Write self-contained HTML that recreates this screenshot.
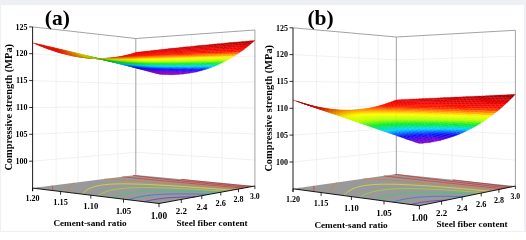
<!DOCTYPE html>
<html><head><meta charset="utf-8"><style>
html,body{margin:0;padding:0;background:#fff;}
svg{display:block;will-change:transform;}
.t{font-family:"Liberation Serif",serif;font-weight:bold;font-size:8px;fill:#000;}
.l{font-family:"Liberation Serif",serif;font-weight:bold;font-size:9.2px;fill:#000;}
.z{font-family:"Liberation Serif",serif;font-weight:bold;font-size:10.35px;fill:#000;}
.h{font-family:"Liberation Serif",serif;font-weight:bold;font-size:21.5px;fill:#000;}
</style></head><body>
<svg width="526" height="232" viewBox="0 0 526 232">
<rect x="0" y="0" width="526" height="232" fill="#eff0f5"/>
<rect x="1" y="5" width="523" height="226" fill="#fff"/>
<path d="M56.1 185.1L56.1 29.5" stroke="#e8e8e8" stroke-width="0.6" fill="none"/>
<path d="M78 182.4L78 32" stroke="#e8e8e8" stroke-width="0.6" fill="none"/>
<path d="M98.5 179.8L98.5 34.3" stroke="#e8e8e8" stroke-width="0.6" fill="none"/>
<path d="M117.8 177.4L117.8 36.5" stroke="#e8e8e8" stroke-width="0.6" fill="none"/>
<path d="M162.7 177.6L162.7 36.6" stroke="#e8e8e8" stroke-width="0.6" fill="none"/>
<path d="M191.4 180.2L191.4 34.5" stroke="#e8e8e8" stroke-width="0.6" fill="none"/>
<path d="M222 183L222 32.3" stroke="#e8e8e8" stroke-width="0.6" fill="none"/>
<path d="M32.6 161.2L135.8 152.3L254.9 160" stroke="#e8e8e8" stroke-width="0.6" fill="none"/>
<path d="M32.6 134.3L135.8 129.6L254.9 134" stroke="#e8e8e8" stroke-width="0.6" fill="none"/>
<path d="M32.6 107.5L135.8 106.8L254.9 108" stroke="#e8e8e8" stroke-width="0.6" fill="none"/>
<path d="M32.6 80.6L135.8 84L254.9 82" stroke="#e8e8e8" stroke-width="0.6" fill="none"/>
<path d="M32.6 53.7L135.8 61.3L254.9 56" stroke="#e8e8e8" stroke-width="0.6" fill="none"/>
<path d="M32.6 26.9L135.8 38.5L254.9 30" stroke="#8c8c8c" stroke-width="0.8" fill="none"/>
<path d="M135.8 175.1L135.8 38.5" stroke="#8c8c8c" stroke-width="0.8" fill="none"/>
<path d="M254.9 186L254.9 30" stroke="#8c8c8c" stroke-width="0.8" fill="none"/>
<path d="M32.6 188.1L159 203.5L254.9 186L135.8 175.1Z" fill="#999999"/>
<path d="M144.6 201.7L146.3 201.2L149.2 200.5L152.3 199.9L155.7 199.3L159.4 198.8L163.5 198.3L166.4 198L169.6 197.7L173.1 197.5L176.5 197.3L180.4 197.1L184.5 197L188 196.9L191.4 196.8L195.5 196.8L195.5 196.8" stroke="#6928cb" stroke-width="0.7" fill="none"/>
<path d="M128.5 199.7L129.9 199.2L132.2 198.5L133.9 198.1L136.6 197.4L138.5 197L141.7 196.4L145.1 195.9L147.8 195.5L151.6 195.1L154.6 194.8L158.1 194.6L161.6 194.4L164.8 194.2L168.8 194.1L172.9 194L175.5 193.9L180.1 193.9L183 193.9L186.7 193.9L190.9 194L194.7 194L197.9 194.1L201.4 194.2L205 194.3L208.6 194.4" stroke="#2a72e3" stroke-width="0.7" fill="none"/>
<path d="M112.7 197.8L113.9 197.3L115.3 196.7L116.9 196.1L118.3 195.6L119.8 195.1L121.5 194.6L123.9 194L126 193.6L128.6 193.1L131.9 192.6L135 192.2L138.3 191.9L141.2 191.6L144.7 191.4L148 191.2L151.4 191.1L155.5 190.9L158.6 190.9L162.3 190.9L165.3 190.9L169.5 190.9L173.1 190.9L176.1 191L179.4 191.1L183 191.2L186.7 191.3L190.3 191.4L194.2 191.5L198.4 191.7L202.7 191.9L206.1 192.1L209.6 192.2L213 192.4L218.1 192.7L218.1 192.7" stroke="#26d181" stroke-width="0.7" fill="none"/>
<path d="M97.3 195.9L98.1 195.4L98.8 195L99.6 194.5L100.4 194.1L101.4 193.6L102.4 193.1L103.6 192.6L105 192.1L106.6 191.5L108.1 191L109.6 190.6L111.9 190.1L113.8 189.7L116.8 189.2L120.1 188.7L123.6 188.4L126.8 188.1L129.9 187.9L133.4 187.8L136.9 187.7L139.4 187.6L143.7 187.6L146.1 187.6L150 187.6L153.8 187.7L157.3 187.7L160.6 187.8L164.1 187.9L167.8 188L171.4 188.2L174.7 188.3L178 188.5L181.3 188.6L185.2 188.8L189.3 189L192.5 189.2L195.9 189.4L200.5 189.7L203.6 189.9L208.2 190.2L211.5 190.4L215.1 190.6L219.4 190.9L222.6 191.1L225.7 191.3" stroke="#9ce32a" stroke-width="0.7" fill="none"/>
<path d="M82.3 194.1L82.6 193.7L83 193.3L83.6 192.7L84.1 192.2L84.5 191.8L85.1 191.3L85.8 190.8L86.5 190.3L87.1 189.9L87.7 189.5L88.5 189.1L89.4 188.6L90.3 188.2L91.3 187.7L92.4 187.3L93.6 186.9L94.9 186.5L97.1 186L98.7 185.6L101.4 185.1L104.6 184.7L108.3 184.3L111.1 184.2L114.3 184L118 183.9L120.6 183.9L124.5 183.8L127 183.9L130.3 183.9L133.8 184L137.1 184.1L140.4 184.2L143.6 184.3L146.7 184.4L150.9 184.6L154.3 184.8L157.3 185L160.8 185.1L164.7 185.4L167.7 185.5L172.1 185.8L175 186L179.1 186.3L182.3 186.5L186.4 186.7L189.5 187L193.9 187.3L196.8 187.5L201.2 187.8L204.1 188L208.5 188.3L212.7 188.6L215.9 188.9L220.3 189.2L223.3 189.4L227.8 189.8L232.3 190.1L232.3 190.1" stroke="#e5e526" stroke-width="0.7" fill="none"/>
<path d="M67.5 192.3L67.7 191.7L67.9 191.4L68.1 190.8L68.2 190.4L68.4 190L68.6 189.5L68.8 189.1L69 188.6L69.2 188.3L69.5 187.8L69.7 187.4L69.9 187L70.2 186.5L70.4 186.2L70.8 185.7L71.1 185.3L71.4 185L71.8 184.5L72.1 184.1L72.5 183.8L73 183.3L73.5 182.9L73.5 182.9" stroke="#e57826" stroke-width="0.7" fill="none"/>
<path d="M104.1 179.1L107.1 179.2L109.9 179.3L113.2 179.5L116.7 179.7L119.3 179.8L123.3 180.1L125.9 180.2L129.7 180.5L132.3 180.7L136.1 180.9L138.7 181.1L142.5 181.4L146.3 181.7L148.9 181.9L152.7 182.1L156.6 182.4L159.2 182.6L163 182.9L166.9 183.2L169.5 183.4L173.4 183.8L177.4 184.1L181.3 184.4L184 184.6L188 184.9L192 185.3L195.7 185.6L198.8 185.8L202.8 186.1L207 186.5L211.1 186.8L213.9 187L218.1 187.4L222.3 187.7L226.5 188.1L229.4 188.3L233.7 188.7L238 189.1L238 189.1" stroke="#e57826" stroke-width="0.7" fill="none"/>
<path d="M53.1 190.6L53 190.1L52.9 189.6L52.9 189.3L52.8 188.8L52.7 188.4L52.6 187.9L52.5 187.5L52.4 187.2L52.3 186.6L52.2 186.3L52 185.9L52 185.6" stroke="#e03026" stroke-width="0.7" fill="none"/>
<path d="M122.5 176.8L124.5 177L127.5 177.3L130.6 177.6L133.7 178L136.8 178.3L140 178.6L143.3 178.9L146.6 179.3L149.9 179.6L153.3 179.9L156.6 180.2L160.1 180.6L163.6 180.9L167.1 181.2L170.6 181.5L174.2 181.9L177.8 182.2L181.4 182.6L185.1 182.9L188.8 183.2L192.6 183.6L196.4 183.9L200.2 184.3L204.1 184.6L208 185L211.9 185.3L215.9 185.7L218.5 185.9L222.5 186.3L226.6 186.6L230.7 187L234.8 187.4L239 187.7L243.2 188.1L243.2 188.1" stroke="#e03026" stroke-width="0.7" fill="none"/>
<path d="M38.9 188.8L38.7 188.4L38.3 187.9L38.1 187.5L38 187.4" stroke="#d22626" stroke-width="0.7" fill="none"/>
<path d="M133.2 175.4L135.9 175.8L138.6 176.1L140.5 176.4L143.4 176.7L146.1 177L148.2 177.3L151.2 177.6L154.3 178L156.3 178.2L159.4 178.5L162.6 178.9L165.8 179.2L168.1 179.5L171.2 179.8L174.5 180.1L177.9 180.5L181.3 180.8L184.7 181.2L188.2 181.5L190.5 181.8L194.1 182.1L197.7 182.5L201.3 182.8L205 183.2L208.7 183.6L212.4 183.9L216.2 184.3L220 184.6L223.9 185L227.8 185.4L231.7 185.8L235.7 186.1L239.7 186.5L243.8 186.9L247.9 187.3L247.9 187.3" stroke="#d22626" stroke-width="0.7" fill="none"/>
<path d="M181.3 179.3L184.1 179.6L187.4 179.9L190.7 180.3L193.3 180.6L196.3 180.9L199.8 181.3L203.3 181.6L206.8 182L209.8 182.3L212.7 182.6L216.4 183L220 183.3L223.7 183.7L227.5 184.1L231.3 184.4L235.1 184.8L237.7 185.1L241.6 185.5L245.5 185.8L249.5 186.2L252.2 186.5" stroke="#b42626" stroke-width="0.7" fill="none"/>
<path d="M32.6 188.1L159 203.5L254.9 186" stroke="#000" stroke-width="0.9" fill="none"/>
<path d="M32.6 188.1V191.3" stroke="#000" stroke-width="0.8"/>
<path d="M60.6 191.5V194.8" stroke="#000" stroke-width="0.8"/>
<path d="M90.8 195.2V198.6" stroke="#000" stroke-width="0.8"/>
<path d="M123.5 199.1V202.7" stroke="#000" stroke-width="0.8"/>
<path d="M159 203.5V207.2" stroke="#000" stroke-width="0.8"/>
<path d="M181.3 199.4V203" stroke="#000" stroke-width="0.8"/>
<path d="M201.8 195.7V199.1" stroke="#000" stroke-width="0.8"/>
<path d="M220.8 192.2V195.5" stroke="#000" stroke-width="0.8"/>
<path d="M238.5 189V192.2" stroke="#000" stroke-width="0.8"/>
<path d="M254.9 186V189.1" stroke="#000" stroke-width="0.8"/>
<path d="M133.1 53.4L136.3 53L139.1 52.1L135.8 52.5Z" fill="#df0000" stroke="#df0000" stroke-width="0.3"/>
<path d="M136.3 53L139.6 52.7L142.4 51.7L139.1 52.1Z" fill="#dd0000" stroke="#dd0000" stroke-width="0.3"/>
<path d="M130.3 54.2L133.6 53.9L136.3 53L133.1 53.4Z" fill="#e70100" stroke="#e70100" stroke-width="0.3"/>
<path d="M139.6 52.7L143 52.3L145.7 51.3L142.4 51.7Z" fill="#db0000" stroke="#db0000" stroke-width="0.3"/>
<path d="M133.6 53.9L136.9 53.5L139.6 52.7L136.3 53Z" fill="#e80100" stroke="#e80100" stroke-width="0.3"/>
<path d="M127.5 54.9L130.8 54.6L133.6 53.9L130.3 54.2Z" fill="#e80500" stroke="#e80500" stroke-width="0.3"/>
<path d="M143 52.3L146.3 52L149 50.9L145.7 51.3Z" fill="#d90000" stroke="#d90000" stroke-width="0.3"/>
<path d="M136.9 53.5L140.2 53.2L143 52.3L139.6 52.7Z" fill="#e70100" stroke="#e70100" stroke-width="0.3"/>
<path d="M130.8 54.6L134.1 54.4L136.9 53.5L133.6 53.9Z" fill="#eb0500" stroke="#eb0500" stroke-width="0.3"/>
<path d="M124.7 55.6L128 55.3L130.8 54.6L127.5 54.9Z" fill="#e70900" stroke="#e70900" stroke-width="0.3"/>
<path d="M146.3 52L149.7 51.6L152.4 50.6L149 50.9Z" fill="#d70000" stroke="#d70000" stroke-width="0.3"/>
<path d="M140.2 53.2L143.6 52.9L146.3 52L143 52.3Z" fill="#e60000" stroke="#e60000" stroke-width="0.3"/>
<path d="M134.1 54.4L137.4 54.1L140.2 53.2L136.9 53.5Z" fill="#ec0500" stroke="#ec0500" stroke-width="0.3"/>
<path d="M128 55.3L131.3 55.1L134.1 54.4L130.8 54.6Z" fill="#ec0800" stroke="#ec0800" stroke-width="0.3"/>
<path d="M121.8 56.2L125.1 56L128 55.3L124.7 55.6Z" fill="#e70c00" stroke="#e70c00" stroke-width="0.3"/>
<path d="M149.7 51.6L153.1 51.3L155.8 50.2L152.4 50.6Z" fill="#d50000" stroke="#d50000" stroke-width="0.3"/>
<path d="M143.6 52.9L147 52.6L149.7 51.6L146.3 52Z" fill="#e50000" stroke="#e50000" stroke-width="0.3"/>
<path d="M137.4 54.1L140.8 53.8L143.6 52.9L140.2 53.2Z" fill="#ec0500" stroke="#ec0500" stroke-width="0.3"/>
<path d="M131.3 55.1L134.6 54.9L137.4 54.1L134.1 54.4Z" fill="#ef0800" stroke="#ef0800" stroke-width="0.3"/>
<path d="M125.1 56L128.4 55.8L131.3 55.1L128 55.3Z" fill="#eb0c00" stroke="#eb0c00" stroke-width="0.3"/>
<path d="M153.1 51.3L156.5 50.9L159.3 49.8L155.8 50.2Z" fill="#d30000" stroke="#d30000" stroke-width="0.3"/>
<path d="M118.9 56.7L122.2 56.6L125.1 56L121.8 56.2Z" fill="#e60f00" stroke="#e60f00" stroke-width="0.3"/>
<path d="M147 52.6L150.4 52.3L153.1 51.3L149.7 51.6Z" fill="#e30000" stroke="#e30000" stroke-width="0.3"/>
<path d="M140.8 53.8L144.2 53.5L147 52.6L143.6 52.9Z" fill="#eb0400" stroke="#eb0400" stroke-width="0.3"/>
<path d="M134.6 54.9L138 54.6L140.8 53.8L137.4 54.1Z" fill="#f10900" stroke="#f10900" stroke-width="0.3"/>
<path d="M128.4 55.8L131.8 55.6L134.6 54.9L131.3 55.1Z" fill="#ef0c00" stroke="#ef0c00" stroke-width="0.3"/>
<path d="M156.5 50.9L160 50.6L162.7 49.4L159.3 49.8Z" fill="#d10000" stroke="#d10000" stroke-width="0.3"/>
<path d="M122.2 56.6L125.5 56.4L128.4 55.8L125.1 56Z" fill="#eb0f00" stroke="#eb0f00" stroke-width="0.3"/>
<path d="M150.4 52.3L153.8 52L156.5 50.9L153.1 51.3Z" fill="#e10000" stroke="#e10000" stroke-width="0.3"/>
<path d="M116 57.2L119.3 57.1L122.2 56.6L118.9 56.7Z" fill="#e41100" stroke="#e41100" stroke-width="0.3"/>
<path d="M144.2 53.5L147.6 53.2L150.4 52.3L147 52.6Z" fill="#eb0400" stroke="#eb0400" stroke-width="0.3"/>
<path d="M138 54.6L141.4 54.4L144.2 53.5L140.8 53.8Z" fill="#f10800" stroke="#f10800" stroke-width="0.3"/>
<path d="M131.8 55.6L135.1 55.4L138 54.6L134.6 54.9Z" fill="#f40c00" stroke="#f40c00" stroke-width="0.3"/>
<path d="M160 50.6L163.5 50.2L166.2 49L162.7 49.4Z" fill="#cf0000" stroke="#cf0000" stroke-width="0.3"/>
<path d="M125.5 56.4L128.9 56.2L131.8 55.6L128.4 55.8Z" fill="#ee0f00" stroke="#ee0f00" stroke-width="0.3"/>
<path d="M153.8 52L157.3 51.7L160 50.6L156.5 50.9Z" fill="#e00000" stroke="#e00000" stroke-width="0.3"/>
<path d="M119.3 57.1L122.6 56.9L125.5 56.4L122.2 56.6Z" fill="#e91100" stroke="#e91100" stroke-width="0.3"/>
<path d="M147.6 53.2L151 53L153.8 52L150.4 52.3Z" fill="#ea0300" stroke="#ea0300" stroke-width="0.3"/>
<path d="M113.1 57.6L116.4 57.5L119.3 57.1L116 57.2Z" fill="#e02400" stroke="#e02400" stroke-width="0.3"/>
<path d="M141.4 54.4L144.8 54.1L147.6 53.2L144.2 53.5Z" fill="#f00800" stroke="#f00800" stroke-width="0.3"/>
<path d="M135.1 55.4L138.5 55.2L141.4 54.4L138 54.6Z" fill="#f60c00" stroke="#f60c00" stroke-width="0.3"/>
<path d="M163.5 50.2L167 49.9L169.7 48.6L166.2 49Z" fill="#cd0000" stroke="#cd0000" stroke-width="0.3"/>
<path d="M128.9 56.2L132.3 56L135.1 55.4L131.8 55.6Z" fill="#f30f00" stroke="#f30f00" stroke-width="0.3"/>
<path d="M157.3 51.7L160.8 51.3L163.5 50.2L160 50.6Z" fill="#de0000" stroke="#de0000" stroke-width="0.3"/>
<path d="M122.6 56.9L126 56.8L128.9 56.2L125.5 56.4Z" fill="#ed1200" stroke="#ed1200" stroke-width="0.3"/>
<path d="M151 53L154.5 52.7L157.3 51.7L153.8 52Z" fill="#ea0300" stroke="#ea0300" stroke-width="0.3"/>
<path d="M116.4 57.5L119.7 57.4L122.6 56.9L119.3 57.1Z" fill="#e52600" stroke="#e52600" stroke-width="0.3"/>
<path d="M144.8 54.1L148.3 53.9L151 53L147.6 53.2Z" fill="#f00800" stroke="#f00800" stroke-width="0.3"/>
<path d="M110.1 57.9L113.4 57.9L116.4 57.5L113.1 57.6Z" fill="#dc3900" stroke="#dc3900" stroke-width="0.3"/>
<path d="M138.5 55.2L142 55L144.8 54.1L141.4 54.4Z" fill="#f50c00" stroke="#f50c00" stroke-width="0.3"/>
<path d="M167 49.9L170.6 49.5L173.3 48.2L169.7 48.6Z" fill="#cb0000" stroke="#cb0000" stroke-width="0.3"/>
<path d="M132.3 56L135.7 55.9L138.5 55.2L135.1 55.4Z" fill="#f70f00" stroke="#f70f00" stroke-width="0.3"/>
<path d="M160.8 51.3L164.3 51L167 49.9L163.5 50.2Z" fill="#dd0000" stroke="#dd0000" stroke-width="0.3"/>
<path d="M126 56.8L129.4 56.7L132.3 56L128.9 56.2Z" fill="#f21300" stroke="#f21300" stroke-width="0.3"/>
<path d="M154.5 52.7L158 52.4L160.8 51.3L157.3 51.7Z" fill="#e90200" stroke="#e90200" stroke-width="0.3"/>
<path d="M119.7 57.4L123.1 57.3L126 56.8L122.6 56.9Z" fill="#e92900" stroke="#e92900" stroke-width="0.3"/>
<path d="M148.3 53.9L151.7 53.7L154.5 52.7L151 53Z" fill="#ef0800" stroke="#ef0800" stroke-width="0.3"/>
<path d="M113.4 57.9L116.8 57.8L119.7 57.4L116.4 57.5Z" fill="#e03c00" stroke="#e03c00" stroke-width="0.3"/>
<path d="M142 55L145.4 54.8L148.3 53.9L144.8 54.1Z" fill="#f50c00" stroke="#f50c00" stroke-width="0.3"/>
<path d="M170.6 49.5L174.1 49.2L176.8 47.9L173.3 48.2Z" fill="#ca0000" stroke="#ca0000" stroke-width="0.3"/>
<path d="M107.1 58.2L110.4 58.1L113.4 57.9L110.1 57.9Z" fill="#d74900" stroke="#d74900" stroke-width="0.3"/>
<path d="M135.7 55.9L139.1 55.7L142 55L138.5 55.2Z" fill="#fa1000" stroke="#fa1000" stroke-width="0.3"/>
<path d="M164.3 51L167.9 50.7L170.6 49.5L167 49.9Z" fill="#db0000" stroke="#db0000" stroke-width="0.3"/>
<path d="M129.4 56.7L132.8 56.5L135.7 55.9L132.3 56Z" fill="#f71300" stroke="#f71300" stroke-width="0.3"/>
<path d="M158 52.4L161.6 52.2L164.3 51L160.8 51.3Z" fill="#e90200" stroke="#e90200" stroke-width="0.3"/>
<path d="M123.1 57.3L126.5 57.2L129.4 56.7L126 56.8Z" fill="#ee2b00" stroke="#ee2b00" stroke-width="0.3"/>
<path d="M151.7 53.7L155.2 53.4L158 52.4L154.5 52.7Z" fill="#ef0700" stroke="#ef0700" stroke-width="0.3"/>
<path d="M116.8 57.8L120.1 57.7L123.1 57.3L119.7 57.4Z" fill="#e54000" stroke="#e54000" stroke-width="0.3"/>
<path d="M145.4 54.8L148.9 54.6L151.7 53.7L148.3 53.9Z" fill="#f50c00" stroke="#f50c00" stroke-width="0.3"/>
<path d="M174.1 49.2L177.8 48.8L180.4 47.5L176.8 47.9Z" fill="#c80000" stroke="#c80000" stroke-width="0.3"/>
<path d="M110.4 58.1L113.8 58.1L116.8 57.8L113.4 57.9Z" fill="#db4f00" stroke="#db4f00" stroke-width="0.3"/>
<path d="M139.1 55.7L142.6 55.5L145.4 54.8L142 55Z" fill="#fa1000" stroke="#fa1000" stroke-width="0.3"/>
<path d="M167.9 50.7L171.4 50.4L174.1 49.2L170.6 49.5Z" fill="#da0000" stroke="#da0000" stroke-width="0.3"/>
<path d="M104.1 58.4L107.4 58.4L110.4 58.1L107.1 58.2Z" fill="#d25700" stroke="#d25700" stroke-width="0.3"/>
<path d="M132.8 56.5L136.2 56.4L139.1 55.7L135.7 55.9Z" fill="#fc1300" stroke="#fc1300" stroke-width="0.3"/>
<path d="M161.6 52.2L165.1 51.9L167.9 50.7L164.3 51Z" fill="#e80200" stroke="#e80200" stroke-width="0.3"/>
<path d="M126.5 57.2L129.9 57.1L132.8 56.5L129.4 56.7Z" fill="#f32f00" stroke="#f32f00" stroke-width="0.3"/>
<path d="M155.2 53.4L158.8 53.2L161.6 52.2L158 52.4Z" fill="#ef0700" stroke="#ef0700" stroke-width="0.3"/>
<path d="M120.1 57.7L123.5 57.7L126.5 57.2L123.1 57.3Z" fill="#e94500" stroke="#e94500" stroke-width="0.3"/>
<path d="M148.9 54.6L152.4 54.4L155.2 53.4L151.7 53.7Z" fill="#f50c00" stroke="#f50c00" stroke-width="0.3"/>
<path d="M177.8 48.8L181.4 48.5L184.1 47.1L180.4 47.5Z" fill="#c60000" stroke="#c60000" stroke-width="0.3"/>
<path d="M113.8 58.1L117.1 58.1L120.1 57.7L116.8 57.8Z" fill="#e05500" stroke="#e05500" stroke-width="0.3"/>
<path d="M142.6 55.5L146.1 55.4L148.9 54.6L145.4 54.8Z" fill="#fa1000" stroke="#fa1000" stroke-width="0.3"/>
<path d="M171.4 50.4L175.1 50.1L177.8 48.8L174.1 49.2Z" fill="#d90000" stroke="#d90000" stroke-width="0.3"/>
<path d="M107.4 58.4L110.7 58.4L113.8 58.1L110.4 58.1Z" fill="#d75e00" stroke="#d75e00" stroke-width="0.3"/>
<path d="M136.2 56.4L139.7 56.3L142.6 55.5L139.1 55.7Z" fill="#ff1400" stroke="#ff1400" stroke-width="0.3"/>
<path d="M165.1 51.9L168.7 51.6L171.4 50.4L167.9 50.7Z" fill="#e80100" stroke="#e80100" stroke-width="0.3"/>
<path d="M101 58.5L104.3 58.5L107.4 58.4L104.1 58.4Z" fill="#ce6100" stroke="#ce6100" stroke-width="0.3"/>
<path d="M129.9 57.1L133.3 57L136.2 56.4L132.8 56.5Z" fill="#f73200" stroke="#f73200" stroke-width="0.3"/>
<path d="M158.8 53.2L162.4 53L165.1 51.9L161.6 52.2Z" fill="#ef0700" stroke="#ef0700" stroke-width="0.3"/>
<path d="M123.5 57.7L126.9 57.6L129.9 57.1L126.5 57.2Z" fill="#ee4a00" stroke="#ee4a00" stroke-width="0.3"/>
<path d="M152.4 54.4L156 54.2L158.8 53.2L155.2 53.4Z" fill="#f50c00" stroke="#f50c00" stroke-width="0.3"/>
<path d="M181.4 48.5L185.1 48.2L187.7 46.7L184.1 47.1Z" fill="#c50000" stroke="#c50000" stroke-width="0.3"/>
<path d="M117.1 58.1L120.5 58.1L123.5 57.7L120.1 57.7Z" fill="#e45b00" stroke="#e45b00" stroke-width="0.3"/>
<path d="M146.1 55.4L149.6 55.2L152.4 54.4L148.9 54.6Z" fill="#fa1000" stroke="#fa1000" stroke-width="0.3"/>
<path d="M175.1 50.1L178.7 49.8L181.4 48.5L177.8 48.8Z" fill="#d80000" stroke="#d80000" stroke-width="0.3"/>
<path d="M110.7 58.4L114.1 58.4L117.1 58.1L113.8 58.1Z" fill="#db6500" stroke="#db6500" stroke-width="0.3"/>
<path d="M139.7 56.3L143.2 56.2L146.1 55.4L142.6 55.5Z" fill="#ff1400" stroke="#ff1400" stroke-width="0.3"/>
<path d="M168.7 51.6L172.3 51.4L175.1 50.1L171.4 50.4Z" fill="#e70100" stroke="#e70100" stroke-width="0.3"/>
<path d="M104.3 58.5L107.7 58.5L110.7 58.4L107.4 58.4Z" fill="#d26900" stroke="#d26900" stroke-width="0.3"/>
<path d="M133.3 57L136.8 56.9L139.7 56.3L136.2 56.4Z" fill="#fc3600" stroke="#fc3600" stroke-width="0.3"/>
<path d="M162.4 53L166 52.7L168.7 51.6L165.1 51.9Z" fill="#ee0700" stroke="#ee0700" stroke-width="0.3"/>
<path d="M97.9 58.5L101.3 58.6L104.3 58.5L101 58.5Z" fill="#c96900" stroke="#c96900" stroke-width="0.3"/>
<path d="M126.9 57.6L130.4 57.6L133.3 57L129.9 57.1Z" fill="#f24f00" stroke="#f24f00" stroke-width="0.3"/>
<path d="M156 54.2L159.6 54L162.4 53L158.8 53.2Z" fill="#f50c00" stroke="#f50c00" stroke-width="0.3"/>
<path d="M185.1 48.2L188.8 47.8L191.4 46.4L187.7 46.7Z" fill="#c30000" stroke="#c30000" stroke-width="0.3"/>
<path d="M120.5 58.1L124 58L126.9 57.6L123.5 57.7Z" fill="#e96100" stroke="#e96100" stroke-width="0.3"/>
<path d="M149.6 55.2L153.2 55.1L156 54.2L152.4 54.4Z" fill="#fa1000" stroke="#fa1000" stroke-width="0.3"/>
<path d="M178.7 49.8L182.4 49.5L185.1 48.2L181.4 48.5Z" fill="#d60000" stroke="#d60000" stroke-width="0.3"/>
<path d="M114.1 58.4L117.5 58.4L120.5 58.1L117.1 58.1Z" fill="#e06c00" stroke="#e06c00" stroke-width="0.3"/>
<path d="M143.2 56.2L146.7 56L149.6 55.2L146.1 55.4Z" fill="#ff1500" stroke="#ff1500" stroke-width="0.3"/>
<path d="M172.3 51.4L176 51.1L178.7 49.8L175.1 50.1Z" fill="#e70100" stroke="#e70100" stroke-width="0.3"/>
<path d="M107.7 58.5L111.1 58.6L114.1 58.4L110.7 58.4Z" fill="#d67200" stroke="#d67200" stroke-width="0.3"/>
<path d="M136.8 56.9L140.3 56.8L143.2 56.2L139.7 56.3Z" fill="#ff3900" stroke="#ff3900" stroke-width="0.3"/>
<path d="M166 52.7L169.6 52.5L172.3 51.4L168.7 51.6Z" fill="#ee0600" stroke="#ee0600" stroke-width="0.3"/>
<path d="M101.3 58.6L104.6 58.6L107.7 58.5L104.3 58.5Z" fill="#cd7200" stroke="#cd7200" stroke-width="0.3"/>
<path d="M130.4 57.6L133.9 57.5L136.8 56.9L133.3 57Z" fill="#f75500" stroke="#f75500" stroke-width="0.3"/>
<path d="M159.6 54L163.2 53.8L166 52.7L162.4 53Z" fill="#f40c00" stroke="#f40c00" stroke-width="0.3"/>
<path d="M94.8 58.4L98.1 58.5L101.3 58.6L97.9 58.5Z" fill="#c46d00" stroke="#c46d00" stroke-width="0.3"/>
<path d="M188.8 47.8L192.5 47.5L195.1 46L191.4 46.4Z" fill="#c20000" stroke="#c20000" stroke-width="0.3"/>
<path d="M124 58L127.4 58L130.4 57.6L126.9 57.6Z" fill="#ed6800" stroke="#ed6800" stroke-width="0.3"/>
<path d="M153.2 55.1L156.7 54.9L159.6 54L156 54.2Z" fill="#fa1000" stroke="#fa1000" stroke-width="0.3"/>
<path d="M182.4 49.5L186.1 49.2L188.8 47.8L185.1 48.2Z" fill="#d50000" stroke="#d50000" stroke-width="0.3"/>
<path d="M117.5 58.4L121 58.4L124 58L120.5 58.1Z" fill="#e47500" stroke="#e47500" stroke-width="0.3"/>
<path d="M146.7 56L150.3 55.9L153.2 55.1L149.6 55.2Z" fill="#ff1700" stroke="#ff1700" stroke-width="0.3"/>
<path d="M176 51.1L179.7 50.8L182.4 49.5L178.7 49.8Z" fill="#e60000" stroke="#e60000" stroke-width="0.3"/>
<path d="M111.1 58.6L114.5 58.6L117.5 58.4L114.1 58.4Z" fill="#db7b00" stroke="#db7b00" stroke-width="0.3"/>
<path d="M140.3 56.8L143.9 56.8L146.7 56L143.2 56.2Z" fill="#ff3c00" stroke="#ff3c00" stroke-width="0.3"/>
<path d="M169.6 52.5L173.2 52.3L176 51.1L172.3 51.4Z" fill="#ee0600" stroke="#ee0600" stroke-width="0.3"/>
<path d="M104.6 58.6L108 58.7L111.1 58.6L107.7 58.5Z" fill="#d27c00" stroke="#d27c00" stroke-width="0.3"/>
<path d="M133.9 57.5L137.4 57.5L140.3 56.8L136.8 56.9Z" fill="#fb5a00" stroke="#fb5a00" stroke-width="0.3"/>
<path d="M163.2 53.8L166.8 53.6L169.6 52.5L166 52.7Z" fill="#f40c00" stroke="#f40c00" stroke-width="0.3"/>
<path d="M98.1 58.5L101.5 58.7L104.6 58.6L101.3 58.6Z" fill="#c97700" stroke="#c97700" stroke-width="0.3"/>
<path d="M192.5 47.5L196.2 47.2L198.9 45.6L195.1 46Z" fill="#c00000" stroke="#c00000" stroke-width="0.3"/>
<path d="M127.4 58L130.9 58L133.9 57.5L130.4 57.6Z" fill="#f26f00" stroke="#f26f00" stroke-width="0.3"/>
<path d="M156.7 54.9L160.4 54.8L163.2 53.8L159.6 54Z" fill="#fa1000" stroke="#fa1000" stroke-width="0.3"/>
<path d="M91.6 58.3L95 58.4L98.1 58.5L94.8 58.4Z" fill="#c06f00" stroke="#c06f00" stroke-width="0.3"/>
<path d="M186.1 49.2L189.8 48.9L192.5 47.5L188.8 47.8Z" fill="#d40000" stroke="#d40000" stroke-width="0.3"/>
<path d="M121 58.4L124.4 58.4L127.4 58L124 58Z" fill="#e87d00" stroke="#e87d00" stroke-width="0.3"/>
<path d="M150.3 55.9L153.9 55.8L156.7 54.9L153.2 55.1Z" fill="#ff1900" stroke="#ff1900" stroke-width="0.3"/>
<path d="M179.7 50.8L183.4 50.6L186.1 49.2L182.4 49.5Z" fill="#e60000" stroke="#e60000" stroke-width="0.3"/>
<path d="M114.5 58.6L117.9 58.7L121 58.4L117.5 58.4Z" fill="#df8400" stroke="#df8400" stroke-width="0.3"/>
<path d="M143.9 56.8L147.4 56.7L150.3 55.9L146.7 56Z" fill="#ff3f00" stroke="#ff3f00" stroke-width="0.3"/>
<path d="M173.2 52.3L176.9 52.1L179.7 50.8L176 51.1Z" fill="#ee0600" stroke="#ee0600" stroke-width="0.3"/>
<path d="M108 58.7L111.4 58.8L114.5 58.6L111.1 58.6Z" fill="#d68500" stroke="#d68500" stroke-width="0.3"/>
<path d="M137.4 57.5L140.9 57.4L143.9 56.8L140.3 56.8Z" fill="#ff6000" stroke="#ff6000" stroke-width="0.3"/>
<path d="M166.8 53.6L170.5 53.4L173.2 52.3L169.6 52.5Z" fill="#f40b00" stroke="#f40b00" stroke-width="0.3"/>
<path d="M101.5 58.7L104.9 58.8L108 58.7L104.6 58.6Z" fill="#cd8200" stroke="#cd8200" stroke-width="0.3"/>
<path d="M196.2 47.2L200 46.8L202.7 45.2L198.9 45.6Z" fill="#bf0000" stroke="#bf0000" stroke-width="0.3"/>
<path d="M130.9 58L134.4 58L137.4 57.5L133.9 57.5Z" fill="#f67700" stroke="#f67700" stroke-width="0.3"/>
<path d="M160.4 54.8L164 54.6L166.8 53.6L163.2 53.8Z" fill="#fa1000" stroke="#fa1000" stroke-width="0.3"/>
<path d="M95 58.4L98.3 58.6L101.5 58.7L98.1 58.5Z" fill="#c47a00" stroke="#c47a00" stroke-width="0.3"/>
<path d="M189.8 48.9L193.6 48.6L196.2 47.2L192.5 47.5Z" fill="#d30000" stroke="#d30000" stroke-width="0.3"/>
<path d="M124.4 58.4L127.9 58.5L130.9 58L127.4 58Z" fill="#ed8600" stroke="#ed8600" stroke-width="0.3"/>
<path d="M153.9 55.8L157.5 55.7L160.4 54.8L156.7 54.9Z" fill="#ff1b00" stroke="#ff1b00" stroke-width="0.3"/>
<path d="M88.5 58.1L91.8 58.3L95 58.4L91.6 58.3Z" fill="#b96d00" stroke="#b96d00" stroke-width="0.3"/>
<path d="M183.4 50.6L187.1 50.3L189.8 48.9L186.1 49.2Z" fill="#e60000" stroke="#e60000" stroke-width="0.3"/>
<path d="M117.9 58.7L121.4 58.8L124.4 58.4L121 58.4Z" fill="#e48e00" stroke="#e48e00" stroke-width="0.3"/>
<path d="M147.4 56.7L151 56.6L153.9 55.8L150.3 55.9Z" fill="#ff4300" stroke="#ff4300" stroke-width="0.3"/>
<path d="M176.9 52.1L180.6 51.9L183.4 50.6L179.7 50.8Z" fill="#ed0600" stroke="#ed0600" stroke-width="0.3"/>
<path d="M111.4 58.8L114.9 58.9L117.9 58.7L114.5 58.6Z" fill="#da9000" stroke="#da9000" stroke-width="0.3"/>
<path d="M140.9 57.4L144.5 57.4L147.4 56.7L143.9 56.8Z" fill="#ff6500" stroke="#ff6500" stroke-width="0.3"/>
<path d="M170.5 53.4L174.2 53.3L176.9 52.1L173.2 52.3Z" fill="#f40b00" stroke="#f40b00" stroke-width="0.3"/>
<path d="M104.9 58.8L108.3 58.9L111.4 58.8L108 58.7Z" fill="#d18d00" stroke="#d18d00" stroke-width="0.3"/>
<path d="M200 46.8L203.9 46.5L206.5 44.9L202.7 45.2Z" fill="#bd0000" stroke="#bd0000" stroke-width="0.3"/>
<path d="M134.4 58L138 58L140.9 57.4L137.4 57.5Z" fill="#fb7f00" stroke="#fb7f00" stroke-width="0.3"/>
<path d="M164 54.6L167.7 54.5L170.5 53.4L166.8 53.6Z" fill="#fb1000" stroke="#fb1000" stroke-width="0.3"/>
<path d="M98.3 58.6L101.7 58.8L104.9 58.8L101.5 58.7Z" fill="#c88600" stroke="#c88600" stroke-width="0.3"/>
<path d="M193.6 48.6L197.4 48.4L200 46.8L196.2 47.2Z" fill="#d20000" stroke="#d20000" stroke-width="0.3"/>
<path d="M127.9 58.5L131.4 58.5L134.4 58L130.9 58Z" fill="#f28f00" stroke="#f28f00" stroke-width="0.3"/>
<path d="M157.5 55.7L161.2 55.6L164 54.6L160.4 54.8Z" fill="#ff1d00" stroke="#ff1d00" stroke-width="0.3"/>
<path d="M91.8 58.3L95.2 58.5L98.3 58.6L95 58.4Z" fill="#bf7b00" stroke="#bf7b00" stroke-width="0.3"/>
<path d="M187.1 50.3L190.9 50.1L193.6 48.6L189.8 48.9Z" fill="#e50000" stroke="#e50000" stroke-width="0.3"/>
<path d="M121.4 58.8L124.9 58.8L127.9 58.5L124.4 58.4Z" fill="#e89800" stroke="#e89800" stroke-width="0.3"/>
<path d="M151 56.6L154.6 56.6L157.5 55.7L153.9 55.8Z" fill="#ff4600" stroke="#ff4600" stroke-width="0.3"/>
<path d="M85.2 57.8L88.6 58L91.8 58.3L88.5 58.1Z" fill="#bd7000" stroke="#bd7000" stroke-width="0.3"/>
<path d="M180.6 51.9L184.4 51.6L187.1 50.3L183.4 50.6Z" fill="#ed0600" stroke="#ed0600" stroke-width="0.3"/>
<path d="M114.9 58.9L118.3 59L121.4 58.8L117.9 58.7Z" fill="#df9b00" stroke="#df9b00" stroke-width="0.3"/>
<path d="M144.5 57.4L148.1 57.4L151 56.6L147.4 56.7Z" fill="#ff6900" stroke="#ff6900" stroke-width="0.3"/>
<path d="M174.2 53.3L177.9 53.1L180.6 51.9L176.9 52.1Z" fill="#f40b00" stroke="#f40b00" stroke-width="0.3"/>
<path d="M108.3 58.9L111.8 59L114.9 58.9L111.4 58.8Z" fill="#d69900" stroke="#d69900" stroke-width="0.3"/>
<path d="M203.9 46.5L207.7 46.2L210.3 44.5L206.5 44.9Z" fill="#bc0000" stroke="#bc0000" stroke-width="0.3"/>
<path d="M138 58L141.6 58L144.5 57.4L140.9 57.4Z" fill="#ff8700" stroke="#ff8700" stroke-width="0.3"/>
<path d="M167.7 54.5L171.4 54.4L174.2 53.3L170.5 53.4Z" fill="#fb1100" stroke="#fb1100" stroke-width="0.3"/>
<path d="M101.7 58.8L105.2 58.9L108.3 58.9L104.9 58.8Z" fill="#cd9200" stroke="#cd9200" stroke-width="0.3"/>
<path d="M197.4 48.4L201.2 48.1L203.9 46.5L200 46.8Z" fill="#d10000" stroke="#d10000" stroke-width="0.3"/>
<path d="M131.4 58.5L135 58.5L138 58L134.4 58Z" fill="#f69800" stroke="#f69800" stroke-width="0.3"/>
<path d="M161.2 55.6L164.8 55.5L167.7 54.5L164 54.6Z" fill="#ff2000" stroke="#ff2000" stroke-width="0.3"/>
<path d="M95.2 58.5L98.6 58.7L101.7 58.8L98.3 58.6Z" fill="#c48700" stroke="#c48700" stroke-width="0.3"/>
<path d="M190.9 50.1L194.7 49.8L197.4 48.4L193.6 48.6Z" fill="#e40000" stroke="#e40000" stroke-width="0.3"/>
<path d="M124.9 58.8L128.4 58.9L131.4 58.5L127.9 58.5Z" fill="#eda200" stroke="#eda200" stroke-width="0.3"/>
<path d="M154.6 56.6L158.3 56.5L161.2 55.6L157.5 55.7Z" fill="#ff4a00" stroke="#ff4a00" stroke-width="0.3"/>
<path d="M88.6 58L92 58.2L95.2 58.5L91.8 58.3Z" fill="#b97700" stroke="#b97700" stroke-width="0.3"/>
<path d="M184.4 51.6L188.2 51.4L190.9 50.1L187.1 50.3Z" fill="#ed0600" stroke="#ed0600" stroke-width="0.3"/>
<path d="M118.3 59L121.8 59.1L124.9 58.8L121.4 58.8Z" fill="#e3a700" stroke="#e3a700" stroke-width="0.3"/>
<path d="M148.1 57.4L151.7 57.3L154.6 56.6L151 56.6Z" fill="#ff6e00" stroke="#ff6e00" stroke-width="0.3"/>
<path d="M82 57.4L85.3 57.7L88.6 58L85.2 57.8Z" fill="#c17000" stroke="#c17000" stroke-width="0.3"/>
<path d="M177.9 53.1L181.7 52.9L184.4 51.6L180.6 51.9Z" fill="#f40b00" stroke="#f40b00" stroke-width="0.3"/>
<path d="M111.8 59L115.2 59.2L118.3 59L114.9 58.9Z" fill="#daa500" stroke="#daa500" stroke-width="0.3"/>
<path d="M207.7 46.2L211.6 45.8L214.2 44.1L210.3 44.5Z" fill="#bb0000" stroke="#bb0000" stroke-width="0.3"/>
<path d="M141.6 58L145.2 58L148.1 57.4L144.5 57.4Z" fill="#ff8d00" stroke="#ff8d00" stroke-width="0.3"/>
<path d="M171.4 54.4L175.1 54.2L177.9 53.1L174.2 53.3Z" fill="#fb1100" stroke="#fb1100" stroke-width="0.3"/>
<path d="M105.2 58.9L108.6 59.1L111.8 59L108.3 58.9Z" fill="#d19f00" stroke="#d19f00" stroke-width="0.3"/>
<path d="M201.2 48.1L205.1 47.8L207.7 46.2L203.9 46.5Z" fill="#d00000" stroke="#d00000" stroke-width="0.3"/>
<path d="M135 58.5L138.6 58.6L141.6 58L138 58Z" fill="#fba200" stroke="#fba200" stroke-width="0.3"/>
<path d="M164.8 55.5L168.5 55.4L171.4 54.4L167.7 54.5Z" fill="#ff2200" stroke="#ff2200" stroke-width="0.3"/>
<path d="M98.6 58.7L102 58.9L105.2 58.9L101.7 58.8Z" fill="#c89400" stroke="#c89400" stroke-width="0.3"/>
<path d="M194.7 49.8L198.5 49.6L201.2 48.1L197.4 48.4Z" fill="#e40000" stroke="#e40000" stroke-width="0.3"/>
<path d="M128.4 58.9L132 59L135 58.5L131.4 58.5Z" fill="#f1ad00" stroke="#f1ad00" stroke-width="0.3"/>
<path d="M158.3 56.5L162 56.4L164.8 55.5L161.2 55.6Z" fill="#ff4d00" stroke="#ff4d00" stroke-width="0.3"/>
<path d="M92 58.2L95.4 58.5L98.6 58.7L95.2 58.5Z" fill="#bf8600" stroke="#bf8600" stroke-width="0.3"/>
<path d="M188.2 51.4L192 51.2L194.7 49.8L190.9 50.1Z" fill="#ed0600" stroke="#ed0600" stroke-width="0.3"/>
<path d="M121.8 59.1L125.4 59.2L128.4 58.9L124.9 58.8Z" fill="#e8b200" stroke="#e8b200" stroke-width="0.3"/>
<path d="M151.7 57.3L155.4 57.3L158.3 56.5L154.6 56.6Z" fill="#ff7300" stroke="#ff7300" stroke-width="0.3"/>
<path d="M85.3 57.7L88.7 57.9L92 58.2L88.6 58Z" fill="#bd7900" stroke="#bd7900" stroke-width="0.3"/>
<path d="M181.7 52.9L185.4 52.7L188.2 51.4L184.4 51.6Z" fill="#f40b00" stroke="#f40b00" stroke-width="0.3"/>
<path d="M115.2 59.2L118.7 59.3L121.8 59.1L118.3 59Z" fill="#deb200" stroke="#deb200" stroke-width="0.3"/>
<path d="M211.6 45.8L215.5 45.5L218.1 43.7L214.2 44.1Z" fill="#ba0000" stroke="#ba0000" stroke-width="0.3"/>
<path d="M145.2 58L148.8 58L151.7 57.3L148.1 57.4Z" fill="#ff9300" stroke="#ff9300" stroke-width="0.3"/>
<path d="M78.7 57L82 57.3L85.3 57.7L82 57.4Z" fill="#c56e00" stroke="#c56e00" stroke-width="0.3"/>
<path d="M175.1 54.2L178.9 54.1L181.7 52.9L177.9 53.1Z" fill="#fb1100" stroke="#fb1100" stroke-width="0.3"/>
<path d="M108.6 59.1L112.1 59.3L115.2 59.2L111.8 59Z" fill="#d5ac00" stroke="#d5ac00" stroke-width="0.3"/>
<path d="M205.1 47.8L209 47.5L211.6 45.8L207.7 46.2Z" fill="#cf0000" stroke="#cf0000" stroke-width="0.3"/>
<path d="M138.6 58.6L142.2 58.6L145.2 58L141.6 58Z" fill="#ffac00" stroke="#ffac00" stroke-width="0.3"/>
<path d="M168.5 55.4L172.3 55.3L175.1 54.2L171.4 54.4Z" fill="#ff2500" stroke="#ff2500" stroke-width="0.3"/>
<path d="M102 58.9L105.5 59.1L108.6 59.1L105.2 58.9Z" fill="#cca200" stroke="#cca200" stroke-width="0.3"/>
<path d="M198.5 49.6L202.4 49.3L205.1 47.8L201.2 48.1Z" fill="#e30000" stroke="#e30000" stroke-width="0.3"/>
<path d="M132 59L135.6 59.1L138.6 58.6L135 58.5Z" fill="#f6b900" stroke="#f6b900" stroke-width="0.3"/>
<path d="M162 56.4L165.7 56.4L168.5 55.4L164.8 55.5Z" fill="#ff5100" stroke="#ff5100" stroke-width="0.3"/>
<path d="M95.4 58.5L98.8 58.7L102 58.9L98.6 58.7Z" fill="#c39400" stroke="#c39400" stroke-width="0.3"/>
<path d="M192 51.2L195.8 51L198.5 49.6L194.7 49.8Z" fill="#ed0500" stroke="#ed0500" stroke-width="0.3"/>
<path d="M125.4 59.2L128.9 59.3L132 59L128.4 58.9Z" fill="#ecbf00" stroke="#ecbf00" stroke-width="0.3"/>
<path d="M155.4 57.3L159.1 57.3L162 56.4L158.3 56.5Z" fill="#ff7800" stroke="#ff7800" stroke-width="0.3"/>
<path d="M88.7 57.9L92.1 58.2L95.4 58.5L92 58.2Z" fill="#b98200" stroke="#b98200" stroke-width="0.3"/>
<path d="M185.4 52.7L189.3 52.6L192 51.2L188.2 51.4Z" fill="#f40b00" stroke="#f40b00" stroke-width="0.3"/>
<path d="M118.7 59.3L122.3 59.5L125.4 59.2L121.8 59.1Z" fill="#e3bf00" stroke="#e3bf00" stroke-width="0.3"/>
<path d="M215.5 45.5L219.5 45.2L222 43.4L218.1 43.7Z" fill="#b80000" stroke="#b80000" stroke-width="0.3"/>
<path d="M148.8 58L152.5 58.1L155.4 57.3L151.7 57.3Z" fill="#ff9900" stroke="#ff9900" stroke-width="0.3"/>
<path d="M82 57.3L85.4 57.6L88.7 57.9L85.3 57.7Z" fill="#c17800" stroke="#c17800" stroke-width="0.3"/>
<path d="M178.9 54.1L182.7 54L185.4 52.7L181.7 52.9Z" fill="#fb1100" stroke="#fb1100" stroke-width="0.3"/>
<path d="M112.1 59.3L115.6 59.4L118.7 59.3L115.2 59.2Z" fill="#daba00" stroke="#daba00" stroke-width="0.3"/>
<path d="M209 47.5L212.9 47.2L215.5 45.5L211.6 45.8Z" fill="#ce0000" stroke="#ce0000" stroke-width="0.3"/>
<path d="M142.2 58.6L145.8 58.7L148.8 58L145.2 58Z" fill="#ffb300" stroke="#ffb300" stroke-width="0.3"/>
<path d="M75.4 56.4L78.7 56.7L82 57.3L78.7 57Z" fill="#ca6900" stroke="#ca6900" stroke-width="0.3"/>
<path d="M172.3 55.3L176.1 55.2L178.9 54.1L175.1 54.2Z" fill="#ff2800" stroke="#ff2800" stroke-width="0.3"/>
<path d="M105.5 59.1L108.9 59.3L112.1 59.3L108.6 59.1Z" fill="#d1b000" stroke="#d1b000" stroke-width="0.3"/>
<path d="M202.4 49.3L206.3 49.1L209 47.5L205.1 47.8Z" fill="#e20000" stroke="#e20000" stroke-width="0.3"/>
<path d="M135.6 59.1L139.2 59.1L142.2 58.6L138.6 58.6Z" fill="#fac400" stroke="#fac400" stroke-width="0.3"/>
<path d="M165.7 56.4L169.4 56.3L172.3 55.3L168.5 55.4Z" fill="#ff5600" stroke="#ff5600" stroke-width="0.3"/>
<path d="M98.8 58.7L102.3 59L105.5 59.1L102 58.9Z" fill="#c8a300" stroke="#c8a300" stroke-width="0.3"/>
<path d="M195.8 51L199.7 50.8L202.4 49.3L198.5 49.6Z" fill="#ed0500" stroke="#ed0500" stroke-width="0.3"/>
<path d="M128.9 59.3L132.5 59.5L135.6 59.1L132 59Z" fill="#f1cc00" stroke="#f1cc00" stroke-width="0.3"/>
<path d="M159.1 57.3L162.8 57.3L165.7 56.4L162 56.4Z" fill="#ff7e00" stroke="#ff7e00" stroke-width="0.3"/>
<path d="M92.1 58.2L95.6 58.5L98.8 58.7L95.4 58.5Z" fill="#b58a00" stroke="#b58a00" stroke-width="0.3"/>
<path d="M189.3 52.6L193.1 52.4L195.8 51L192 51.2Z" fill="#f40c00" stroke="#f40c00" stroke-width="0.3"/>
<path d="M122.3 59.5L125.8 59.6L128.9 59.3L125.4 59.2Z" fill="#e7cd00" stroke="#e7cd00" stroke-width="0.3"/>
<path d="M219.5 45.2L223.5 44.9L226 43L222 43.4Z" fill="#b70000" stroke="#b70000" stroke-width="0.3"/>
<path d="M152.5 58.1L156.2 58.1L159.1 57.3L155.4 57.3Z" fill="#ff9f00" stroke="#ff9f00" stroke-width="0.3"/>
<path d="M85.4 57.6L88.8 57.9L92.1 58.2L88.7 57.9Z" fill="#be8300" stroke="#be8300" stroke-width="0.3"/>
<path d="M182.7 54L186.5 53.8L189.3 52.6L185.4 52.7Z" fill="#fb1100" stroke="#fb1100" stroke-width="0.3"/>
<path d="M115.6 59.4L119.2 59.6L122.3 59.5L118.7 59.3Z" fill="#dec800" stroke="#dec800" stroke-width="0.3"/>
<path d="M212.9 47.2L216.9 46.9L219.5 45.2L215.5 45.5Z" fill="#cd0000" stroke="#cd0000" stroke-width="0.3"/>
<path d="M145.8 58.7L149.5 58.7L152.5 58.1L148.8 58Z" fill="#ffbb00" stroke="#ffbb00" stroke-width="0.3"/>
<path d="M78.7 56.7L82.1 57.1L85.4 57.6L82 57.3Z" fill="#c67500" stroke="#c67500" stroke-width="0.3"/>
<path d="M176.1 55.2L179.9 55.1L182.7 54L178.9 54.1Z" fill="#ff2b00" stroke="#ff2b00" stroke-width="0.3"/>
<path d="M108.9 59.3L112.5 59.5L115.6 59.4L112.1 59.3Z" fill="#d5bf00" stroke="#d5bf00" stroke-width="0.3"/>
<path d="M206.3 49.1L210.3 48.8L212.9 47.2L209 47.5Z" fill="#e20000" stroke="#e20000" stroke-width="0.3"/>
<path d="M139.2 59.1L142.8 59.2L145.8 58.7L142.2 58.6Z" fill="#ffd100" stroke="#ffd100" stroke-width="0.3"/>
<path d="M72 55.8L75.4 56.2L78.7 56.7L75.4 56.4Z" fill="#ce6100" stroke="#ce6100" stroke-width="0.3"/>
<path d="M169.4 56.3L173.2 56.3L176.1 55.2L172.3 55.3Z" fill="#ff5a00" stroke="#ff5a00" stroke-width="0.3"/>
<path d="M102.3 59L105.7 59.2L108.9 59.3L105.5 59.1Z" fill="#ccb100" stroke="#ccb100" stroke-width="0.3"/>
<path d="M199.7 50.8L203.6 50.6L206.3 49.1L202.4 49.3Z" fill="#ed0500" stroke="#ed0500" stroke-width="0.3"/>
<path d="M132.5 59.5L136.1 59.6L139.2 59.1L135.6 59.1Z" fill="#f5d900" stroke="#f5d900" stroke-width="0.3"/>
<path d="M162.8 57.3L166.6 57.3L169.4 56.3L165.7 56.4Z" fill="#ff8300" stroke="#ff8300" stroke-width="0.3"/>
<path d="M95.6 58.5L99 58.8L102.3 59L98.8 58.7Z" fill="#c3a000" stroke="#c3a000" stroke-width="0.3"/>
<path d="M193.1 52.4L197 52.2L199.7 50.8L195.8 51Z" fill="#f40c00" stroke="#f40c00" stroke-width="0.3"/>
<path d="M125.8 59.6L129.4 59.8L132.5 59.5L128.9 59.3Z" fill="#ecdb00" stroke="#ecdb00" stroke-width="0.3"/>
<path d="M223.5 44.9L227.5 44.5L230 42.6L226 43Z" fill="#b60000" stroke="#b60000" stroke-width="0.3"/>
<path d="M156.2 58.1L159.9 58.1L162.8 57.3L159.1 57.3Z" fill="#ffa600" stroke="#ffa600" stroke-width="0.3"/>
<path d="M88.8 57.9L92.3 58.2L95.6 58.5L92.1 58.2Z" fill="#ba8c00" stroke="#ba8c00" stroke-width="0.3"/>
<path d="M186.5 53.8L190.4 53.7L193.1 52.4L189.3 52.6Z" fill="#fc1100" stroke="#fc1100" stroke-width="0.3"/>
<path d="M119.2 59.6L122.7 59.8L125.8 59.6L122.3 59.5Z" fill="#e3d700" stroke="#e3d700" stroke-width="0.3"/>
<path d="M216.9 46.9L220.9 46.6L223.5 44.9L219.5 45.2Z" fill="#cd0000" stroke="#cd0000" stroke-width="0.3"/>
<path d="M149.5 58.7L153.2 58.8L156.2 58.1L152.5 58.1Z" fill="#ffc300" stroke="#ffc300" stroke-width="0.3"/>
<path d="M82.1 57.1L85.5 57.4L88.8 57.9L85.4 57.6Z" fill="#c28000" stroke="#c28000" stroke-width="0.3"/>
<path d="M179.9 55.1L183.7 55L186.5 53.8L182.7 54Z" fill="#ff2e00" stroke="#ff2e00" stroke-width="0.3"/>
<path d="M112.5 59.5L116 59.7L119.2 59.6L115.6 59.4Z" fill="#d9ce00" stroke="#d9ce00" stroke-width="0.3"/>
<path d="M210.3 48.8L214.2 48.6L216.9 46.9L212.9 47.2Z" fill="#e10000" stroke="#e10000" stroke-width="0.3"/>
<path d="M142.8 59.2L146.5 59.3L149.5 58.7L145.8 58.7Z" fill="#ffda00" stroke="#ffda00" stroke-width="0.3"/>
<path d="M75.4 56.2L78.8 56.5L82.1 57.1L78.7 56.7Z" fill="#ca6f00" stroke="#ca6f00" stroke-width="0.3"/>
<path d="M173.2 56.3L177 56.2L179.9 55.1L176.1 55.2Z" fill="#ff5e00" stroke="#ff5e00" stroke-width="0.3"/>
<path d="M105.7 59.2L109.3 59.5L112.5 59.5L108.9 59.3Z" fill="#d0c100" stroke="#d0c100" stroke-width="0.3"/>
<path d="M203.6 50.6L207.6 50.4L210.3 48.8L206.3 49.1Z" fill="#ed0500" stroke="#ed0500" stroke-width="0.3"/>
<path d="M136.1 59.6L139.8 59.7L142.8 59.2L139.2 59.1Z" fill="#fae700" stroke="#fae700" stroke-width="0.3"/>
<path d="M68.6 55.1L72 55.5L75.4 56.2L72 55.8Z" fill="#d25600" stroke="#d25600" stroke-width="0.3"/>
<path d="M166.6 57.3L170.4 57.3L173.2 56.3L169.4 56.3Z" fill="#ff8900" stroke="#ff8900" stroke-width="0.3"/>
<path d="M99 58.8L102.5 59.1L105.7 59.2L102.3 59Z" fill="#c7b000" stroke="#c7b000" stroke-width="0.3"/>
<path d="M197 52.2L200.9 52.1L203.6 50.6L199.7 50.8Z" fill="#f50c00" stroke="#f50c00" stroke-width="0.3"/>
<path d="M129.4 59.8L133.1 59.9L136.1 59.6L132.5 59.5Z" fill="#f1ea00" stroke="#f1ea00" stroke-width="0.3"/>
<path d="M227.5 44.5L231.5 44.2L234.1 42.3L230 42.6Z" fill="#b50000" stroke="#b50000" stroke-width="0.3"/>
<path d="M159.9 58.1L163.7 58.1L166.6 57.3L162.8 57.3Z" fill="#ffad00" stroke="#ffad00" stroke-width="0.3"/>
<path d="M92.3 58.2L95.8 58.5L99 58.8L95.6 58.5Z" fill="#b69500" stroke="#b69500" stroke-width="0.3"/>
<path d="M190.4 53.7L194.3 53.6L197 52.2L193.1 52.4Z" fill="#fc1100" stroke="#fc1100" stroke-width="0.3"/>
<path d="M122.7 59.8L126.3 60L129.4 59.8L125.8 59.6Z" fill="#e7e700" stroke="#e7e700" stroke-width="0.3"/>
<path d="M220.9 46.6L224.9 46.4L227.5 44.5L223.5 44.9Z" fill="#cc0000" stroke="#cc0000" stroke-width="0.3"/>
<path d="M153.2 58.8L157 58.9L159.9 58.1L156.2 58.1Z" fill="#ffcb00" stroke="#ffcb00" stroke-width="0.3"/>
<path d="M85.5 57.4L89 57.8L92.3 58.2L88.8 57.9Z" fill="#be8c00" stroke="#be8c00" stroke-width="0.3"/>
<path d="M183.7 55L187.6 55L190.4 53.7L186.5 53.8Z" fill="#ff3100" stroke="#ff3100" stroke-width="0.3"/>
<path d="M116 59.7L119.6 60L122.7 59.8L119.2 59.6Z" fill="#ddde00" stroke="#ddde00" stroke-width="0.3"/>
<path d="M214.2 48.6L218.2 48.4L220.9 46.6L216.9 46.9Z" fill="#e10000" stroke="#e10000" stroke-width="0.3"/>
<path d="M146.5 59.3L150.2 59.4L153.2 58.8L149.5 58.7Z" fill="#ffe300" stroke="#ffe300" stroke-width="0.3"/>
<path d="M78.8 56.5L82.2 56.9L85.5 57.4L82.1 57.1Z" fill="#c67c00" stroke="#c67c00" stroke-width="0.3"/>
<path d="M177 56.2L180.9 56.2L183.7 55L179.9 55.1Z" fill="#ff6300" stroke="#ff6300" stroke-width="0.3"/>
<path d="M109.3 59.5L112.8 59.7L116 59.7L112.5 59.5Z" fill="#d5d200" stroke="#d5d200" stroke-width="0.3"/>
<path d="M207.6 50.4L211.6 50.2L214.2 48.6L210.3 48.8Z" fill="#ed0500" stroke="#ed0500" stroke-width="0.3"/>
<path d="M139.8 59.7L143.5 59.9L146.5 59.3L142.8 59.2Z" fill="#fff600" stroke="#fff600" stroke-width="0.3"/>
<path d="M72 55.5L75.4 55.9L78.8 56.5L75.4 56.2Z" fill="#ce6600" stroke="#ce6600" stroke-width="0.3"/>
<path d="M170.4 57.3L174.2 57.2L177 56.2L173.2 56.3Z" fill="#ff8f00" stroke="#ff8f00" stroke-width="0.3"/>
<path d="M102.5 59.1L106 59.4L109.3 59.5L105.7 59.2Z" fill="#cbc100" stroke="#cbc100" stroke-width="0.3"/>
<path d="M200.9 52.1L204.9 51.9L207.6 50.4L203.6 50.6Z" fill="#f50c00" stroke="#f50c00" stroke-width="0.3"/>
<path d="M133.1 59.9L136.7 60.1L139.8 59.7L136.1 59.6Z" fill="#f2f500" stroke="#f2f500" stroke-width="0.3"/>
<path d="M231.5 44.2L235.6 43.9L238.2 41.9L234.1 42.3Z" fill="#b40000" stroke="#b40000" stroke-width="0.3"/>
<path d="M65.2 54.3L68.6 54.7L72 55.5L68.6 55.1Z" fill="#d64900" stroke="#d64900" stroke-width="0.3"/>
<path d="M163.7 58.1L167.5 58.2L170.4 57.3L166.6 57.3Z" fill="#ffb300" stroke="#ffb300" stroke-width="0.3"/>
<path d="M95.8 58.5L99.3 58.8L102.5 59.1L99 58.8Z" fill="#c3ad00" stroke="#c3ad00" stroke-width="0.3"/>
<path d="M194.3 53.6L198.2 53.5L200.9 52.1L197 52.2Z" fill="#fc1200" stroke="#fc1200" stroke-width="0.3"/>
<path d="M126.3 60L130 60.2L133.1 59.9L129.4 59.8Z" fill="#e5ec00" stroke="#e5ec00" stroke-width="0.3"/>
<path d="M224.9 46.4L229 46.1L231.5 44.2L227.5 44.5Z" fill="#cb0000" stroke="#cb0000" stroke-width="0.3"/>
<path d="M157 58.9L160.7 58.9L163.7 58.1L159.9 58.1Z" fill="#ffd300" stroke="#ffd300" stroke-width="0.3"/>
<path d="M89 57.8L92.4 58.1L95.8 58.5L92.3 58.2Z" fill="#ba9600" stroke="#ba9600" stroke-width="0.3"/>
<path d="M187.6 55L191.5 54.9L194.3 53.6L190.4 53.7Z" fill="#ff3500" stroke="#ff3500" stroke-width="0.3"/>
<path d="M119.6 60L123.2 60.2L126.3 60L122.7 59.8Z" fill="#dae200" stroke="#dae200" stroke-width="0.3"/>
<path d="M218.2 48.4L222.3 48.1L224.9 46.4L220.9 46.6Z" fill="#e10000" stroke="#e10000" stroke-width="0.3"/>
<path d="M150.2 59.4L154 59.5L157 58.9L153.2 58.8Z" fill="#ffec00" stroke="#ffec00" stroke-width="0.3"/>
<path d="M82.2 56.9L85.6 57.3L89 57.8L85.5 57.4Z" fill="#c28900" stroke="#c28900" stroke-width="0.3"/>
<path d="M180.9 56.2L184.8 56.1L187.6 55L183.7 55Z" fill="#ff6800" stroke="#ff6800" stroke-width="0.3"/>
<path d="M112.8 59.7L116.4 60L119.6 60L116 59.7Z" fill="#d3d900" stroke="#d3d900" stroke-width="0.3"/>
<path d="M211.6 50.2L215.6 50L218.2 48.4L214.2 48.6Z" fill="#ed0500" stroke="#ed0500" stroke-width="0.3"/>
<path d="M143.5 59.9L147.2 60L150.2 59.4L146.5 59.3Z" fill="#feff00" stroke="#feff00" stroke-width="0.3"/>
<path d="M75.4 55.9L78.8 56.3L82.2 56.9L78.8 56.5Z" fill="#ca7600" stroke="#ca7600" stroke-width="0.3"/>
<path d="M174.2 57.2L178 57.3L180.9 56.2L177 56.2Z" fill="#ff9400" stroke="#ff9400" stroke-width="0.3"/>
<path d="M106 59.4L109.6 59.7L112.8 59.7L109.3 59.5Z" fill="#ced000" stroke="#ced000" stroke-width="0.3"/>
<path d="M204.9 51.9L208.9 51.8L211.6 50.2L207.6 50.4Z" fill="#f50c00" stroke="#f50c00" stroke-width="0.3"/>
<path d="M136.7 60.1L140.4 60.3L143.5 59.9L139.8 59.7Z" fill="#f1fa00" stroke="#f1fa00" stroke-width="0.3"/>
<path d="M235.6 43.9L239.8 43.6L242.3 41.6L238.2 41.9Z" fill="#b30000" stroke="#b30000" stroke-width="0.3"/>
<path d="M68.6 54.7L72 55.2L75.4 55.9L72 55.5Z" fill="#d25a00" stroke="#d25a00" stroke-width="0.3"/>
<path d="M167.5 58.2L171.3 58.2L174.2 57.2L170.4 57.3Z" fill="#ffba00" stroke="#ffba00" stroke-width="0.3"/>
<path d="M99.3 58.8L102.8 59.2L106 59.4L102.5 59.1Z" fill="#c7be00" stroke="#c7be00" stroke-width="0.3"/>
<path d="M198.2 53.5L202.2 53.4L204.9 51.9L200.9 52.1Z" fill="#fc1200" stroke="#fc1200" stroke-width="0.3"/>
<path d="M130 60.2L133.6 60.4L136.7 60.1L133.1 59.9Z" fill="#e2f000" stroke="#e2f000" stroke-width="0.3"/>
<path d="M229 46.1L233.1 45.8L235.6 43.9L231.5 44.2Z" fill="#cb0000" stroke="#cb0000" stroke-width="0.3"/>
<path d="M61.7 53.4L65.1 53.8L68.6 54.7L65.2 54.3Z" fill="#da3800" stroke="#da3800" stroke-width="0.3"/>
<path d="M160.7 58.9L164.5 59L167.5 58.2L163.7 58.1Z" fill="#ffdb00" stroke="#ffdb00" stroke-width="0.3"/>
<path d="M92.4 58.1L96 58.5L99.3 58.8L95.8 58.5Z" fill="#b6a100" stroke="#b6a100" stroke-width="0.3"/>
<path d="M191.5 54.9L195.4 54.8L198.2 53.5L194.3 53.6Z" fill="#ff3800" stroke="#ff3800" stroke-width="0.3"/>
<path d="M123.2 60.2L126.8 60.4L130 60.2L126.3 60Z" fill="#d7e700" stroke="#d7e700" stroke-width="0.3"/>
<path d="M222.3 48.1L226.4 47.9L229 46.1L224.9 46.4Z" fill="#e00000" stroke="#e00000" stroke-width="0.3"/>
<path d="M154 59.5L157.8 59.6L160.7 58.9L157 58.9Z" fill="#fff600" stroke="#fff600" stroke-width="0.3"/>
<path d="M85.6 57.3L89.1 57.7L92.4 58.1L89 57.8Z" fill="#be9500" stroke="#be9500" stroke-width="0.3"/>
<path d="M184.8 56.1L188.7 56.1L191.5 54.9L187.6 55Z" fill="#ff6d00" stroke="#ff6d00" stroke-width="0.3"/>
<path d="M116.4 60L120 60.3L123.2 60.2L119.6 60Z" fill="#cfdd00" stroke="#cfdd00" stroke-width="0.3"/>
<path d="M215.6 50L219.7 49.8L222.3 48.1L218.2 48.4Z" fill="#ed0500" stroke="#ed0500" stroke-width="0.3"/>
<path d="M147.2 60L151 60.1L154 59.5L150.2 59.4Z" fill="#f8ff00" stroke="#f8ff00" stroke-width="0.3"/>
<path d="M78.8 56.3L82.3 56.7L85.6 57.3L82.2 56.9Z" fill="#c78400" stroke="#c78400" stroke-width="0.3"/>
<path d="M178 57.3L181.9 57.3L184.8 56.1L180.9 56.2Z" fill="#ff9a00" stroke="#ff9a00" stroke-width="0.3"/>
<path d="M109.6 59.7L113.2 60L116.4 60L112.8 59.7Z" fill="#cad400" stroke="#cad400" stroke-width="0.3"/>
<path d="M208.9 51.8L212.9 51.6L215.6 50L211.6 50.2Z" fill="#f50c00" stroke="#f50c00" stroke-width="0.3"/>
<path d="M140.4 60.3L144.2 60.5L147.2 60L143.5 59.9Z" fill="#eefe00" stroke="#eefe00" stroke-width="0.3"/>
<path d="M239.8 43.6L243.9 43.3L246.5 41.2L242.3 41.6Z" fill="#b20000" stroke="#b20000" stroke-width="0.3"/>
<path d="M72 55.2L75.4 55.6L78.8 56.3L75.4 55.9Z" fill="#cf6c00" stroke="#cf6c00" stroke-width="0.3"/>
<path d="M171.3 58.2L175.2 58.2L178 57.3L174.2 57.2Z" fill="#ffc100" stroke="#ffc100" stroke-width="0.3"/>
<path d="M102.8 59.2L106.3 59.5L109.6 59.7L106 59.4Z" fill="#c8cb00" stroke="#c8cb00" stroke-width="0.3"/>
<path d="M202.2 53.4L206.2 53.3L208.9 51.8L204.9 51.9Z" fill="#fd1200" stroke="#fd1200" stroke-width="0.3"/>
<path d="M133.6 60.4L137.3 60.7L140.4 60.3L136.7 60.1Z" fill="#e0f500" stroke="#e0f500" stroke-width="0.3"/>
<path d="M233.1 45.8L237.2 45.5L239.8 43.6L235.6 43.9Z" fill="#ca0000" stroke="#ca0000" stroke-width="0.3"/>
<path d="M65.1 53.8L68.5 54.3L72 55.2L68.6 54.7Z" fill="#d74b00" stroke="#d74b00" stroke-width="0.3"/>
<path d="M164.5 59L168.4 59.1L171.3 58.2L167.5 58.2Z" fill="#ffe300" stroke="#ffe300" stroke-width="0.3"/>
<path d="M96 58.5L99.5 58.9L102.8 59.2L99.3 58.8Z" fill="#c2ba00" stroke="#c2ba00" stroke-width="0.3"/>
<path d="M195.4 54.8L199.4 54.8L202.2 53.4L198.2 53.5Z" fill="#ff3c00" stroke="#ff3c00" stroke-width="0.3"/>
<path d="M126.8 60.4L130.5 60.7L133.6 60.4L130 60.2Z" fill="#d4eb00" stroke="#d4eb00" stroke-width="0.3"/>
<path d="M226.4 47.9L230.5 47.7L233.1 45.8L229 46.1Z" fill="#e00000" stroke="#e00000" stroke-width="0.3"/>
<path d="M58.2 52.4L61.6 52.9L65.1 53.8L61.7 53.4Z" fill="#de2300" stroke="#de2300" stroke-width="0.3"/>
<path d="M157.8 59.6L161.6 59.8L164.5 59L160.7 58.9Z" fill="#ffff00" stroke="#ffff00" stroke-width="0.3"/>
<path d="M89.1 57.7L92.6 58.1L96 58.5L92.4 58.1Z" fill="#baa100" stroke="#baa100" stroke-width="0.3"/>
<path d="M188.7 56.1L192.6 56.1L195.4 54.8L191.5 54.9Z" fill="#ff7200" stroke="#ff7200" stroke-width="0.3"/>
<path d="M120 60.3L123.7 60.6L126.8 60.4L123.2 60.2Z" fill="#cce200" stroke="#cce200" stroke-width="0.3"/>
<path d="M219.7 49.8L223.7 49.7L226.4 47.9L222.3 48.1Z" fill="#ed0500" stroke="#ed0500" stroke-width="0.3"/>
<path d="M151 60.1L154.8 60.3L157.8 59.6L154 59.5Z" fill="#f2ff00" stroke="#f2ff00" stroke-width="0.3"/>
<path d="M82.3 56.7L85.7 57.2L89.1 57.7L85.6 57.3Z" fill="#c39200" stroke="#c39200" stroke-width="0.3"/>
<path d="M181.9 57.3L185.9 57.3L188.7 56.1L184.8 56.1Z" fill="#ffa100" stroke="#ffa100" stroke-width="0.3"/>
<path d="M113.2 60L116.8 60.3L120 60.3L116.4 60Z" fill="#c7d900" stroke="#c7d900" stroke-width="0.3"/>
<path d="M212.9 51.6L217 51.5L219.7 49.8L215.6 50Z" fill="#f50c00" stroke="#f50c00" stroke-width="0.3"/>
<path d="M144.2 60.5L147.9 60.7L151 60.1L147.2 60Z" fill="#e8ff00" stroke="#e8ff00" stroke-width="0.3"/>
<path d="M243.9 43.3L248.1 42.9L250.6 40.8L246.5 41.2Z" fill="#b10000" stroke="#b10000" stroke-width="0.3"/>
<path d="M75.4 55.6L78.8 56.1L82.3 56.7L78.8 56.3Z" fill="#cb7c00" stroke="#cb7c00" stroke-width="0.3"/>
<path d="M175.2 58.2L179.1 58.3L181.9 57.3L178 57.3Z" fill="#ffc900" stroke="#ffc900" stroke-width="0.3"/>
<path d="M106.3 59.5L109.9 59.9L113.2 60L109.6 59.7Z" fill="#c4cf00" stroke="#c4cf00" stroke-width="0.3"/>
<path d="M206.2 53.3L210.2 53.2L212.9 51.6L208.9 51.8Z" fill="#fd1200" stroke="#fd1200" stroke-width="0.3"/>
<path d="M137.3 60.7L141.1 60.9L144.2 60.5L140.4 60.3Z" fill="#dcf900" stroke="#dcf900" stroke-width="0.3"/>
<path d="M237.2 45.5L241.4 45.3L243.9 43.3L239.8 43.6Z" fill="#c90000" stroke="#c90000" stroke-width="0.3"/>
<path d="M68.5 54.3L71.9 54.8L75.4 55.6L72 55.2Z" fill="#d35f00" stroke="#d35f00" stroke-width="0.3"/>
<path d="M168.4 59.1L172.2 59.2L175.2 58.2L171.3 58.2Z" fill="#ffec00" stroke="#ffec00" stroke-width="0.3"/>
<path d="M99.5 58.9L103.1 59.3L106.3 59.5L102.8 59.2Z" fill="#c3c600" stroke="#c3c600" stroke-width="0.3"/>
<path d="M199.4 54.8L203.4 54.7L206.2 53.3L202.2 53.4Z" fill="#ff4000" stroke="#ff4000" stroke-width="0.3"/>
<path d="M130.5 60.7L134.2 61L137.3 60.7L133.6 60.4Z" fill="#d1f000" stroke="#d1f000" stroke-width="0.3"/>
<path d="M230.5 47.7L234.6 47.5L237.2 45.5L233.1 45.8Z" fill="#e00000" stroke="#e00000" stroke-width="0.3"/>
<path d="M61.6 52.9L65 53.4L68.5 54.3L65.1 53.8Z" fill="#db3900" stroke="#db3900" stroke-width="0.3"/>
<path d="M161.6 59.8L165.4 59.9L168.4 59.1L164.5 59Z" fill="#f9ff00" stroke="#f9ff00" stroke-width="0.3"/>
<path d="M92.6 58.1L96.2 58.5L99.5 58.9L96 58.5Z" fill="#b6ac00" stroke="#b6ac00" stroke-width="0.3"/>
<path d="M192.6 56.1L196.6 56.1L199.4 54.8L195.4 54.8Z" fill="#ff7700" stroke="#ff7700" stroke-width="0.3"/>
<path d="M123.7 60.6L127.4 60.9L130.5 60.7L126.8 60.4Z" fill="#c8e600" stroke="#c8e600" stroke-width="0.3"/>
<path d="M223.7 49.7L227.9 49.5L230.5 47.7L226.4 47.9Z" fill="#ed0500" stroke="#ed0500" stroke-width="0.3"/>
<path d="M54.7 51.3L58.1 51.9L61.6 52.9L58.2 52.4Z" fill="#e21000" stroke="#e21000" stroke-width="0.3"/>
<path d="M154.8 60.3L158.6 60.5L161.6 59.8L157.8 59.6Z" fill="#ecff00" stroke="#ecff00" stroke-width="0.3"/>
<path d="M85.7 57.2L89.2 57.6L92.6 58.1L89.1 57.7Z" fill="#bf9e00" stroke="#bf9e00" stroke-width="0.3"/>
<path d="M185.9 57.3L189.8 57.3L192.6 56.1L188.7 56.1Z" fill="#ffa700" stroke="#ffa700" stroke-width="0.3"/>
<path d="M116.8 60.3L120.5 60.6L123.7 60.6L120 60.3Z" fill="#c2dd00" stroke="#c2dd00" stroke-width="0.3"/>
<path d="M217 51.5L221.1 51.3L223.7 49.7L219.7 49.8Z" fill="#f50c00" stroke="#f50c00" stroke-width="0.3"/>
<path d="M147.9 60.7L151.7 60.9L154.8 60.3L151 60.1Z" fill="#e1ff00" stroke="#e1ff00" stroke-width="0.3"/>
<path d="M248.1 42.9L252.4 42.6L254.9 40.5L250.6 40.8Z" fill="#b00000" stroke="#b00000" stroke-width="0.3"/>
<path d="M78.8 56.1L82.3 56.6L85.7 57.2L82.3 56.7Z" fill="#c78b00" stroke="#c78b00" stroke-width="0.3"/>
<path d="M179.1 58.3L183 58.4L185.9 57.3L181.9 57.3Z" fill="#ffd000" stroke="#ffd000" stroke-width="0.3"/>
<path d="M109.9 59.9L113.6 60.2L116.8 60.3L113.2 60Z" fill="#bfd400" stroke="#bfd400" stroke-width="0.3"/>
<path d="M210.2 53.2L214.3 53.1L217 51.5L212.9 51.6Z" fill="#fd1300" stroke="#fd1300" stroke-width="0.3"/>
<path d="M141.1 60.9L144.8 61.1L147.9 60.7L144.2 60.5Z" fill="#d9fe00" stroke="#d9fe00" stroke-width="0.3"/>
<path d="M241.4 45.3L245.6 45L248.1 42.9L243.9 43.3Z" fill="#c90000" stroke="#c90000" stroke-width="0.3"/>
<path d="M71.9 54.8L75.4 55.3L78.8 56.1L75.4 55.6Z" fill="#cf7100" stroke="#cf7100" stroke-width="0.3"/>
<path d="M172.2 59.2L176.2 59.3L179.1 58.3L175.2 58.2Z" fill="#fff400" stroke="#fff400" stroke-width="0.3"/>
<path d="M103.1 59.3L106.7 59.7L109.9 59.9L106.3 59.5Z" fill="#becb00" stroke="#becb00" stroke-width="0.3"/>
<path d="M203.4 54.7L207.5 54.6L210.2 53.2L206.2 53.3Z" fill="#ff4400" stroke="#ff4400" stroke-width="0.3"/>
<path d="M134.2 61L138 61.2L141.1 60.9L137.3 60.7Z" fill="#ccf400" stroke="#ccf400" stroke-width="0.3"/>
<path d="M234.6 47.5L238.8 47.2L241.4 45.3L237.2 45.5Z" fill="#e00000" stroke="#e00000" stroke-width="0.3"/>
<path d="M65 53.4L68.4 54L71.9 54.8L68.5 54.3Z" fill="#d74e00" stroke="#d74e00" stroke-width="0.3"/>
<path d="M165.4 59.9L169.3 60L172.2 59.2L168.4 59.1Z" fill="#f4ff00" stroke="#f4ff00" stroke-width="0.3"/>
<path d="M96.2 58.5L99.7 58.9L103.1 59.3L99.5 58.9Z" fill="#bfc200" stroke="#bfc200" stroke-width="0.3"/>
<path d="M196.6 56.1L200.7 56L203.4 54.7L199.4 54.8Z" fill="#ff7c00" stroke="#ff7c00" stroke-width="0.3"/>
<path d="M127.4 60.9L131.1 61.2L134.2 61L130.5 60.7Z" fill="#c3eb00" stroke="#c3eb00" stroke-width="0.3"/>
<path d="M227.9 49.5L232 49.3L234.6 47.5L230.5 47.7Z" fill="#ed0500" stroke="#ed0500" stroke-width="0.3"/>
<path d="M58.1 51.9L61.5 52.4L65 53.4L61.6 52.9Z" fill="#df2300" stroke="#df2300" stroke-width="0.3"/>
<path d="M158.6 60.5L162.4 60.6L165.4 59.9L161.6 59.8Z" fill="#e5ff00" stroke="#e5ff00" stroke-width="0.3"/>
<path d="M89.2 57.6L92.8 58.1L96.2 58.5L92.6 58.1Z" fill="#bbab00" stroke="#bbab00" stroke-width="0.3"/>
<path d="M189.8 57.3L193.8 57.3L196.6 56.1L192.6 56.1Z" fill="#ffad00" stroke="#ffad00" stroke-width="0.3"/>
<path d="M120.5 60.6L124.2 61L127.4 60.9L123.7 60.6Z" fill="#bde100" stroke="#bde100" stroke-width="0.3"/>
<path d="M221.1 51.3L225.2 51.2L227.9 49.5L223.7 49.7Z" fill="#f60c00" stroke="#f60c00" stroke-width="0.3"/>
<path d="M51.1 50.1L54.5 50.7L58.1 51.9L54.7 51.3Z" fill="#e30e00" stroke="#e30e00" stroke-width="0.3"/>
<path d="M151.7 60.9L155.5 61.1L158.6 60.5L154.8 60.3Z" fill="#daff00" stroke="#daff00" stroke-width="0.3"/>
<path d="M82.3 56.6L85.8 57L89.2 57.6L85.7 57.2Z" fill="#c39a00" stroke="#c39a00" stroke-width="0.3"/>
<path d="M183 58.4L187 58.4L189.8 57.3L185.9 57.3Z" fill="#ffd800" stroke="#ffd800" stroke-width="0.3"/>
<path d="M113.6 60.2L117.2 60.6L120.5 60.6L116.8 60.3Z" fill="#bad800" stroke="#bad800" stroke-width="0.3"/>
<path d="M214.3 53.1L218.4 53L221.1 51.3L217 51.5Z" fill="#fe1300" stroke="#fe1300" stroke-width="0.3"/>
<path d="M144.8 61.1L148.7 61.4L151.7 60.9L147.9 60.7Z" fill="#d2ff00" stroke="#d2ff00" stroke-width="0.3"/>
<path d="M245.6 45L249.9 44.7L252.4 42.6L248.1 42.9Z" fill="#c80000" stroke="#c80000" stroke-width="0.3"/>
<path d="M75.4 55.3L78.9 55.8L82.3 56.6L78.8 56.1Z" fill="#cb8200" stroke="#cb8200" stroke-width="0.3"/>
<path d="M176.2 59.3L180.1 59.4L183 58.4L179.1 58.3Z" fill="#fffd00" stroke="#fffd00" stroke-width="0.3"/>
<path d="M106.7 59.7L110.3 60.1L113.6 60.2L109.9 59.9Z" fill="#b9cf00" stroke="#b9cf00" stroke-width="0.3"/>
<path d="M207.5 54.6L211.6 54.6L214.3 53.1L210.2 53.2Z" fill="#ff4900" stroke="#ff4900" stroke-width="0.3"/>
<path d="M138 61.2L141.7 61.5L144.8 61.1L141.1 60.9Z" fill="#c8f900" stroke="#c8f900" stroke-width="0.3"/>
<path d="M238.8 47.2L243.1 47L245.6 45L241.4 45.3Z" fill="#e00000" stroke="#e00000" stroke-width="0.3"/>
<path d="M68.4 54L71.9 54.5L75.4 55.3L71.9 54.8Z" fill="#d36200" stroke="#d36200" stroke-width="0.3"/>
<path d="M169.3 60L173.2 60.2L176.2 59.3L172.2 59.2Z" fill="#eeff00" stroke="#eeff00" stroke-width="0.3"/>
<path d="M99.7 58.9L103.3 59.4L106.7 59.7L103.1 59.3Z" fill="#bac600" stroke="#bac600" stroke-width="0.3"/>
<path d="M200.7 56L204.7 56L207.5 54.6L203.4 54.7Z" fill="#ff8200" stroke="#ff8200" stroke-width="0.3"/>
<path d="M131.1 61.2L134.8 61.5L138 61.2L134.2 61Z" fill="#bfef00" stroke="#bfef00" stroke-width="0.3"/>
<path d="M232 49.3L236.2 49.1L238.8 47.2L234.6 47.5Z" fill="#ed0500" stroke="#ed0500" stroke-width="0.3"/>
<path d="M61.5 52.4L64.9 53L68.4 54L65 53.4Z" fill="#db3a00" stroke="#db3a00" stroke-width="0.3"/>
<path d="M162.4 60.6L166.3 60.8L169.3 60L165.4 59.9Z" fill="#dfff00" stroke="#dfff00" stroke-width="0.3"/>
<path d="M92.8 58.1L96.4 58.5L99.7 58.9L96.2 58.5Z" fill="#b7b700" stroke="#b7b700" stroke-width="0.3"/>
<path d="M193.8 57.3L197.8 57.3L200.7 56L196.6 56.1Z" fill="#ffb400" stroke="#ffb400" stroke-width="0.3"/>
<path d="M124.2 61L127.9 61.3L131.1 61.2L127.4 60.9Z" fill="#b8e600" stroke="#b8e600" stroke-width="0.3"/>
<path d="M225.2 51.2L229.4 51.1L232 49.3L227.9 49.5Z" fill="#f60d00" stroke="#f60d00" stroke-width="0.3"/>
<path d="M54.5 50.7L57.9 51.3L61.5 52.4L58.1 51.9Z" fill="#e21000" stroke="#e21000" stroke-width="0.3"/>
<path d="M155.5 61.1L159.4 61.3L162.4 60.6L158.6 60.5Z" fill="#d3ff00" stroke="#d3ff00" stroke-width="0.3"/>
<path d="M85.8 57L89.4 57.5L92.8 58.1L89.2 57.6Z" fill="#bfa800" stroke="#bfa800" stroke-width="0.3"/>
<path d="M187 58.4L191 58.5L193.8 57.3L189.8 57.3Z" fill="#ffe000" stroke="#ffe000" stroke-width="0.3"/>
<path d="M117.2 60.6L120.9 61L124.2 61L120.5 60.6Z" fill="#b5dd00" stroke="#b5dd00" stroke-width="0.3"/>
<path d="M218.4 53L222.6 52.9L225.2 51.2L221.1 51.3Z" fill="#fe1300" stroke="#fe1300" stroke-width="0.3"/>
<path d="M47.5 48.9L50.9 49.5L54.5 50.7L51.1 50.1Z" fill="#e30b00" stroke="#e30b00" stroke-width="0.3"/>
<path d="M148.7 61.4L152.5 61.6L155.5 61.1L151.7 60.9Z" fill="#caff00" stroke="#caff00" stroke-width="0.3"/>
<path d="M78.9 55.8L82.4 56.4L85.8 57L82.3 56.6Z" fill="#c79300" stroke="#c79300" stroke-width="0.3"/>
<path d="M180.1 59.4L184.1 59.5L187 58.4L183 58.4Z" fill="#fbff00" stroke="#fbff00" stroke-width="0.3"/>
<path d="M110.3 60.1L114 60.5L117.2 60.6L113.6 60.2Z" fill="#b4d300" stroke="#b4d300" stroke-width="0.3"/>
<path d="M211.6 54.6L215.7 54.5L218.4 53L214.3 53.1Z" fill="#ff4d00" stroke="#ff4d00" stroke-width="0.3"/>
<path d="M141.7 61.5L145.5 61.8L148.7 61.4L144.8 61.1Z" fill="#c3fe00" stroke="#c3fe00" stroke-width="0.3"/>
<path d="M243.1 47L247.3 46.8L249.9 44.7L245.6 45Z" fill="#e00000" stroke="#e00000" stroke-width="0.3"/>
<path d="M71.9 54.5L75.4 55L78.9 55.8L75.4 55.3Z" fill="#cf7700" stroke="#cf7700" stroke-width="0.3"/>
<path d="M173.2 60.2L177.2 60.3L180.1 59.4L176.2 59.3Z" fill="#e8ff00" stroke="#e8ff00" stroke-width="0.3"/>
<path d="M103.3 59.4L107 59.8L110.3 60.1L106.7 59.7Z" fill="#b5ca00" stroke="#b5ca00" stroke-width="0.3"/>
<path d="M204.7 56L208.8 56L211.6 54.6L207.5 54.6Z" fill="#ff8800" stroke="#ff8800" stroke-width="0.3"/>
<path d="M134.8 61.5L138.6 61.8L141.7 61.5L138 61.2Z" fill="#baf400" stroke="#baf400" stroke-width="0.3"/>
<path d="M236.2 49.1L240.5 48.9L243.1 47L238.8 47.2Z" fill="#ed0600" stroke="#ed0600" stroke-width="0.3"/>
<path d="M64.9 53L68.4 53.6L71.9 54.5L68.4 54Z" fill="#d75100" stroke="#d75100" stroke-width="0.3"/>
<path d="M166.3 60.8L170.2 61L173.2 60.2L169.3 60Z" fill="#d8ff00" stroke="#d8ff00" stroke-width="0.3"/>
<path d="M96.4 58.5L100 59L103.3 59.4L99.7 58.9Z" fill="#b7c100" stroke="#b7c100" stroke-width="0.3"/>
<path d="M197.8 57.3L201.9 57.4L204.7 56L200.7 56Z" fill="#ffbb00" stroke="#ffbb00" stroke-width="0.3"/>
<path d="M127.9 61.3L131.6 61.7L134.8 61.5L131.1 61.2Z" fill="#b2eb00" stroke="#b2eb00" stroke-width="0.3"/>
<path d="M229.4 51.1L233.6 50.9L236.2 49.1L232 49.3Z" fill="#f60d00" stroke="#f60d00" stroke-width="0.3"/>
<path d="M57.9 51.3L61.3 51.9L64.9 53L61.5 52.4Z" fill="#df2300" stroke="#df2300" stroke-width="0.3"/>
<path d="M159.4 61.3L163.3 61.5L166.3 60.8L162.4 60.6Z" fill="#cbff00" stroke="#cbff00" stroke-width="0.3"/>
<path d="M89.4 57.5L93 58L96.4 58.5L92.8 58.1Z" fill="#bbb500" stroke="#bbb500" stroke-width="0.3"/>
<path d="M191 58.5L195 58.5L197.8 57.3L193.8 57.3Z" fill="#ffe800" stroke="#ffe800" stroke-width="0.3"/>
<path d="M120.9 61L124.7 61.3L127.9 61.3L124.2 61Z" fill="#afe100" stroke="#afe100" stroke-width="0.3"/>
<path d="M222.6 52.9L226.7 52.8L229.4 51.1L225.2 51.2Z" fill="#ff1400" stroke="#ff1400" stroke-width="0.3"/>
<path d="M50.9 49.5L54.3 50.1L57.9 51.3L54.5 50.7Z" fill="#e20e00" stroke="#e20e00" stroke-width="0.3"/>
<path d="M152.5 61.6L156.4 61.9L159.4 61.3L155.5 61.1Z" fill="#c2ff00" stroke="#c2ff00" stroke-width="0.3"/>
<path d="M82.4 56.4L85.9 56.9L89.4 57.5L85.8 57Z" fill="#c3a200" stroke="#c3a200" stroke-width="0.3"/>
<path d="M184.1 59.5L188.1 59.6L191 58.5L187 58.4Z" fill="#f6ff00" stroke="#f6ff00" stroke-width="0.3"/>
<path d="M114 60.5L117.7 60.9L120.9 61L117.2 60.6Z" fill="#aed800" stroke="#aed800" stroke-width="0.3"/>
<path d="M215.7 54.5L219.8 54.5L222.6 52.9L218.4 53Z" fill="#ff5200" stroke="#ff5200" stroke-width="0.3"/>
<path d="M43.8 47.5L47.2 48.1L50.9 49.5L47.5 48.9Z" fill="#e20900" stroke="#e20900" stroke-width="0.3"/>
<path d="M145.5 61.8L149.4 62.1L152.5 61.6L148.7 61.4Z" fill="#bcff00" stroke="#bcff00" stroke-width="0.3"/>
<path d="M75.4 55L78.9 55.6L82.4 56.4L78.9 55.8Z" fill="#cc8800" stroke="#cc8800" stroke-width="0.3"/>
<path d="M177.2 60.3L181.2 60.4L184.1 59.5L180.1 59.4Z" fill="#e2ff00" stroke="#e2ff00" stroke-width="0.3"/>
<path d="M107 59.8L110.6 60.3L114 60.5L110.3 60.1Z" fill="#afcf00" stroke="#afcf00" stroke-width="0.3"/>
<path d="M208.8 56L212.9 56L215.7 54.5L211.6 54.6Z" fill="#ff8e00" stroke="#ff8e00" stroke-width="0.3"/>
<path d="M138.6 61.8L142.4 62.1L145.5 61.8L141.7 61.5Z" fill="#b3f900" stroke="#b3f900" stroke-width="0.3"/>
<path d="M240.5 48.9L244.8 48.8L247.3 46.8L243.1 47Z" fill="#ed0600" stroke="#ed0600" stroke-width="0.3"/>
<path d="M68.4 53.6L71.9 54.1L75.4 55L71.9 54.5Z" fill="#d46700" stroke="#d46700" stroke-width="0.3"/>
<path d="M170.2 61L174.2 61.2L177.2 60.3L173.2 60.2Z" fill="#d1ff00" stroke="#d1ff00" stroke-width="0.3"/>
<path d="M100 59L103.6 59.5L107 59.8L103.3 59.4Z" fill="#b1c600" stroke="#b1c600" stroke-width="0.3"/>
<path d="M201.9 57.4L206 57.4L208.8 56L204.7 56Z" fill="#ffc100" stroke="#ffc100" stroke-width="0.3"/>
<path d="M131.6 61.7L135.4 62L138.6 61.8L134.8 61.5Z" fill="#acef00" stroke="#acef00" stroke-width="0.3"/>
<path d="M233.6 50.9L237.9 50.8L240.5 48.9L236.2 49.1Z" fill="#f60d00" stroke="#f60d00" stroke-width="0.3"/>
<path d="M61.3 51.9L64.8 52.5L68.4 53.6L64.9 53Z" fill="#db3c00" stroke="#db3c00" stroke-width="0.3"/>
<path d="M163.3 61.5L167.2 61.7L170.2 61L166.3 60.8Z" fill="#c4ff00" stroke="#c4ff00" stroke-width="0.3"/>
<path d="M93 58L96.6 58.5L100 59L96.4 58.5Z" fill="#b1b700" stroke="#b1b700" stroke-width="0.3"/>
<path d="M195 58.5L199.1 58.6L201.9 57.4L197.8 57.3Z" fill="#fff000" stroke="#fff000" stroke-width="0.3"/>
<path d="M124.7 61.3L128.4 61.7L131.6 61.7L127.9 61.3Z" fill="#a9e600" stroke="#a9e600" stroke-width="0.3"/>
<path d="M226.7 52.8L231 52.7L233.6 50.9L229.4 51.1Z" fill="#ff1400" stroke="#ff1400" stroke-width="0.3"/>
<path d="M54.3 50.1L57.7 50.8L61.3 51.9L57.9 51.3Z" fill="#e21000" stroke="#e21000" stroke-width="0.3"/>
<path d="M156.4 61.9L160.3 62.1L163.3 61.5L159.4 61.3Z" fill="#baff00" stroke="#baff00" stroke-width="0.3"/>
<path d="M85.9 56.9L89.5 57.4L93 58L89.4 57.5Z" fill="#bfb100" stroke="#bfb100" stroke-width="0.3"/>
<path d="M188.1 59.6L192.1 59.7L195 58.5L191 58.5Z" fill="#f0ff00" stroke="#f0ff00" stroke-width="0.3"/>
<path d="M117.7 60.9L121.4 61.3L124.7 61.3L120.9 61Z" fill="#a7dc00" stroke="#a7dc00" stroke-width="0.3"/>
<path d="M219.8 54.5L224 54.4L226.7 52.8L222.6 52.9Z" fill="#ff5700" stroke="#ff5700" stroke-width="0.3"/>
<path d="M47.2 48.1L50.6 48.8L54.3 50.1L50.9 49.5Z" fill="#e30b00" stroke="#e30b00" stroke-width="0.3"/>
<path d="M149.4 62.1L153.3 62.4L156.4 61.9L152.5 61.6Z" fill="#b1ff01" stroke="#b1ff01" stroke-width="0.3"/>
<path d="M78.9 55.6L82.5 56.2L85.9 56.9L82.4 56.4Z" fill="#c89a00" stroke="#c89a00" stroke-width="0.3"/>
<path d="M181.2 60.4L185.2 60.6L188.1 59.6L184.1 59.5Z" fill="#dcff00" stroke="#dcff00" stroke-width="0.3"/>
<path d="M110.6 60.3L114.4 60.7L117.7 60.9L114 60.5Z" fill="#a9d300" stroke="#a9d300" stroke-width="0.3"/>
<path d="M212.9 56L217.1 56L219.8 54.5L215.7 54.5Z" fill="#ff9400" stroke="#ff9400" stroke-width="0.3"/>
<path d="M40.1 46L43.5 46.7L47.2 48.1L43.8 47.5Z" fill="#e10500" stroke="#e10500" stroke-width="0.3"/>
<path d="M142.4 62.1L146.3 62.4L149.4 62.1L145.5 61.8Z" fill="#a5fb02" stroke="#a5fb02" stroke-width="0.3"/>
<path d="M71.9 54.1L75.4 54.7L78.9 55.6L75.4 55Z" fill="#d07b00" stroke="#d07b00" stroke-width="0.3"/>
<path d="M174.2 61.2L178.2 61.4L181.2 60.4L177.2 60.3Z" fill="#cbff00" stroke="#cbff00" stroke-width="0.3"/>
<path d="M103.6 59.5L107.3 60L110.6 60.3L107 59.8Z" fill="#abca00" stroke="#abca00" stroke-width="0.3"/>
<path d="M206 57.4L210.2 57.4L212.9 56L208.8 56Z" fill="#ffc800" stroke="#ffc800" stroke-width="0.3"/>
<path d="M135.4 62L139.2 62.4L142.4 62.1L138.6 61.8Z" fill="#9df202" stroke="#9df202" stroke-width="0.3"/>
<path d="M237.9 50.8L242.2 50.7L244.8 48.8L240.5 48.9Z" fill="#f70d00" stroke="#f70d00" stroke-width="0.3"/>
<path d="M64.8 52.5L68.3 53.2L71.9 54.1L68.4 53.6Z" fill="#d85300" stroke="#d85300" stroke-width="0.3"/>
<path d="M167.2 61.7L171.2 62L174.2 61.2L170.2 61Z" fill="#bcff00" stroke="#bcff00" stroke-width="0.3"/>
<path d="M96.6 58.5L100.2 59.1L103.6 59.5L100 59Z" fill="#afc100" stroke="#afc100" stroke-width="0.3"/>
<path d="M199.1 58.6L203.2 58.7L206 57.4L201.9 57.4Z" fill="#fff800" stroke="#fff800" stroke-width="0.3"/>
<path d="M128.4 61.7L132.2 62.1L135.4 62L131.6 61.7Z" fill="#9de901" stroke="#9de901" stroke-width="0.3"/>
<path d="M231 52.7L235.2 52.6L237.9 50.8L233.6 50.9Z" fill="#ff1800" stroke="#ff1800" stroke-width="0.3"/>
<path d="M57.7 50.8L61.2 51.4L64.8 52.5L61.3 51.9Z" fill="#e02300" stroke="#e02300" stroke-width="0.3"/>
<path d="M160.3 62.1L164.2 62.4L167.2 61.7L163.3 61.5Z" fill="#adfe01" stroke="#adfe01" stroke-width="0.3"/>
<path d="M89.5 57.4L93.2 58L96.6 58.5L93 58Z" fill="#b9bc00" stroke="#b9bc00" stroke-width="0.3"/>
<path d="M192.1 59.7L196.2 59.8L199.1 58.6L195 58.5Z" fill="#ebff00" stroke="#ebff00" stroke-width="0.3"/>
<path d="M121.4 61.3L125.2 61.7L128.4 61.7L124.7 61.3Z" fill="#a1e100" stroke="#a1e100" stroke-width="0.3"/>
<path d="M224 54.4L228.3 54.4L231 52.7L226.7 52.8Z" fill="#ff5c00" stroke="#ff5c00" stroke-width="0.3"/>
<path d="M50.6 48.8L54.1 49.5L57.7 50.8L54.3 50.1Z" fill="#e30e00" stroke="#e30e00" stroke-width="0.3"/>
<path d="M153.3 62.4L157.2 62.7L160.3 62.1L156.4 61.9Z" fill="#99fc06" stroke="#99fc06" stroke-width="0.3"/>
<path d="M82.5 56.2L86.1 56.8L89.5 57.4L85.9 56.9Z" fill="#c4aa00" stroke="#c4aa00" stroke-width="0.3"/>
<path d="M185.2 60.6L189.2 60.8L192.1 59.7L188.1 59.6Z" fill="#d6ff00" stroke="#d6ff00" stroke-width="0.3"/>
<path d="M114.4 60.7L118.1 61.2L121.4 61.3L117.7 60.9Z" fill="#a1d700" stroke="#a1d700" stroke-width="0.3"/>
<path d="M217.1 56L221.3 56L224 54.4L219.8 54.5Z" fill="#ff9a00" stroke="#ff9a00" stroke-width="0.3"/>
<path d="M43.5 46.7L46.9 47.4L50.6 48.8L47.2 48.1Z" fill="#e20800" stroke="#e20800" stroke-width="0.3"/>
<path d="M146.3 62.4L150.1 62.8L153.3 62.4L149.4 62.1Z" fill="#8cfb09" stroke="#8cfb09" stroke-width="0.3"/>
<path d="M75.4 54.7L78.9 55.4L82.5 56.2L78.9 55.6Z" fill="#cc8e00" stroke="#cc8e00" stroke-width="0.3"/>
<path d="M178.2 61.4L182.2 61.6L185.2 60.6L181.2 60.4Z" fill="#c4ff00" stroke="#c4ff00" stroke-width="0.3"/>
<path d="M107.3 60L111 60.5L114.4 60.7L110.6 60.3Z" fill="#a4ce00" stroke="#a4ce00" stroke-width="0.3"/>
<path d="M210.2 57.4L214.3 57.5L217.1 56L212.9 56Z" fill="#ffd000" stroke="#ffd000" stroke-width="0.3"/>
<path d="M36.4 44.4L39.8 45.2L43.5 46.7L40.1 46Z" fill="#dc0100" stroke="#dc0100" stroke-width="0.3"/>
<path d="M139.2 62.4L143.1 62.7L146.3 62.4L142.4 62.1Z" fill="#85f309" stroke="#85f309" stroke-width="0.3"/>
<path d="M68.3 53.2L71.8 53.8L75.4 54.7L71.9 54.1Z" fill="#d46a00" stroke="#d46a00" stroke-width="0.3"/>
<path d="M171.2 62L175.2 62.2L178.2 61.4L174.2 61.2Z" fill="#b5ff00" stroke="#b5ff00" stroke-width="0.3"/>
<path d="M100.2 59.1L103.9 59.6L107.3 60L103.6 59.5Z" fill="#a9c500" stroke="#a9c500" stroke-width="0.3"/>
<path d="M203.2 58.7L207.4 58.8L210.2 57.4L206 57.4Z" fill="#feff00" stroke="#feff00" stroke-width="0.3"/>
<path d="M132.2 62.1L136 62.5L139.2 62.4L135.4 62Z" fill="#85eb08" stroke="#85eb08" stroke-width="0.3"/>
<path d="M235.2 52.6L239.5 52.5L242.2 50.7L237.9 50.8Z" fill="#ff1c00" stroke="#ff1c00" stroke-width="0.3"/>
<path d="M61.2 51.4L64.7 52.1L68.3 53.2L64.8 52.5Z" fill="#dc3d00" stroke="#dc3d00" stroke-width="0.3"/>
<path d="M164.2 62.4L168.2 62.7L171.2 62L167.2 61.7Z" fill="#97fc06" stroke="#97fc06" stroke-width="0.3"/>
<path d="M93.2 58L96.8 58.5L100.2 59.1L96.6 58.5Z" fill="#abb800" stroke="#abb800" stroke-width="0.3"/>
<path d="M196.2 59.8L200.4 59.9L203.2 58.7L199.1 58.6Z" fill="#e5ff00" stroke="#e5ff00" stroke-width="0.3"/>
<path d="M125.2 61.7L129 62.2L132.2 62.1L128.4 61.7Z" fill="#8be304" stroke="#8be304" stroke-width="0.3"/>
<path d="M228.3 54.4L232.6 54.4L235.2 52.6L231 52.7Z" fill="#ff6100" stroke="#ff6100" stroke-width="0.3"/>
<path d="M54.1 49.5L57.5 50.2L61.2 51.4L57.7 50.8Z" fill="#e31000" stroke="#e31000" stroke-width="0.3"/>
<path d="M157.2 62.7L161.1 63L164.2 62.4L160.3 62.1Z" fill="#80f90b" stroke="#80f90b" stroke-width="0.3"/>
<path d="M86.1 56.8L89.7 57.3L93.2 58L89.5 57.4Z" fill="#c0bb00" stroke="#c0bb00" stroke-width="0.3"/>
<path d="M189.2 60.8L193.3 60.9L196.2 59.8L192.1 59.7Z" fill="#cfff00" stroke="#cfff00" stroke-width="0.3"/>
<path d="M118.1 61.2L121.9 61.7L125.2 61.7L121.4 61.3Z" fill="#98dc00" stroke="#98dc00" stroke-width="0.3"/>
<path d="M221.3 56L225.6 56L228.3 54.4L224 54.4Z" fill="#ffa000" stroke="#ffa000" stroke-width="0.3"/>
<path d="M46.9 47.4L50.4 48.1L54.1 49.5L50.6 48.8Z" fill="#e20b00" stroke="#e20b00" stroke-width="0.3"/>
<path d="M150.1 62.8L154.1 63.1L157.2 62.7L153.3 62.4Z" fill="#72f80f" stroke="#72f80f" stroke-width="0.3"/>
<path d="M78.9 55.4L82.5 56L86.1 56.8L82.5 56.2Z" fill="#c8a200" stroke="#c8a200" stroke-width="0.3"/>
<path d="M182.2 61.6L186.3 61.8L189.2 60.8L185.2 60.6Z" fill="#bdff00" stroke="#bdff00" stroke-width="0.3"/>
<path d="M111 60.5L114.8 61L118.1 61.2L114.4 60.7Z" fill="#9dd300" stroke="#9dd300" stroke-width="0.3"/>
<path d="M214.3 57.5L218.6 57.5L221.3 56L217.1 56Z" fill="#ffd700" stroke="#ffd700" stroke-width="0.3"/>
<path d="M39.8 45.2L43.2 45.9L46.9 47.4L43.5 46.7Z" fill="#e00400" stroke="#e00400" stroke-width="0.3"/>
<path d="M143.1 62.7L147 63.1L150.1 62.8L146.3 62.4Z" fill="#6cf50f" stroke="#6cf50f" stroke-width="0.3"/>
<path d="M71.8 53.8L75.4 54.4L78.9 55.4L75.4 54.7Z" fill="#d08000" stroke="#d08000" stroke-width="0.3"/>
<path d="M175.2 62.2L179.3 62.4L182.2 61.6L178.2 61.4Z" fill="#a2fd04" stroke="#a2fd04" stroke-width="0.3"/>
<path d="M103.9 59.6L107.6 60.1L111 60.5L107.3 60Z" fill="#a2c900" stroke="#a2c900" stroke-width="0.3"/>
<path d="M207.4 58.8L211.5 58.9L214.3 57.5L210.2 57.4Z" fill="#f9ff00" stroke="#f9ff00" stroke-width="0.3"/>
<path d="M32.6 42.8L36 43.5L39.8 45.2L36.4 44.4Z" fill="#d30000" stroke="#d30000" stroke-width="0.3"/>
<path d="M136 62.5L139.9 63L143.1 62.7L139.2 62.4Z" fill="#6bec0e" stroke="#6bec0e" stroke-width="0.3"/>
<path d="M64.7 52.1L68.2 52.7L71.8 53.8L68.3 53.2Z" fill="#d85600" stroke="#d85600" stroke-width="0.3"/>
<path d="M168.2 62.7L172.2 62.9L175.2 62.2L171.2 62Z" fill="#81f90b" stroke="#81f90b" stroke-width="0.3"/>
<path d="M96.8 58.5L100.5 59.1L103.9 59.6L100.2 59.1Z" fill="#a8c100" stroke="#a8c100" stroke-width="0.3"/>
<path d="M200.4 59.9L204.5 60.1L207.4 58.8L203.2 58.7Z" fill="#e0ff00" stroke="#e0ff00" stroke-width="0.3"/>
<path d="M129 62.2L132.8 62.6L136 62.5L132.2 62.1Z" fill="#71e40b" stroke="#71e40b" stroke-width="0.3"/>
<path d="M232.6 54.4L236.9 54.3L239.5 52.5L235.2 52.6Z" fill="#ff6600" stroke="#ff6600" stroke-width="0.3"/>
<path d="M57.5 50.2L61 50.9L64.7 52.1L61.2 51.4Z" fill="#e02300" stroke="#e02300" stroke-width="0.3"/>
<path d="M161.1 63L165.1 63.3L168.2 62.7L164.2 62.4Z" fill="#68f711" stroke="#68f711" stroke-width="0.3"/>
<path d="M89.7 57.3L93.3 57.9L96.8 58.5L93.2 58Z" fill="#b4bc00" stroke="#b4bc00" stroke-width="0.3"/>
<path d="M193.3 60.9L197.5 61.1L200.4 59.9L196.2 59.8Z" fill="#c9ff00" stroke="#c9ff00" stroke-width="0.3"/>
<path d="M121.9 61.7L125.7 62.1L129 62.2L125.2 61.7Z" fill="#7edd07" stroke="#7edd07" stroke-width="0.3"/>
<path d="M225.6 56L229.9 56L232.6 54.4L228.3 54.4Z" fill="#ffa600" stroke="#ffa600" stroke-width="0.3"/>
<path d="M50.4 48.1L53.8 48.9L57.5 50.2L54.1 49.5Z" fill="#e20d00" stroke="#e20d00" stroke-width="0.3"/>
<path d="M154.1 63.1L158 63.5L161.1 63L157.2 62.7Z" fill="#58f514" stroke="#58f514" stroke-width="0.3"/>
<path d="M82.5 56L86.2 56.6L89.7 57.3L86.1 56.8Z" fill="#c4b300" stroke="#c4b300" stroke-width="0.3"/>
<path d="M186.3 61.8L190.4 62L193.3 60.9L189.2 60.8Z" fill="#b6ff00" stroke="#b6ff00" stroke-width="0.3"/>
<path d="M114.8 61L118.5 61.5L121.9 61.7L118.1 61.2Z" fill="#92d601" stroke="#92d601" stroke-width="0.3"/>
<path d="M218.6 57.5L222.8 57.6L225.6 56L221.3 56Z" fill="#ffdf00" stroke="#ffdf00" stroke-width="0.3"/>
<path d="M43.2 45.9L46.6 46.7L50.4 48.1L46.9 47.4Z" fill="#e20700" stroke="#e20700" stroke-width="0.3"/>
<path d="M147 63.1L150.9 63.5L154.1 63.1L150.1 62.8Z" fill="#51f416" stroke="#51f416" stroke-width="0.3"/>
<path d="M75.4 54.4L79 55.1L82.5 56L78.9 55.4Z" fill="#cc9500" stroke="#cc9500" stroke-width="0.3"/>
<path d="M179.3 62.4L183.3 62.7L186.3 61.8L182.2 61.6Z" fill="#8dfb09" stroke="#8dfb09" stroke-width="0.3"/>
<path d="M107.6 60.1L111.4 60.7L114.8 61L111 60.5Z" fill="#9ace00" stroke="#9ace00" stroke-width="0.3"/>
<path d="M211.5 58.9L215.8 59L218.6 57.5L214.3 57.5Z" fill="#f4ff00" stroke="#f4ff00" stroke-width="0.3"/>
<path d="M36 43.5L39.4 44.3L43.2 45.9L39.8 45.2Z" fill="#db0000" stroke="#db0000" stroke-width="0.3"/>
<path d="M139.9 63L143.8 63.4L147 63.1L143.1 62.7Z" fill="#4fed15" stroke="#4fed15" stroke-width="0.3"/>
<path d="M68.2 52.7L71.8 53.4L75.4 54.4L71.8 53.8Z" fill="#d46f00" stroke="#d46f00" stroke-width="0.3"/>
<path d="M172.2 62.9L176.2 63.2L179.3 62.4L175.2 62.2Z" fill="#6af711" stroke="#6af711" stroke-width="0.3"/>
<path d="M100.5 59.1L104.2 59.7L107.6 60.1L103.9 59.6Z" fill="#a0c500" stroke="#a0c500" stroke-width="0.3"/>
<path d="M204.5 60.1L208.7 60.2L211.5 58.9L207.4 58.8Z" fill="#daff00" stroke="#daff00" stroke-width="0.3"/>
<path d="M132.8 62.6L136.7 63.1L139.9 63L136 62.5Z" fill="#56e512" stroke="#56e512" stroke-width="0.3"/>
<path d="M61 50.9L64.6 51.6L68.2 52.7L64.7 52.1Z" fill="#dc3e00" stroke="#dc3e00" stroke-width="0.3"/>
<path d="M165.1 63.3L169.1 63.6L172.2 62.9L168.2 62.7Z" fill="#4ff416" stroke="#4ff416" stroke-width="0.3"/>
<path d="M93.3 57.9L97 58.6L100.5 59.1L96.8 58.5Z" fill="#a4b800" stroke="#a4b800" stroke-width="0.3"/>
<path d="M197.5 61.1L201.6 61.3L204.5 60.1L200.4 59.9Z" fill="#c3ff00" stroke="#c3ff00" stroke-width="0.3"/>
<path d="M125.7 62.1L129.5 62.6L132.8 62.6L129 62.2Z" fill="#62de0e" stroke="#62de0e" stroke-width="0.3"/>
<path d="M229.9 56L234.2 56.1L236.9 54.3L232.6 54.4Z" fill="#ffad00" stroke="#ffad00" stroke-width="0.3"/>
<path d="M53.8 48.9L57.3 49.6L61 50.9L57.5 50.2Z" fill="#e21100" stroke="#e21100" stroke-width="0.3"/>
<path d="M158 63.5L162 63.8L165.1 63.3L161.1 63Z" fill="#3df21a" stroke="#3df21a" stroke-width="0.3"/>
<path d="M86.2 56.6L89.8 57.2L93.3 57.9L89.7 57.3Z" fill="#bec000" stroke="#bec000" stroke-width="0.3"/>
<path d="M190.4 62L194.6 62.2L197.5 61.1L193.3 60.9Z" fill="#a5fd03" stroke="#a5fd03" stroke-width="0.3"/>
<path d="M118.5 61.5L122.3 62L125.7 62.1L121.9 61.7Z" fill="#76d708" stroke="#76d708" stroke-width="0.3"/>
<path d="M222.8 57.6L227.1 57.6L229.9 56L225.6 56Z" fill="#ffe600" stroke="#ffe600" stroke-width="0.3"/>
<path d="M46.6 46.7L50.1 47.4L53.8 48.9L50.4 48.1Z" fill="#e20b00" stroke="#e20b00" stroke-width="0.3"/>
<path d="M150.9 63.5L154.9 63.9L158 63.5L154.1 63.1Z" fill="#34f11c" stroke="#34f11c" stroke-width="0.3"/>
<path d="M79 55.1L82.6 55.8L86.2 56.6L82.5 56Z" fill="#c8a800" stroke="#c8a800" stroke-width="0.3"/>
<path d="M183.3 62.7L187.5 62.9L190.4 62L186.3 61.8Z" fill="#78f80d" stroke="#78f80d" stroke-width="0.3"/>
<path d="M111.4 60.7L115.2 61.2L118.5 61.5L114.8 61Z" fill="#8ed101" stroke="#8ed101" stroke-width="0.3"/>
<path d="M215.8 59L220 59.1L222.8 57.6L218.6 57.5Z" fill="#efff00" stroke="#efff00" stroke-width="0.3"/>
<path d="M39.4 44.3L42.8 45.1L46.6 46.7L43.2 45.9Z" fill="#df0300" stroke="#df0300" stroke-width="0.3"/>
<path d="M143.8 63.4L147.7 63.8L150.9 63.5L147 63.1Z" fill="#32ef1c" stroke="#32ef1c" stroke-width="0.3"/>
<path d="M71.8 53.4L75.4 54.1L79 55.1L75.4 54.4Z" fill="#d18500" stroke="#d18500" stroke-width="0.3"/>
<path d="M176.2 63.2L180.3 63.5L183.3 62.7L179.3 62.4Z" fill="#53f416" stroke="#53f416" stroke-width="0.3"/>
<path d="M104.2 59.7L108 60.3L111.4 60.7L107.6 60.1Z" fill="#99c900" stroke="#99c900" stroke-width="0.3"/>
<path d="M208.7 60.2L213 60.3L215.8 59L211.5 58.9Z" fill="#d4ff00" stroke="#d4ff00" stroke-width="0.3"/>
<path d="M136.7 63.1L140.6 63.6L143.8 63.4L139.9 63Z" fill="#38e719" stroke="#38e719" stroke-width="0.3"/>
<path d="M64.6 51.6L68.1 52.3L71.8 53.4L68.2 52.7Z" fill="#d95900" stroke="#d95900" stroke-width="0.3"/>
<path d="M169.1 63.6L173.2 64L176.2 63.2L172.2 62.9Z" fill="#36f11c" stroke="#36f11c" stroke-width="0.3"/>
<path d="M97 58.6L100.8 59.2L104.2 59.7L100.5 59.1Z" fill="#a0c000" stroke="#a0c000" stroke-width="0.3"/>
<path d="M201.6 61.3L205.9 61.5L208.7 60.2L204.5 60.1Z" fill="#bcff00" stroke="#bcff00" stroke-width="0.3"/>
<path d="M129.5 62.6L133.4 63.1L136.7 63.1L132.8 62.6Z" fill="#45de15" stroke="#45de15" stroke-width="0.3"/>
<path d="M57.3 49.6L60.9 50.4L64.6 51.6L61 50.9Z" fill="#e02300" stroke="#e02300" stroke-width="0.3"/>
<path d="M162 63.8L166.1 64.2L169.1 63.6L165.1 63.3Z" fill="#23ef20" stroke="#23ef20" stroke-width="0.3"/>
<path d="M89.8 57.2L93.5 57.9L97 58.6L93.3 57.9Z" fill="#aebc00" stroke="#aebc00" stroke-width="0.3"/>
<path d="M194.6 62.2L198.7 62.4L201.6 61.3L197.5 61.1Z" fill="#92fb08" stroke="#92fb08" stroke-width="0.3"/>
<path d="M122.3 62L126.2 62.6L129.5 62.6L125.7 62.1Z" fill="#58d80f" stroke="#58d80f" stroke-width="0.3"/>
<path d="M227.1 57.6L231.5 57.7L234.2 56.1L229.9 56Z" fill="#ffee00" stroke="#ffee00" stroke-width="0.3"/>
<path d="M50.1 47.4L53.6 48.2L57.3 49.6L53.8 48.9Z" fill="#e30d00" stroke="#e30d00" stroke-width="0.3"/>
<path d="M154.9 63.9L158.9 64.3L162 63.8L158 63.5Z" fill="#17ee23" stroke="#17ee23" stroke-width="0.3"/>
<path d="M82.6 55.8L86.3 56.5L89.8 57.2L86.2 56.6Z" fill="#c5bb00" stroke="#c5bb00" stroke-width="0.3"/>
<path d="M187.5 62.9L191.6 63.2L194.6 62.2L190.4 62Z" fill="#62f612" stroke="#62f612" stroke-width="0.3"/>
<path d="M115.2 61.2L119 61.8L122.3 62L118.5 61.5Z" fill="#71d208" stroke="#71d208" stroke-width="0.3"/>
<path d="M220 59.1L224.4 59.2L227.1 57.6L222.8 57.6Z" fill="#eaff00" stroke="#eaff00" stroke-width="0.3"/>
<path d="M42.8 45.1L46.3 45.9L50.1 47.4L46.6 46.7Z" fill="#e10700" stroke="#e10700" stroke-width="0.3"/>
<path d="M147.7 63.8L151.7 64.3L154.9 63.9L150.9 63.5Z" fill="#15ed23" stroke="#15ed23" stroke-width="0.3"/>
<path d="M75.4 54.1L79 54.8L82.6 55.8L79 55.1Z" fill="#cd9b00" stroke="#cd9b00" stroke-width="0.3"/>
<path d="M180.3 63.5L184.5 63.8L187.5 62.9L183.3 62.7Z" fill="#3bf21b" stroke="#3bf21b" stroke-width="0.3"/>
<path d="M108 60.3L111.8 60.9L115.2 61.2L111.4 60.7Z" fill="#8ecd00" stroke="#8ecd00" stroke-width="0.3"/>
<path d="M213 60.3L217.2 60.5L220 59.1L215.8 59Z" fill="#ceff00" stroke="#ceff00" stroke-width="0.3"/>
<path d="M140.6 63.6L144.5 64L147.7 63.8L143.8 63.4Z" fill="#1ae721" stroke="#1ae721" stroke-width="0.3"/>
<path d="M68.1 52.3L71.8 53.1L75.4 54.1L71.8 53.4Z" fill="#d57200" stroke="#d57200" stroke-width="0.3"/>
<path d="M173.2 64L177.3 64.3L180.3 63.5L176.2 63.2Z" fill="#1dee22" stroke="#1dee22" stroke-width="0.3"/>
<path d="M100.8 59.2L104.5 59.8L108 60.3L104.2 59.7Z" fill="#98c400" stroke="#98c400" stroke-width="0.3"/>
<path d="M205.9 61.5L210.1 61.7L213 60.3L208.7 60.2Z" fill="#b5ff00" stroke="#b5ff00" stroke-width="0.3"/>
<path d="M133.4 63.1L137.3 63.7L140.6 63.6L136.7 63.1Z" fill="#27e01c" stroke="#27e01c" stroke-width="0.3"/>
<path d="M60.9 50.4L64.5 51.1L68.1 52.3L64.6 51.6Z" fill="#dd3f00" stroke="#dd3f00" stroke-width="0.3"/>
<path d="M166.1 64.2L170.1 64.6L173.2 64L169.1 63.6Z" fill="#08ec26" stroke="#08ec26" stroke-width="0.3"/>
<path d="M93.5 57.9L97.3 58.6L100.8 59.2L97 58.6Z" fill="#9fb800" stroke="#9fb800" stroke-width="0.3"/>
<path d="M198.7 62.4L203 62.6L205.9 61.5L201.6 61.3Z" fill="#7ef90c" stroke="#7ef90c" stroke-width="0.3"/>
<path d="M126.2 62.6L130.1 63.1L133.4 63.1L129.5 62.6Z" fill="#3ad917" stroke="#3ad917" stroke-width="0.3"/>
<path d="M53.6 48.2L57.2 49L60.9 50.4L57.3 49.6Z" fill="#e31000" stroke="#e31000" stroke-width="0.3"/>
<path d="M158.9 64.3L162.9 64.7L166.1 64.2L162 63.8Z" fill="#00ea2f" stroke="#00ea2f" stroke-width="0.3"/>
<path d="M86.3 56.5L90 57.1L93.5 57.9L89.8 57.2Z" fill="#b9c100" stroke="#b9c100" stroke-width="0.3"/>
<path d="M191.6 63.2L195.8 63.5L198.7 62.4L194.6 62.2Z" fill="#4cf317" stroke="#4cf317" stroke-width="0.3"/>
<path d="M119 61.8L122.8 62.4L126.2 62.6L122.3 62Z" fill="#53d310" stroke="#53d310" stroke-width="0.3"/>
<path d="M224.4 59.2L228.7 59.3L231.5 57.7L227.1 57.6Z" fill="#e4ff00" stroke="#e4ff00" stroke-width="0.3"/>
<path d="M46.3 45.9L49.8 46.7L53.6 48.2L50.1 47.4Z" fill="#e20a00" stroke="#e20a00" stroke-width="0.3"/>
<path d="M151.7 64.3L155.7 64.7L158.9 64.3L154.9 63.9Z" fill="#00ea34" stroke="#00ea34" stroke-width="0.3"/>
<path d="M79 54.8L82.7 55.6L86.3 56.5L82.6 55.8Z" fill="#c9b000" stroke="#c9b000" stroke-width="0.3"/>
<path d="M184.5 63.8L188.6 64.1L191.6 63.2L187.5 62.9Z" fill="#24ef20" stroke="#24ef20" stroke-width="0.3"/>
<path d="M111.8 60.9L115.6 61.5L119 61.8L115.2 61.2Z" fill="#70ce08" stroke="#70ce08" stroke-width="0.3"/>
<path d="M217.2 60.5L221.6 60.7L224.4 59.2L220 59.1Z" fill="#c8ff00" stroke="#c8ff00" stroke-width="0.3"/>
<path d="M144.5 64L148.5 64.5L151.7 64.3L147.7 63.8Z" fill="#00e82e" stroke="#00e82e" stroke-width="0.3"/>
<path d="M71.8 53.1L75.4 53.8L79 54.8L75.4 54.1Z" fill="#d18a00" stroke="#d18a00" stroke-width="0.3"/>
<path d="M177.3 64.3L181.4 64.6L184.5 63.8L180.3 63.5Z" fill="#04eb27" stroke="#04eb27" stroke-width="0.3"/>
<path d="M104.5 59.8L108.3 60.4L111.8 60.9L108 60.3Z" fill="#8fc900" stroke="#8fc900" stroke-width="0.3"/>
<path d="M210.1 61.7L214.4 61.9L217.2 60.5L213 60.3Z" fill="#a5fd03" stroke="#a5fd03" stroke-width="0.3"/>
<path d="M137.3 63.7L141.3 64.2L144.5 64L140.6 63.6Z" fill="#06e024" stroke="#06e024" stroke-width="0.3"/>
<path d="M64.5 51.1L68.1 51.9L71.8 53.1L68.1 52.3Z" fill="#d95b00" stroke="#d95b00" stroke-width="0.3"/>
<path d="M170.1 64.6L174.2 65L177.3 64.3L173.2 64Z" fill="#00e940" stroke="#00e940" stroke-width="0.3"/>
<path d="M97.3 58.6L101 59.2L104.5 59.8L100.8 59.2Z" fill="#99c000" stroke="#99c000" stroke-width="0.3"/>
<path d="M203 62.6L207.2 62.9L210.1 61.7L205.9 61.5Z" fill="#6af711" stroke="#6af711" stroke-width="0.3"/>
<path d="M130.1 63.1L134 63.7L137.3 63.7L133.4 63.1Z" fill="#19d91f" stroke="#19d91f" stroke-width="0.3"/>
<path d="M57.2 49L60.7 49.8L64.5 51.1L60.9 50.4Z" fill="#e12200" stroke="#e12200" stroke-width="0.3"/>
<path d="M162.9 64.7L167 65.2L170.1 64.6L166.1 64.2Z" fill="#00e751" stroke="#00e751" stroke-width="0.3"/>
<path d="M90 57.1L93.7 57.8L97.3 58.6L93.5 57.9Z" fill="#a9bd00" stroke="#a9bd00" stroke-width="0.3"/>
<path d="M195.8 63.5L200 63.8L203 62.6L198.7 62.4Z" fill="#37f11c" stroke="#37f11c" stroke-width="0.3"/>
<path d="M122.8 62.4L126.7 63L130.1 63.1L126.2 62.6Z" fill="#32d317" stroke="#32d317" stroke-width="0.3"/>
<path d="M49.8 46.7L53.4 47.6L57.2 49L53.6 48.2Z" fill="#e20d00" stroke="#e20d00" stroke-width="0.3"/>
<path d="M155.7 64.7L159.8 65.2L162.9 64.7L158.9 64.3Z" fill="#00e659" stroke="#00e659" stroke-width="0.3"/>
<path d="M82.7 55.6L86.4 56.3L90 57.1L86.3 56.5Z" fill="#c5c400" stroke="#c5c400" stroke-width="0.3"/>
<path d="M188.6 64.1L192.8 64.5L195.8 63.5L191.6 63.2Z" fill="#0cec25" stroke="#0cec25" stroke-width="0.3"/>
<path d="M115.6 61.5L119.4 62.1L122.8 62.4L119 61.8Z" fill="#51cf0f" stroke="#51cf0f" stroke-width="0.3"/>
<path d="M221.6 60.7L225.9 60.8L228.7 59.3L224.4 59.2Z" fill="#c2ff00" stroke="#c2ff00" stroke-width="0.3"/>
<path d="M148.5 64.5L152.5 65L155.7 64.7L151.7 64.3Z" fill="#00e756" stroke="#00e756" stroke-width="0.3"/>
<path d="M75.4 53.8L79.1 54.6L82.7 55.6L79 54.8Z" fill="#cda100" stroke="#cda100" stroke-width="0.3"/>
<path d="M181.4 64.6L185.6 65L188.6 64.1L184.5 63.8Z" fill="#00e942" stroke="#00e942" stroke-width="0.3"/>
<path d="M108.3 60.4L112.1 61.1L115.6 61.5L111.8 60.9Z" fill="#74ca06" stroke="#74ca06" stroke-width="0.3"/>
<path d="M214.4 61.9L218.7 62.1L221.6 60.7L217.2 60.5Z" fill="#93fb07" stroke="#93fb07" stroke-width="0.3"/>
<path d="M141.3 64.2L145.2 64.7L148.5 64.5L144.5 64Z" fill="#00e146" stroke="#00e146" stroke-width="0.3"/>
<path d="M68.1 51.9L71.7 52.7L75.4 53.8L71.8 53.1Z" fill="#d57600" stroke="#d57600" stroke-width="0.3"/>
<path d="M174.2 65L178.4 65.4L181.4 64.6L177.3 64.3Z" fill="#00e661" stroke="#00e661" stroke-width="0.3"/>
<path d="M101 59.2L104.8 59.9L108.3 60.4L104.5 59.8Z" fill="#90c400" stroke="#90c400" stroke-width="0.3"/>
<path d="M207.2 62.9L211.5 63.1L214.4 61.9L210.1 61.7Z" fill="#55f415" stroke="#55f415" stroke-width="0.3"/>
<path d="M134 63.7L138 64.2L141.3 64.2L137.3 63.7Z" fill="#00da2e" stroke="#00da2e" stroke-width="0.3"/>
<path d="M60.7 49.8L64.4 50.6L68.1 51.9L64.5 51.1Z" fill="#dd4100" stroke="#dd4100" stroke-width="0.3"/>
<path d="M167 65.2L171.1 65.6L174.2 65L170.1 64.6Z" fill="#00e475" stroke="#00e475" stroke-width="0.3"/>
<path d="M93.7 57.8L97.5 58.6L101 59.2L97.3 58.6Z" fill="#99b900" stroke="#99b900" stroke-width="0.3"/>
<path d="M200 63.8L204.3 64L207.2 62.9L203 62.6Z" fill="#20ef21" stroke="#20ef21" stroke-width="0.3"/>
<path d="M126.7 63L130.7 63.6L134 63.7L130.1 63.1Z" fill="#11d420" stroke="#11d420" stroke-width="0.3"/>
<path d="M53.4 47.6L57 48.4L60.7 49.8L57.2 49Z" fill="#e31000" stroke="#e31000" stroke-width="0.3"/>
<path d="M159.8 65.2L163.9 65.6L167 65.2L162.9 64.7Z" fill="#00e37e" stroke="#00e37e" stroke-width="0.3"/>
<path d="M86.4 56.3L90.1 57L93.7 57.8L90 57.1Z" fill="#b4c100" stroke="#b4c100" stroke-width="0.3"/>
<path d="M192.8 64.5L197.1 64.8L200 63.8L195.8 63.5Z" fill="#00ea36" stroke="#00ea36" stroke-width="0.3"/>
<path d="M119.4 62.1L123.3 62.7L126.7 63L122.8 62.4Z" fill="#30cf17" stroke="#30cf17" stroke-width="0.3"/>
<path d="M152.5 65L156.6 65.5L159.8 65.2L155.7 64.7Z" fill="#00e37e" stroke="#00e37e" stroke-width="0.3"/>
<path d="M79.1 54.6L82.8 55.3L86.4 56.3L82.7 55.6Z" fill="#c9b700" stroke="#c9b700" stroke-width="0.3"/>
<path d="M185.6 65L189.8 65.4L192.8 64.5L188.6 64.1Z" fill="#00e661" stroke="#00e661" stroke-width="0.3"/>
<path d="M112.1 61.1L116 61.8L119.4 62.1L115.6 61.5Z" fill="#53ca0d" stroke="#53ca0d" stroke-width="0.3"/>
<path d="M218.7 62.1L223.1 62.3L225.9 60.8L221.6 60.7Z" fill="#80f90b" stroke="#80f90b" stroke-width="0.3"/>
<path d="M145.2 64.7L149.3 65.2L152.5 65L148.5 64.5Z" fill="#00e171" stroke="#00e171" stroke-width="0.3"/>
<path d="M71.7 52.7L75.4 53.5L79.1 54.6L75.4 53.8Z" fill="#d18f00" stroke="#d18f00" stroke-width="0.3"/>
<path d="M178.4 65.4L182.6 65.8L185.6 65L181.4 64.6Z" fill="#00e382" stroke="#00e382" stroke-width="0.3"/>
<path d="M104.8 59.9L108.7 60.6L112.1 61.1L108.3 60.4Z" fill="#7ac603" stroke="#7ac603" stroke-width="0.3"/>
<path d="M211.5 63.1L215.9 63.4L218.7 62.1L214.4 61.9Z" fill="#41f21a" stroke="#41f21a" stroke-width="0.3"/>
<path d="M138 64.2L142 64.8L145.2 64.7L141.3 64.2Z" fill="#00da59" stroke="#00da59" stroke-width="0.3"/>
<path d="M64.4 50.6L68 51.5L71.7 52.7L68.1 51.9Z" fill="#d95d00" stroke="#d95d00" stroke-width="0.3"/>
<path d="M171.1 65.6L175.3 66L178.4 65.4L174.2 65Z" fill="#00e198" stroke="#00e198" stroke-width="0.3"/>
<path d="M97.5 58.6L101.3 59.3L104.8 59.9L101 59.2Z" fill="#91bf00" stroke="#91bf00" stroke-width="0.3"/>
<path d="M204.3 64L208.6 64.3L211.5 63.1L207.2 62.9Z" fill="#0aec26" stroke="#0aec26" stroke-width="0.3"/>
<path d="M130.7 63.6L134.6 64.2L138 64.2L134 63.7Z" fill="#00d439" stroke="#00d439" stroke-width="0.3"/>
<path d="M57 48.4L60.6 49.3L64.4 50.6L60.7 49.8Z" fill="#e12200" stroke="#e12200" stroke-width="0.3"/>
<path d="M163.9 65.6L168 66.1L171.1 65.6L167 65.2Z" fill="#00dfa4" stroke="#00dfa4" stroke-width="0.3"/>
<path d="M90.1 57L93.9 57.8L97.5 58.6L93.7 57.8Z" fill="#a3bd00" stroke="#a3bd00" stroke-width="0.3"/>
<path d="M197.1 64.8L201.4 65.1L204.3 64L200 63.8Z" fill="#00e754" stroke="#00e754" stroke-width="0.3"/>
<path d="M123.3 62.7L127.3 63.4L130.7 63.6L126.7 63Z" fill="#0ecf20" stroke="#0ecf20" stroke-width="0.3"/>
<path d="M156.6 65.5L160.7 66L163.9 65.6L159.8 65.2Z" fill="#00dfa6" stroke="#00dfa6" stroke-width="0.3"/>
<path d="M82.8 55.3L86.5 56.1L90.1 57L86.4 56.3Z" fill="#c2c500" stroke="#c2c500" stroke-width="0.3"/>
<path d="M189.8 65.4L194.1 65.7L197.1 64.8L192.8 64.5Z" fill="#00e381" stroke="#00e381" stroke-width="0.3"/>
<path d="M116 61.8L119.9 62.4L123.3 62.7L119.4 62.1Z" fill="#31cb16" stroke="#31cb16" stroke-width="0.3"/>
<path d="M149.3 65.2L153.3 65.8L156.6 65.5L152.5 65Z" fill="#00e09d" stroke="#00e09d" stroke-width="0.3"/>
<path d="M75.4 53.5L79.1 54.3L82.8 55.3L79.1 54.6Z" fill="#cea800" stroke="#cea800" stroke-width="0.3"/>
<path d="M182.6 65.8L186.8 66.2L189.8 65.4L185.6 65Z" fill="#00e0a3" stroke="#00e0a3" stroke-width="0.3"/>
<path d="M108.7 60.6L112.5 61.3L116 61.8L112.1 61.1Z" fill="#59c60c" stroke="#59c60c" stroke-width="0.3"/>
<path d="M215.9 63.4L220.3 63.6L223.1 62.3L218.7 62.1Z" fill="#2cf01e" stroke="#2cf01e" stroke-width="0.3"/>
<path d="M142 64.8L146 65.4L149.3 65.2L145.2 64.7Z" fill="#00db86" stroke="#00db86" stroke-width="0.3"/>
<path d="M68 51.5L71.7 52.3L75.4 53.5L71.7 52.7Z" fill="#d67a00" stroke="#d67a00" stroke-width="0.3"/>
<path d="M175.3 66L179.5 66.5L182.6 65.8L178.4 65.4Z" fill="#00ddbc" stroke="#00ddbc" stroke-width="0.3"/>
<path d="M101.3 59.3L105.1 60L108.7 60.6L104.8 59.9Z" fill="#84c301" stroke="#84c301" stroke-width="0.3"/>
<path d="M208.6 64.3L213 64.6L215.9 63.4L211.5 63.1Z" fill="#00ea37" stroke="#00ea37" stroke-width="0.3"/>
<path d="M134.6 64.2L138.6 64.8L142 64.8L138 64.2Z" fill="#00d566" stroke="#00d566" stroke-width="0.3"/>
<path d="M60.6 49.3L64.2 50.1L68 51.5L64.4 50.6Z" fill="#dd4200" stroke="#dd4200" stroke-width="0.3"/>
<path d="M168 66.1L172.1 66.6L175.3 66L171.1 65.6Z" fill="#00dcca" stroke="#00dcca" stroke-width="0.3"/>
<path d="M93.9 57.8L97.7 58.6L101.3 59.3L97.5 58.6Z" fill="#93b900" stroke="#93b900" stroke-width="0.3"/>
<path d="M201.4 65.1L205.7 65.5L208.6 64.3L204.3 64Z" fill="#00e471" stroke="#00e471" stroke-width="0.3"/>
<path d="M127.3 63.4L131.2 64L134.6 64.2L130.7 63.6Z" fill="#00cf3e" stroke="#00cf3e" stroke-width="0.3"/>
<path d="M160.7 66L164.8 66.6L168 66.1L163.9 65.6Z" fill="#00dcce" stroke="#00dcce" stroke-width="0.3"/>
<path d="M86.5 56.1L90.3 56.9L93.9 57.8L90.1 57Z" fill="#afc200" stroke="#afc200" stroke-width="0.3"/>
<path d="M194.1 65.7L198.4 66.1L201.4 65.1L197.1 64.8Z" fill="#00e0a0" stroke="#00e0a0" stroke-width="0.3"/>
<path d="M119.9 62.4L123.9 63.1L127.3 63.4L123.3 62.7Z" fill="#0dcb1e" stroke="#0dcb1e" stroke-width="0.3"/>
<path d="M153.3 65.8L157.4 66.4L160.7 66L156.6 65.5Z" fill="#00dcc8" stroke="#00dcc8" stroke-width="0.3"/>
<path d="M79.1 54.3L82.9 55.1L86.5 56.1L82.8 55.3Z" fill="#cabf00" stroke="#cabf00" stroke-width="0.3"/>
<path d="M186.8 66.2L191 66.6L194.1 65.7L189.8 65.4Z" fill="#00dcc5" stroke="#00dcc5" stroke-width="0.3"/>
<path d="M112.5 61.3L116.4 62L119.9 62.4L116 61.8Z" fill="#36c614" stroke="#36c614" stroke-width="0.3"/>
<path d="M146 65.4L150.1 66L153.3 65.8L149.3 65.2Z" fill="#00dbb4" stroke="#00dbb4" stroke-width="0.3"/>
<path d="M71.7 52.3L75.4 53.1L79.1 54.3L75.4 53.5Z" fill="#d29400" stroke="#d29400" stroke-width="0.3"/>
<path d="M179.5 66.5L183.7 66.9L186.8 66.2L182.6 65.8Z" fill="#00dae0" stroke="#00dae0" stroke-width="0.3"/>
<path d="M105.1 60L109 60.8L112.5 61.3L108.7 60.6Z" fill="#62c309" stroke="#62c309" stroke-width="0.3"/>
<path d="M213 64.6L217.4 64.9L220.3 63.6L215.9 63.4Z" fill="#00e753" stroke="#00e753" stroke-width="0.3"/>
<path d="M138.6 64.8L142.7 65.4L146 65.4L142 64.8Z" fill="#00d495" stroke="#00d495" stroke-width="0.3"/>
<path d="M64.2 50.1L67.9 51L71.7 52.3L68 51.5Z" fill="#da6000" stroke="#da6000" stroke-width="0.3"/>
<path d="M172.1 66.6L176.3 67.1L179.5 66.5L175.3 66Z" fill="#00d8f1" stroke="#00d8f1" stroke-width="0.3"/>
<path d="M97.7 58.6L101.6 59.3L105.1 60L101.3 59.3Z" fill="#8abf00" stroke="#8abf00" stroke-width="0.3"/>
<path d="M205.7 65.5L210.1 65.8L213 64.6L208.6 64.3Z" fill="#00e18f" stroke="#00e18f" stroke-width="0.3"/>
<path d="M131.2 64L135.3 64.7L138.6 64.8L134.6 64.2Z" fill="#00d06d" stroke="#00d06d" stroke-width="0.3"/>
<path d="M164.8 66.6L169 67.1L172.1 66.6L168 66.1Z" fill="#00d8f7" stroke="#00d8f7" stroke-width="0.3"/>
<path d="M90.3 56.9L94.1 57.7L97.7 58.6L93.9 57.8Z" fill="#9ebe00" stroke="#9ebe00" stroke-width="0.3"/>
<path d="M198.4 66.1L202.7 66.5L205.7 65.5L201.4 65.1Z" fill="#00ddc0" stroke="#00ddc0" stroke-width="0.3"/>
<path d="M123.9 63.1L127.8 63.8L131.2 64L127.3 63.4Z" fill="#00cb3f" stroke="#00cb3f" stroke-width="0.3"/>
<path d="M157.4 66.4L161.6 66.9L164.8 66.6L160.7 66Z" fill="#00d8f3" stroke="#00d8f3" stroke-width="0.3"/>
<path d="M82.9 55.1L86.6 56L90.3 56.9L86.5 56.1Z" fill="#bdc600" stroke="#bdc600" stroke-width="0.3"/>
<path d="M191 66.6L195.4 67L198.4 66.1L194.1 65.7Z" fill="#00d9e7" stroke="#00d9e7" stroke-width="0.3"/>
<path d="M116.4 62L120.4 62.8L123.9 63.1L119.9 62.4Z" fill="#11c61d" stroke="#11c61d" stroke-width="0.3"/>
<path d="M150.1 66L154.2 66.6L157.4 66.4L153.3 65.8Z" fill="#00d9e4" stroke="#00d9e4" stroke-width="0.3"/>
<path d="M75.4 53.1L79.2 54L82.9 55.1L79.1 54.3Z" fill="#ceae00" stroke="#ceae00" stroke-width="0.3"/>
<path d="M183.7 66.9L188 67.4L191 66.6L186.8 66.2Z" fill="#00d2ff" stroke="#00d2ff" stroke-width="0.3"/>
<path d="M109 60.8L112.9 61.5L116.4 62L112.5 61.3Z" fill="#3ec312" stroke="#3ec312" stroke-width="0.3"/>
<path d="M142.7 65.4L146.7 66.1L150.1 66L146 65.4Z" fill="#00d5c5" stroke="#00d5c5" stroke-width="0.3"/>
<path d="M67.9 51L71.6 51.9L75.4 53.1L71.7 52.3Z" fill="#d67e00" stroke="#d67e00" stroke-width="0.3"/>
<path d="M176.3 67.1L180.6 67.6L183.7 66.9L179.5 66.5Z" fill="#01c3ff" stroke="#01c3ff" stroke-width="0.3"/>
<path d="M101.6 59.3L105.5 60.1L109 60.8L105.1 60Z" fill="#6dc006" stroke="#6dc006" stroke-width="0.3"/>
<path d="M210.1 65.8L214.5 66.2L217.4 64.9L213 64.6Z" fill="#00dfac" stroke="#00dfac" stroke-width="0.3"/>
<path d="M135.3 64.7L139.3 65.4L142.7 65.4L138.6 64.8Z" fill="#00cf9d" stroke="#00cf9d" stroke-width="0.3"/>
<path d="M169 67.1L173.2 67.6L176.3 67.1L172.1 66.6Z" fill="#01bbfe" stroke="#01bbfe" stroke-width="0.3"/>
<path d="M94.1 57.7L98 58.6L101.6 59.3L97.7 58.6Z" fill="#8dba00" stroke="#8dba00" stroke-width="0.3"/>
<path d="M202.7 66.5L207.1 66.9L210.1 65.8L205.7 65.5Z" fill="#00dae0" stroke="#00dae0" stroke-width="0.3"/>
<path d="M127.8 63.8L131.9 64.5L135.3 64.7L131.2 64Z" fill="#00ca6e" stroke="#00ca6e" stroke-width="0.3"/>
<path d="M161.6 66.9L165.8 67.5L169 67.1L164.8 66.6Z" fill="#01bdfe" stroke="#01bdfe" stroke-width="0.3"/>
<path d="M86.6 56L90.5 56.8L94.1 57.7L90.3 56.9Z" fill="#aac200" stroke="#aac200" stroke-width="0.3"/>
<path d="M195.4 67L199.7 67.5L202.7 66.5L198.4 66.1Z" fill="#00ceff" stroke="#00ceff" stroke-width="0.3"/>
<path d="M120.4 62.8L124.4 63.5L127.8 63.8L123.9 63.1Z" fill="#00c63b" stroke="#00c63b" stroke-width="0.3"/>
<path d="M154.2 66.6L158.3 67.2L161.6 66.9L157.4 66.4Z" fill="#01c7ff" stroke="#01c7ff" stroke-width="0.3"/>
<path d="M79.2 54L82.9 54.9L86.6 56L82.9 55.1Z" fill="#cac500" stroke="#cac500" stroke-width="0.3"/>
<path d="M188 67.4L192.3 67.9L195.4 67L191 66.6Z" fill="#02b3fe" stroke="#02b3fe" stroke-width="0.3"/>
<path d="M112.9 61.5L116.9 62.3L120.4 62.8L116.4 62Z" fill="#19c31b" stroke="#19c31b" stroke-width="0.3"/>
<path d="M146.7 66.1L150.9 66.7L154.2 66.6L150.1 66Z" fill="#00d4f8" stroke="#00d4f8" stroke-width="0.3"/>
<path d="M71.6 51.9L75.4 52.8L79.2 54L75.4 53.1Z" fill="#d29900" stroke="#d29900" stroke-width="0.3"/>
<path d="M180.6 67.6L184.9 68.1L188 67.4L183.7 66.9Z" fill="#03a2fe" stroke="#03a2fe" stroke-width="0.3"/>
<path d="M105.5 60.1L109.4 60.9L112.9 61.5L109 60.8Z" fill="#49bf0e" stroke="#49bf0e" stroke-width="0.3"/>
<path d="M139.3 65.4L143.4 66.1L146.7 66.1L142.7 65.4Z" fill="#00cecf" stroke="#00cecf" stroke-width="0.3"/>
<path d="M173.2 67.6L177.4 68.2L180.6 67.6L176.3 67.1Z" fill="#0398fd" stroke="#0398fd" stroke-width="0.3"/>
<path d="M98 58.6L101.9 59.4L105.5 60.1L101.6 59.3Z" fill="#77b502" stroke="#77b502" stroke-width="0.3"/>
<path d="M207.1 66.9L211.5 67.3L214.5 66.2L210.1 65.8Z" fill="#00d6ff" stroke="#00d6ff" stroke-width="0.3"/>
<path d="M131.9 64.5L135.9 65.3L139.3 65.4L135.3 64.7Z" fill="#00caa0" stroke="#00caa0" stroke-width="0.3"/>
<path d="M165.8 67.5L170 68.1L173.2 67.6L169 67.1Z" fill="#0398fd" stroke="#0398fd" stroke-width="0.3"/>
<path d="M90.5 56.8L94.3 57.7L98 58.6L94.1 57.7Z" fill="#99be00" stroke="#99be00" stroke-width="0.3"/>
<path d="M199.7 67.5L204.1 67.9L207.1 66.9L202.7 66.5Z" fill="#02b0fe" stroke="#02b0fe" stroke-width="0.3"/>
<path d="M124.4 63.5L128.4 64.3L131.9 64.5L127.8 63.8Z" fill="#00c66b" stroke="#00c66b" stroke-width="0.3"/>
<path d="M158.3 67.2L162.5 67.8L165.8 67.5L161.6 66.9Z" fill="#03a0fe" stroke="#03a0fe" stroke-width="0.3"/>
<path d="M82.9 54.9L86.8 55.8L90.5 56.8L86.6 56Z" fill="#b9c600" stroke="#b9c600" stroke-width="0.3"/>
<path d="M192.3 67.9L196.7 68.4L199.7 67.5L195.4 67Z" fill="#0394fd" stroke="#0394fd" stroke-width="0.3"/>
<path d="M116.9 62.3L120.9 63.1L124.4 63.5L120.4 62.8Z" fill="#00c232" stroke="#00c232" stroke-width="0.3"/>
<path d="M150.9 66.7L155 67.4L158.3 67.2L154.2 66.6Z" fill="#02b1fe" stroke="#02b1fe" stroke-width="0.3"/>
<path d="M75.4 52.8L79.2 53.7L82.9 54.9L79.2 54Z" fill="#ceb400" stroke="#ceb400" stroke-width="0.3"/>
<path d="M184.9 68.1L189.2 68.7L192.3 67.9L188 67.4Z" fill="#0480fd" stroke="#0480fd" stroke-width="0.3"/>
<path d="M109.4 60.9L113.3 61.8L116.9 62.3L112.9 61.5Z" fill="#24c018" stroke="#24c018" stroke-width="0.3"/>
<path d="M143.4 66.1L147.5 66.8L150.9 66.7L146.7 66.1Z" fill="#00c4f6" stroke="#00c4f6" stroke-width="0.3"/>
<path d="M177.4 68.2L181.7 68.8L184.9 68.1L180.6 67.6Z" fill="#0575fd" stroke="#0575fd" stroke-width="0.3"/>
<path d="M101.9 59.4L105.8 60.2L109.4 60.9L105.5 60.1Z" fill="#57bd0a" stroke="#57bd0a" stroke-width="0.3"/>
<path d="M135.9 65.3L140 66L143.4 66.1L139.3 65.4Z" fill="#00c9d4" stroke="#00c9d4" stroke-width="0.3"/>
<path d="M170 68.1L174.3 68.7L177.4 68.2L173.2 67.6Z" fill="#0573fd" stroke="#0573fd" stroke-width="0.3"/>
<path d="M94.3 57.7L98.2 58.6L101.9 59.4L98 58.6Z" fill="#87ba00" stroke="#87ba00" stroke-width="0.3"/>
<path d="M204.1 67.9L208.5 68.4L211.5 67.3L207.1 66.9Z" fill="#0393fd" stroke="#0393fd" stroke-width="0.3"/>
<path d="M128.4 64.3L132.5 65L135.9 65.3L131.9 64.5Z" fill="#00c59e" stroke="#00c59e" stroke-width="0.3"/>
<path d="M162.5 67.8L166.7 68.5L170 68.1L165.8 67.5Z" fill="#0579fd" stroke="#0579fd" stroke-width="0.3"/>
<path d="M86.8 55.8L90.6 56.7L94.3 57.7L90.5 56.8Z" fill="#a6c200" stroke="#a6c200" stroke-width="0.3"/>
<path d="M196.7 68.4L201.1 68.9L204.1 67.9L199.7 67.5Z" fill="#0574fd" stroke="#0574fd" stroke-width="0.3"/>
<path d="M120.9 63.1L124.9 63.9L128.4 64.3L124.4 63.5Z" fill="#00c263" stroke="#00c263" stroke-width="0.3"/>
<path d="M155 67.4L159.2 68.1L162.5 67.8L158.3 67.2Z" fill="#0488fd" stroke="#0488fd" stroke-width="0.3"/>
<path d="M79.2 53.7L83 54.7L86.8 55.8L82.9 54.9Z" fill="#c9cb00" stroke="#c9cb00" stroke-width="0.3"/>
<path d="M189.2 68.7L193.6 69.2L196.7 68.4L192.3 67.9Z" fill="#065ffc" stroke="#065ffc" stroke-width="0.3"/>
<path d="M113.3 61.8L117.3 62.6L120.9 63.1L116.9 62.3Z" fill="#00c024" stroke="#00c024" stroke-width="0.3"/>
<path d="M147.5 66.8L151.7 67.5L155 67.4L150.9 66.7Z" fill="#029dfa" stroke="#029dfa" stroke-width="0.3"/>
<path d="M181.7 68.8L186.1 69.3L189.2 68.7L184.9 68.1Z" fill="#0652fc" stroke="#0652fc" stroke-width="0.3"/>
<path d="M105.8 60.2L109.8 61.1L113.3 61.8L109.4 60.9Z" fill="#32bd14" stroke="#32bd14" stroke-width="0.3"/>
<path d="M140 66L144.1 66.7L147.5 66.8L143.4 66.1Z" fill="#00b6f0" stroke="#00b6f0" stroke-width="0.3"/>
<path d="M174.3 68.7L178.6 69.3L181.7 68.8L177.4 68.2Z" fill="#074efc" stroke="#074efc" stroke-width="0.3"/>
<path d="M98.2 58.6L102.2 59.5L105.8 60.2L101.9 59.4Z" fill="#64b306" stroke="#64b306" stroke-width="0.3"/>
<path d="M132.5 65L136.6 65.8L140 66L135.9 65.3Z" fill="#00c5d3" stroke="#00c5d3" stroke-width="0.3"/>
<path d="M166.7 68.5L171 69.1L174.3 68.7L170 68.1Z" fill="#0652fc" stroke="#0652fc" stroke-width="0.3"/>
<path d="M90.6 56.7L94.5 57.6L98.2 58.6L94.3 57.7Z" fill="#93be00" stroke="#93be00" stroke-width="0.3"/>
<path d="M201.1 68.9L205.5 69.4L208.5 68.4L204.1 67.9Z" fill="#0655fc" stroke="#0655fc" stroke-width="0.3"/>
<path d="M124.9 63.9L129 64.7L132.5 65L128.4 64.3Z" fill="#00c297" stroke="#00c297" stroke-width="0.3"/>
<path d="M159.2 68.1L163.5 68.7L166.7 68.5L162.5 67.8Z" fill="#065ffc" stroke="#065ffc" stroke-width="0.3"/>
<path d="M83 54.7L86.9 55.6L90.6 56.7L86.8 55.8Z" fill="#b5c700" stroke="#b5c700" stroke-width="0.3"/>
<path d="M193.6 69.2L198 69.7L201.1 68.9L196.7 68.4Z" fill="#083dfb" stroke="#083dfb" stroke-width="0.3"/>
<path d="M117.3 62.6L121.4 63.4L124.9 63.9L120.9 63.1Z" fill="#00bf57" stroke="#00bf57" stroke-width="0.3"/>
<path d="M151.7 67.5L155.9 68.2L159.2 68.1L155 67.4Z" fill="#0575fd" stroke="#0575fd" stroke-width="0.3"/>
<path d="M186.1 69.3L190.5 69.9L193.6 69.2L189.2 68.7Z" fill="#082efb" stroke="#082efb" stroke-width="0.3"/>
<path d="M109.8 61.1L113.8 62L117.3 62.6L113.3 61.8Z" fill="#09bc1d" stroke="#09bc1d" stroke-width="0.3"/>
<path d="M144.1 66.7L148.3 67.5L151.7 67.5L147.5 66.8Z" fill="#028ef4" stroke="#028ef4" stroke-width="0.3"/>
<path d="M178.6 69.3L182.9 69.9L186.1 69.3L181.7 68.8Z" fill="#0928fb" stroke="#0928fb" stroke-width="0.3"/>
<path d="M102.2 59.5L106.1 60.4L109.8 61.1L105.8 60.2Z" fill="#43ba10" stroke="#43ba10" stroke-width="0.3"/>
<path d="M136.6 65.8L140.7 66.6L144.1 66.7L140 66Z" fill="#00adeb" stroke="#00adeb" stroke-width="0.3"/>
<path d="M171 69.1L175.3 69.8L178.6 69.3L174.3 68.7Z" fill="#082bfb" stroke="#082bfb" stroke-width="0.3"/>
<path d="M94.5 57.6L98.5 58.6L102.2 59.5L98.2 58.6Z" fill="#7dba01" stroke="#7dba01" stroke-width="0.3"/>
<path d="M129 64.7L133.1 65.5L136.6 65.8L132.5 65Z" fill="#00c1cd" stroke="#00c1cd" stroke-width="0.3"/>
<path d="M163.5 68.7L167.8 69.4L171 69.1L166.7 68.5Z" fill="#0836fb" stroke="#0836fb" stroke-width="0.3"/>
<path d="M86.9 55.6L90.8 56.6L94.5 57.6L90.6 56.7Z" fill="#a1c300" stroke="#a1c300" stroke-width="0.3"/>
<path d="M198 69.7L202.4 70.3L205.5 69.4L201.1 68.9Z" fill="#091bfa" stroke="#091bfa" stroke-width="0.3"/>
<path d="M121.4 63.4L125.5 64.3L129 64.7L124.9 63.9Z" fill="#00be8b" stroke="#00be8b" stroke-width="0.3"/>
<path d="M155.9 68.2L160.2 68.9L163.5 68.7L159.2 68.1Z" fill="#074afc" stroke="#074afc" stroke-width="0.3"/>
<path d="M190.5 69.9L194.9 70.5L198 69.7L193.6 69.2Z" fill="#0a0afa" stroke="#0a0afa" stroke-width="0.3"/>
<path d="M113.8 62L117.8 62.9L121.4 63.4L117.3 62.6Z" fill="#00bc46" stroke="#00bc46" stroke-width="0.3"/>
<path d="M148.3 67.5L152.5 68.3L155.9 68.2L151.7 67.5Z" fill="#0465f7" stroke="#0465f7" stroke-width="0.3"/>
<path d="M182.9 69.9L187.3 70.6L190.5 69.9L186.1 69.3Z" fill="#0e0af8" stroke="#0e0af8" stroke-width="0.3"/>
<path d="M106.1 60.4L110.1 61.3L113.8 62L109.8 61.1Z" fill="#1aba18" stroke="#1aba18" stroke-width="0.3"/>
<path d="M140.7 66.6L144.9 67.4L148.3 67.5L144.1 66.7Z" fill="#0384ef" stroke="#0384ef" stroke-width="0.3"/>
<path d="M175.3 69.8L179.7 70.5L182.9 69.9L178.6 69.3Z" fill="#0e0af8" stroke="#0e0af8" stroke-width="0.3"/>
<path d="M98.5 58.6L102.5 59.5L106.1 60.4L102.2 59.5Z" fill="#53b10a" stroke="#53b10a" stroke-width="0.3"/>
<path d="M133.1 65.5L137.3 66.4L140.7 66.6L136.6 65.8Z" fill="#00a8e6" stroke="#00a8e6" stroke-width="0.3"/>
<path d="M167.8 69.4L172.1 70.2L175.3 69.8L171 69.1Z" fill="#0a0cfa" stroke="#0a0cfa" stroke-width="0.3"/>
<path d="M90.8 56.6L94.7 57.6L98.5 58.6L94.5 57.6Z" fill="#8ebf00" stroke="#8ebf00" stroke-width="0.3"/>
<path d="M125.5 64.3L129.6 65.2L133.1 65.5L129 64.7Z" fill="#00bdc2" stroke="#00bdc2" stroke-width="0.3"/>
<path d="M160.2 68.9L164.5 69.7L167.8 69.4L163.5 68.7Z" fill="#091efa" stroke="#091efa" stroke-width="0.3"/>
<path d="M194.9 70.5L199.3 71.1L202.4 70.3L198 69.7Z" fill="#1f08f2" stroke="#1f08f2" stroke-width="0.3"/>
<path d="M117.8 62.9L121.9 63.8L125.5 64.3L121.4 63.4Z" fill="#00bb7c" stroke="#00bb7c" stroke-width="0.3"/>
<path d="M152.5 68.3L156.8 69L160.2 68.9L155.9 68.2Z" fill="#0839fb" stroke="#0839fb" stroke-width="0.3"/>
<path d="M187.3 70.6L191.7 71.2L194.9 70.5L190.5 69.9Z" fill="#2407f0" stroke="#2407f0" stroke-width="0.3"/>
<path d="M110.1 61.3L114.2 62.2L117.8 62.9L113.8 62Z" fill="#00b933" stroke="#00b933" stroke-width="0.3"/>
<path d="M144.9 67.4L149.1 68.2L152.5 68.3L148.3 67.5Z" fill="#0559f2" stroke="#0559f2" stroke-width="0.3"/>
<path d="M179.7 70.5L184.1 71.1L187.3 70.6L182.9 69.9Z" fill="#2507f0" stroke="#2507f0" stroke-width="0.3"/>
<path d="M102.5 59.5L106.5 60.5L110.1 61.3L106.1 60.4Z" fill="#2db814" stroke="#2db814" stroke-width="0.3"/>
<path d="M137.3 66.4L141.4 67.2L144.9 67.4L140.7 66.6Z" fill="#037eea" stroke="#037eea" stroke-width="0.3"/>
<path d="M172.1 70.2L176.5 70.9L179.7 70.5L175.3 69.8Z" fill="#2108f1" stroke="#2108f1" stroke-width="0.3"/>
<path d="M94.7 57.6L98.7 58.5L102.5 59.5L98.5 58.6Z" fill="#6cb805" stroke="#6cb805" stroke-width="0.3"/>
<path d="M129.6 65.2L133.7 66L137.3 66.4L133.1 65.5Z" fill="#00a8e1" stroke="#00a8e1" stroke-width="0.3"/>
<path d="M164.5 69.7L168.8 70.4L172.1 70.2L167.8 69.4Z" fill="#1709f5" stroke="#1709f5" stroke-width="0.3"/>
<path d="M121.9 63.8L126 64.7L129.6 65.2L125.5 64.3Z" fill="#00bab4" stroke="#00bab4" stroke-width="0.3"/>
<path d="M156.8 69L161.1 69.8L164.5 69.7L160.2 68.9Z" fill="#0a0cfa" stroke="#0a0cfa" stroke-width="0.3"/>
<path d="M191.7 71.2L196.2 71.9L199.3 71.1L194.9 70.5Z" fill="#3a05e8" stroke="#3a05e8" stroke-width="0.3"/>
<path d="M114.2 62.2L118.3 63.2L121.9 63.8L117.8 62.9Z" fill="#00b869" stroke="#00b869" stroke-width="0.3"/>
<path d="M149.1 68.2L153.4 69.1L156.8 69L152.5 68.3Z" fill="#072cf6" stroke="#072cf6" stroke-width="0.3"/>
<path d="M184.1 71.1L188.5 71.8L191.7 71.2L187.3 70.6Z" fill="#3c05e7" stroke="#3c05e7" stroke-width="0.3"/>
<path d="M106.5 60.5L110.5 61.4L114.2 62.2L110.1 61.3Z" fill="#03b61e" stroke="#03b61e" stroke-width="0.3"/>
<path d="M141.4 67.2L145.7 68.1L149.1 68.2L144.9 67.4Z" fill="#0552ed" stroke="#0552ed" stroke-width="0.3"/>
<path d="M176.5 70.9L180.9 71.6L184.1 71.1L179.7 70.5Z" fill="#3906e8" stroke="#3906e8" stroke-width="0.3"/>
<path d="M98.7 58.5L102.8 59.6L106.5 60.5L102.5 59.5Z" fill="#40b00e" stroke="#40b00e" stroke-width="0.3"/>
<path d="M133.7 66L137.9 66.9L141.4 67.2L137.3 66.4Z" fill="#037ce5" stroke="#037ce5" stroke-width="0.3"/>
<path d="M168.8 70.4L173.2 71.2L176.5 70.9L172.1 70.2Z" fill="#3106eb" stroke="#3106eb" stroke-width="0.3"/>
<path d="M126 64.7L130.2 65.6L133.7 66L129.6 65.2Z" fill="#00abdd" stroke="#00abdd" stroke-width="0.3"/>
<path d="M161.1 69.8L165.5 70.6L168.8 70.4L164.5 69.7Z" fill="#2408f0" stroke="#2408f0" stroke-width="0.3"/>
<path d="M118.3 63.2L122.4 64.1L126 64.7L121.9 63.8Z" fill="#00b7a1" stroke="#00b7a1" stroke-width="0.3"/>
<path d="M153.4 69.1L157.7 69.9L161.1 69.8L156.8 69Z" fill="#1109f7" stroke="#1109f7" stroke-width="0.3"/>
<path d="M188.5 71.8L193 72.6L196.2 71.9L191.7 71.2Z" fill="#5403de" stroke="#5403de" stroke-width="0.3"/>
<path d="M110.5 61.4L114.6 62.4L118.3 63.2L114.2 62.2Z" fill="#00b651" stroke="#00b651" stroke-width="0.3"/>
<path d="M145.7 68.1L150 69L153.4 69.1L149.1 68.2Z" fill="#0824f1" stroke="#0824f1" stroke-width="0.3"/>
<path d="M180.9 71.6L185.3 72.4L188.5 71.8L184.1 71.1Z" fill="#5103df" stroke="#5103df" stroke-width="0.3"/>
<path d="M102.8 59.6L106.8 60.6L110.5 61.4L106.5 60.5Z" fill="#18b519" stroke="#18b519" stroke-width="0.3"/>
<path d="M137.9 66.9L142.2 67.9L145.7 68.1L141.4 67.2Z" fill="#0550e8" stroke="#0550e8" stroke-width="0.3"/>
<path d="M173.2 71.2L177.6 72L180.9 71.6L176.5 70.9Z" fill="#4a04e2" stroke="#4a04e2" stroke-width="0.3"/>
<path d="M130.2 65.6L134.4 66.6L137.9 66.9L133.7 66Z" fill="#0280e0" stroke="#0280e0" stroke-width="0.3"/>
<path d="M165.5 70.6L169.8 71.5L173.2 71.2L168.8 70.4Z" fill="#3e05e6" stroke="#3e05e6" stroke-width="0.3"/>
<path d="M122.4 64.1L126.6 65.1L130.2 65.6L126 64.7Z" fill="#00b3d8" stroke="#00b3d8" stroke-width="0.3"/>
<path d="M157.7 69.9L162.1 70.8L165.5 70.6L161.1 69.8Z" fill="#2d07ed" stroke="#2d07ed" stroke-width="0.3"/>
<path d="M114.6 62.4L118.8 63.5L122.4 64.1L118.3 63.2Z" fill="#00b58a" stroke="#00b58a" stroke-width="0.3"/>
<path d="M150 69L154.3 69.9L157.7 69.9L153.4 69.1Z" fill="#1608f0" stroke="#1608f0" stroke-width="0.3"/>
<path d="M185.3 72.4L189.8 73.1L193 72.6L188.5 71.8Z" fill="#6a01d5" stroke="#6a01d5" stroke-width="0.3"/>
<path d="M106.8 60.6L110.9 61.6L114.6 62.4L110.5 61.4Z" fill="#00b437" stroke="#00b437" stroke-width="0.3"/>
<path d="M142.2 67.9L146.5 68.8L150 69L145.7 68.1Z" fill="#0820ec" stroke="#0820ec" stroke-width="0.3"/>
<path d="M177.6 72L182.1 72.8L185.3 72.4L180.9 71.6Z" fill="#6401d8" stroke="#6401d8" stroke-width="0.3"/>
<path d="M134.4 66.6L138.7 67.5L142.2 67.9L137.9 66.9Z" fill="#0552e3" stroke="#0552e3" stroke-width="0.3"/>
<path d="M169.8 71.5L174.3 72.3L177.6 72L173.2 71.2Z" fill="#5902dc" stroke="#5902dc" stroke-width="0.3"/>
<path d="M126.6 65.1L130.8 66.1L134.4 66.6L130.2 65.6Z" fill="#0286dc" stroke="#0286dc" stroke-width="0.3"/>
<path d="M162.1 70.8L166.5 71.6L169.8 71.5L165.5 70.6Z" fill="#4904e2" stroke="#4904e2" stroke-width="0.3"/>
<path d="M118.8 63.5L123 64.5L126.6 65.1L122.4 64.1Z" fill="#00b4c6" stroke="#00b4c6" stroke-width="0.3"/>
<path d="M154.3 69.9L158.7 70.8L162.1 70.8L157.7 69.9Z" fill="#3305e9" stroke="#3305e9" stroke-width="0.3"/>
<path d="M110.9 61.6L115.1 62.7L118.8 63.5L114.6 62.4Z" fill="#00b370" stroke="#00b370" stroke-width="0.3"/>
<path d="M146.5 68.8L150.8 69.7L154.3 69.9L150 69Z" fill="#1808ea" stroke="#1808ea" stroke-width="0.3"/>
<path d="M182.1 72.8L186.6 73.6L189.8 73.1L185.3 72.4Z" fill="#7700ce" stroke="#7700ce" stroke-width="0.3"/>
<path d="M138.7 67.5L143 68.5L146.5 68.8L142.2 67.9Z" fill="#0822e7" stroke="#0822e7" stroke-width="0.3"/>
<path d="M174.3 72.3L178.8 73.2L182.1 72.8L177.6 72Z" fill="#7300d2" stroke="#7300d2" stroke-width="0.3"/>
<path d="M130.8 66.1L135.1 67.1L138.7 67.5L134.4 66.6Z" fill="#0558de" stroke="#0558de" stroke-width="0.3"/>
<path d="M166.5 71.6L170.9 72.5L174.3 72.3L169.8 71.5Z" fill="#6501d7" stroke="#6501d7" stroke-width="0.3"/>
<path d="M123 64.5L127.2 65.5L130.8 66.1L126.6 65.1Z" fill="#0190d7" stroke="#0190d7" stroke-width="0.3"/>
<path d="M158.7 70.8L163.1 71.7L166.5 71.6L162.1 70.8Z" fill="#5103df" stroke="#5103df" stroke-width="0.3"/>
<path d="M115.1 62.7L119.3 63.8L123 64.5L118.8 63.5Z" fill="#00b1ac" stroke="#00b1ac" stroke-width="0.3"/>
<path d="M150.8 69.7L155.2 70.7L158.7 70.8L154.3 69.9Z" fill="#3605e4" stroke="#3605e4" stroke-width="0.3"/>
<path d="M143 68.5L147.3 69.5L150.8 69.7L146.5 68.8Z" fill="#1807e5" stroke="#1807e5" stroke-width="0.3"/>
<path d="M178.8 73.2L183.3 74L186.6 73.6L182.1 72.8Z" fill="#7c00c7" stroke="#7c00c7" stroke-width="0.3"/>
<path d="M135.1 67.1L139.4 68.1L143 68.5L138.7 67.5Z" fill="#0726e2" stroke="#0726e2" stroke-width="0.3"/>
<path d="M170.9 72.5L175.4 73.4L178.8 73.2L174.3 72.3Z" fill="#7800cd" stroke="#7800cd" stroke-width="0.3"/>
<path d="M127.2 65.5L131.5 66.6L135.1 67.1L130.8 66.1Z" fill="#0461da" stroke="#0461da" stroke-width="0.3"/>
<path d="M163.1 71.7L167.5 72.6L170.9 72.5L166.5 71.6Z" fill="#6e00d4" stroke="#6e00d4" stroke-width="0.3"/>
<path d="M119.3 63.8L123.5 64.8L127.2 65.5L123 64.5Z" fill="#009ed2" stroke="#009ed2" stroke-width="0.3"/>
<path d="M155.2 70.7L159.6 71.7L163.1 71.7L158.7 70.8Z" fill="#5502dc" stroke="#5502dc" stroke-width="0.3"/>
<path d="M147.3 69.5L151.7 70.5L155.2 70.7L150.8 69.7Z" fill="#3604de" stroke="#3604de" stroke-width="0.3"/>
<path d="M139.4 68.1L143.7 69.2L147.3 69.5L143 68.5Z" fill="#1508e1" stroke="#1508e1" stroke-width="0.3"/>
<path d="M175.4 73.4L179.9 74.3L183.3 74L178.8 73.2Z" fill="#8100c2" stroke="#8100c2" stroke-width="0.3"/>
<path d="M131.5 66.6L135.8 67.6L139.4 68.1L135.1 67.1Z" fill="#072fdd" stroke="#072fdd" stroke-width="0.3"/>
<path d="M167.5 72.6L172 73.6L175.4 73.4L170.9 72.5Z" fill="#7b00c9" stroke="#7b00c9" stroke-width="0.3"/>
<path d="M123.5 64.8L127.8 65.9L131.5 66.6L127.2 65.5Z" fill="#036ed5" stroke="#036ed5" stroke-width="0.3"/>
<path d="M159.6 71.7L164.1 72.6L167.5 72.6L163.1 71.7Z" fill="#7400d1" stroke="#7400d1" stroke-width="0.3"/>
<path d="M151.7 70.5L156.1 71.5L159.6 71.7L155.2 70.7Z" fill="#5601d7" stroke="#5601d7" stroke-width="0.3"/>
<path d="M143.7 69.2L148.1 70.2L151.7 70.5L147.3 69.5Z" fill="#3405d9" stroke="#3405d9" stroke-width="0.3"/>
<path d="M135.8 67.6L140.1 68.7L143.7 69.2L139.4 68.1Z" fill="#1008de" stroke="#1008de" stroke-width="0.3"/>
<path d="M172 73.6L176.6 74.5L179.9 74.3L175.4 73.4Z" fill="#8500bd" stroke="#8500bd" stroke-width="0.3"/>
<path d="M127.8 65.9L132.1 67.1L135.8 67.6L131.5 66.6Z" fill="#063cd8" stroke="#063cd8" stroke-width="0.3"/>
<path d="M164.1 72.6L168.6 73.6L172 73.6L167.5 72.6Z" fill="#7e00c6" stroke="#7e00c6" stroke-width="0.3"/>
<path d="M156.1 71.5L160.6 72.6L164.1 72.6L159.6 71.7Z" fill="#7400cf" stroke="#7400cf" stroke-width="0.3"/>
<path d="M148.1 70.2L152.6 71.3L156.1 71.5L151.7 70.5Z" fill="#5501d2" stroke="#5501d2" stroke-width="0.3"/>
<path d="M140.1 68.7L144.5 69.8L148.1 70.2L143.7 69.2Z" fill="#2f05d6" stroke="#2f05d6" stroke-width="0.3"/>
<path d="M132.1 67.1L136.5 68.2L140.1 68.7L135.8 67.6Z" fill="#0808dc" stroke="#0808dc" stroke-width="0.3"/>
<path d="M168.6 73.6L173.1 74.7L176.6 74.5L172 73.6Z" fill="#8800ba" stroke="#8800ba" stroke-width="0.3"/>
<path d="M160.6 72.6L165.1 73.6L168.6 73.6L164.1 72.6Z" fill="#7f00c4" stroke="#7f00c4" stroke-width="0.3"/>
<path d="M152.6 71.3L157.1 72.4L160.6 72.6L156.1 71.5Z" fill="#7200c9" stroke="#7200c9" stroke-width="0.3"/>
<path d="M144.5 69.8L149 71L152.6 71.3L148.1 70.2Z" fill="#5002cf" stroke="#5002cf" stroke-width="0.3"/>
<path d="M136.5 68.2L140.9 69.4L144.5 69.8L140.1 68.7Z" fill="#2806d4" stroke="#2806d4" stroke-width="0.3"/>
<path d="M165.1 73.6L169.7 74.7L173.1 74.7L168.6 73.6Z" fill="#8a00b8" stroke="#8a00b8" stroke-width="0.3"/>
<path d="M157.1 72.4L161.6 73.5L165.1 73.6L160.6 72.6Z" fill="#7f00c1" stroke="#7f00c1" stroke-width="0.3"/>
<path d="M149 71L153.5 72.1L157.1 72.4L152.6 71.3Z" fill="#6f00c6" stroke="#6f00c6" stroke-width="0.3"/>
<path d="M140.9 69.4L145.3 70.5L149 71L144.5 69.8Z" fill="#4a02cc" stroke="#4a02cc" stroke-width="0.3"/>
<path d="M161.6 73.5L166.2 74.6L169.7 74.7L165.1 73.6Z" fill="#8b00b6" stroke="#8b00b6" stroke-width="0.3"/>
<path d="M153.5 72.1L158 73.3L161.6 73.5L157.1 72.4Z" fill="#7c00bd" stroke="#7c00bd" stroke-width="0.3"/>
<path d="M145.3 70.5L149.9 71.7L153.5 72.1L149 71Z" fill="#6b00c4" stroke="#6b00c4" stroke-width="0.3"/>
<path d="M158 73.3L162.6 74.4L166.2 74.6L161.6 73.5Z" fill="#8a00b4" stroke="#8a00b4" stroke-width="0.3"/>
<path d="M149.9 71.7L154.4 72.9L158 73.3L153.5 72.1Z" fill="#7900ba" stroke="#7900ba" stroke-width="0.3"/>
<path d="M154.4 72.9L159 74.2L162.6 74.4L158 73.3Z" fill="#8700b0" stroke="#8700b0" stroke-width="0.3"/>
<path d="M32.6 191.1V26.9" stroke="#000" stroke-width="0.9"/>
<path d="M32.6 161.2H29.1" stroke="#000" stroke-width="0.8"/>
<text x="27.6" y="163.9" text-anchor="end" class="t">100</text>
<path d="M32.6 134.3H29.1" stroke="#000" stroke-width="0.8"/>
<text x="27.6" y="137" text-anchor="end" class="t">105</text>
<path d="M32.6 107.5H29.1" stroke="#000" stroke-width="0.8"/>
<text x="27.6" y="110.2" text-anchor="end" class="t">110</text>
<path d="M32.6 80.6H29.1" stroke="#000" stroke-width="0.8"/>
<text x="27.6" y="83.3" text-anchor="end" class="t">115</text>
<path d="M32.6 53.7H29.1" stroke="#000" stroke-width="0.8"/>
<text x="27.6" y="56.4" text-anchor="end" class="t">120</text>
<path d="M32.6 26.9H29.1" stroke="#000" stroke-width="0.8"/>
<text x="27.6" y="29.6" text-anchor="end" class="t">125</text>
<text x="32.6" y="201.31" text-anchor="middle" class="t" style="font-size:8.00px">1.20</text>
<text x="60.6" y="205.22" text-anchor="middle" class="t" style="font-size:8.30px">1.15</text>
<text x="90.8" y="209.44" text-anchor="middle" class="t" style="font-size:8.63px">1.10</text>
<text x="123.5" y="214.00" text-anchor="middle" class="t" style="font-size:8.99px">1.05</text>
<text x="159" y="218.96" text-anchor="middle" class="t" style="font-size:9.37px">1.00</text>
<text x="181.3" y="214.28" text-anchor="middle" class="t" style="font-size:8.99px">2.2</text>
<text x="201.8" y="209.96" text-anchor="middle" class="t" style="font-size:8.64px">2.4</text>
<text x="220.8" y="205.96" text-anchor="middle" class="t" style="font-size:8.32px">2.6</text>
<text x="238.5" y="202.25" text-anchor="middle" class="t" style="font-size:8.02px">2.8</text>
<text x="254.9" y="198.80" text-anchor="middle" class="t" style="font-size:7.74px">3.0</text>
<text x="53.4" y="226.3" class="l">Cement-sand ratio</text>
<text x="176.4" y="225.7" class="l">Steel fiber content</text>
<text transform="translate(11.8 170.6) rotate(-90)" class="z">Compressive strength (MPa)</text>
<text x="44.8" y="25" class="h">(a)</text>
<path d="M316.5 185.5L316.5 29.9" stroke="#e8e8e8" stroke-width="0.6" fill="none"/>
<path d="M338.4 182.3L338.4 31.8" stroke="#e8e8e8" stroke-width="0.6" fill="none"/>
<path d="M358.9 179.4L358.9 33.7" stroke="#e8e8e8" stroke-width="0.6" fill="none"/>
<path d="M378.2 176.7L378.2 35.4" stroke="#e8e8e8" stroke-width="0.6" fill="none"/>
<path d="M423.3 176.8L423.3 35.5" stroke="#e8e8e8" stroke-width="0.6" fill="none"/>
<path d="M452 179.7L452 33.9" stroke="#e8e8e8" stroke-width="0.6" fill="none"/>
<path d="M482.7 182.8L482.7 32.1" stroke="#e8e8e8" stroke-width="0.6" fill="none"/>
<path d="M293 162L396.3 151.2L515.4 160.1" stroke="#e8e8e8" stroke-width="0.6" fill="none"/>
<path d="M293 135.1L396.3 128.4L515.4 134.1" stroke="#e8e8e8" stroke-width="0.6" fill="none"/>
<path d="M293 108.3L396.3 105.6L515.4 108.2" stroke="#e8e8e8" stroke-width="0.6" fill="none"/>
<path d="M293 81.4L396.3 82.7L515.4 82.2" stroke="#e8e8e8" stroke-width="0.6" fill="none"/>
<path d="M293 54.6L396.3 59.9L515.4 56.2" stroke="#e8e8e8" stroke-width="0.6" fill="none"/>
<path d="M293 27.8L396.3 37L515.4 30.3" stroke="#8c8c8c" stroke-width="0.8" fill="none"/>
<path d="M396.3 174.1L396.3 37" stroke="#8c8c8c" stroke-width="0.8" fill="none"/>
<path d="M515.4 186.1L515.4 30.3" stroke="#8c8c8c" stroke-width="0.8" fill="none"/>
<path d="M293 188.8L419.4 205.7L515.4 186.1L396.3 174.1Z" fill="#999999"/>
<path d="M410.9 204.5L412.9 204L416.1 203.3L419.5 202.7L422 202.2L426.1 201.7L429 201.3L433.5 200.9L437.2 200.6L440.6 200.4L443.7 200.3L446.5 200.1" stroke="#6928cb" stroke-width="0.7" fill="none"/>
<path d="M393.1 202.2L395 201.5L397.3 200.8L399.4 200.3L402 199.6L405.2 199L408.7 198.4L411.4 198L415.5 197.5L418.6 197.2L421.9 197L425.5 196.8L429.3 196.6L433.3 196.4L435.8 196.4L440.6 196.3L443.3 196.3L447.3 196.3L451.6 196.4L455 196.4L458.4 196.5L461.9 196.6L463.6 196.7" stroke="#2a72e3" stroke-width="0.7" fill="none"/>
<path d="M376.1 199.9L377.3 199.3L378.5 198.8L379.9 198.2L381.3 197.7L383.6 196.9L385.3 196.4L388 195.8L389.9 195.3L393.1 194.7L396.6 194.2L399.2 193.9L402.8 193.5L406.6 193.2L410.1 193L413.1 192.8L415.8 192.7L420.2 192.6L423 192.6L427.4 192.6L430.3 192.6L433.6 192.6L437.5 192.7L441.3 192.8L445 192.9L448.6 193.1L452.2 193.2L455.7 193.4L459.5 193.6L464.4 193.8L467.8 194L471.2 194.2L474.6 194.4" stroke="#26d181" stroke-width="0.7" fill="none"/>
<path d="M359.6 197.7L360.5 197.1L361.4 196.5L362.4 195.9L363.4 195.3L364.5 194.8L365.6 194.3L366.8 193.7L368.1 193.2L369.5 192.8L371.5 192.1L373.4 191.6L375.7 191.1L378 190.6L381.2 190.1L383.7 189.8L387.6 189.3L390.6 189.1L393.9 188.9L397.6 188.7L400.8 188.7L403.9 188.6L407.4 188.6L411.4 188.6L414.3 188.7L417.3 188.7L420.8 188.8L424.3 188.9L427.8 189.1L431.9 189.2L436 189.4L439.3 189.6L442.5 189.8L446.4 190L450.5 190.3L453.6 190.5L458.3 190.8L461.4 191L465.4 191.3L469.2 191.6L473.2 191.9L476.9 192.2L481.6 192.5L483.1 192.7" stroke="#9ce32a" stroke-width="0.7" fill="none"/>
<path d="M343.9 195.6L344.4 195L345 194.3L345.4 193.9L345.9 193.4L346.6 192.8L347.3 192.2L347.9 191.8L348.5 191.3L349.2 190.8L350.1 190.3L351 189.8L351.9 189.3L353 188.8L354.1 188.3L355.3 187.8L356.6 187.4L358.7 186.8L360.3 186.4L363 185.8L365 185.5L367.2 185.2L370.9 184.8L373.8 184.5L377 184.4L380.7 184.2L383.4 184.2L387.3 184.2L389.8 184.2L393 184.2L396.5 184.3L399.8 184.4L403.1 184.6L406.3 184.7L410.6 184.9L413.8 185.1L416.8 185.3L420.8 185.5L424.2 185.7L427.1 185.9L431.4 186.2L434.3 186.5L438.6 186.8L441.5 187L445.7 187.3L450 187.7L452.8 187.9L457.1 188.3L460.9 188.6L464.3 188.9L468.6 189.2L472.9 189.6L475.8 189.9L480.1 190.3L484.5 190.7L488 191L490.3 191.2" stroke="#e5e526" stroke-width="0.7" fill="none"/>
<path d="M328.7 193.6L328.9 193L329 192.6L329.3 192L329.5 191.6L329.8 191L330 190.5L330.2 190L330.6 189.5L330.8 189.1L331.1 188.5L331.4 188.1L331.7 187.7L332.1 187.1L332.4 186.7L332.8 186.3L333.3 185.7L333.7 185.3L334.1 184.9L334.6 184.4L335.3 183.9L335.8 183.6L336.3 183.2L337.1 182.7L337.6 182.5" stroke="#e57826" stroke-width="0.7" fill="none"/>
<path d="M363.4 178.8L366.7 178.8L369.8 178.9L372.8 179.1L375.6 179.2L378.8 179.4L382.5 179.6L385.2 179.8L389.1 180L391.7 180.2L395.5 180.5L398.1 180.7L401.9 181L405.7 181.3L408.3 181.5L412 181.8L415.8 182.2L418.4 182.4L422.2 182.7L426 183.1L429.8 183.4L433.2 183.8L436.2 184L440.1 184.4L444 184.8L447.9 185.1L451.8 185.5L454.4 185.8L458.4 186.1L462.3 186.5L466.4 186.9L470.4 187.3L474.4 187.7L478.5 188.1L482.6 188.5L485.4 188.8L489.6 189.2L493.8 189.7L496.6 189.9" stroke="#e57826" stroke-width="0.7" fill="none"/>
<path d="M314 191.6L314 191L314 190.6L314 190.1L314 189.6L314 189.1L313.9 188.6L313.9 188.2L313.9 187.6L313.9 187.3L313.8 186.7L313.8 186.3L313.8 185.8L313.8 185.8" stroke="#e03026" stroke-width="0.7" fill="none"/>
<path d="M383.8 175.9L385.9 176.1L388.9 176.5L392 176.8L395.1 177.2L398.3 177.5L401.5 177.9L404.7 178.2L407.9 178.6L411.2 179L413.4 179.2L416.7 179.6L420.1 179.9L423.5 180.3L426.9 180.7L430.4 181.1L433.9 181.5L437.4 181.8L440.9 182.2L444.5 182.6L448.1 183L451.8 183.4L455.4 183.8L459.2 184.2L462.9 184.6L466.7 185L470.5 185.4L474.3 185.8L477.7 186.2L480.8 186.5L484.7 186.9L488.7 187.4L492.7 187.8L496.7 188.2L500.8 188.7L502.1 188.8" stroke="#e03026" stroke-width="0.7" fill="none"/>
<path d="M299.9 189.7L299.8 189.3L299.5 188.8L299.4 188.3L299.2 187.9L299.2 187.9" stroke="#d22626" stroke-width="0.7" fill="none"/>
<path d="M395.1 174.3L397.8 174.6L399.6 174.9L402.4 175.3L404.5 175.6L407.2 175.9L410.1 176.3L412 176.6L415 177L418 177.3L420.1 177.6L423.1 178L426.3 178.4L429.4 178.8L431.6 179L434.8 179.4L438.1 179.8L441.4 180.2L443.6 180.5L446.9 180.9L450.4 181.3L453.8 181.7L457.3 182.1L459.6 182.4L463.1 182.8L466.7 183.2L470.3 183.6L474 184L476.7 184.3L480.1 184.7L483.9 185.2L487.7 185.6L491.5 186L495.4 186.5L499.3 186.9L502 187.2L505.8 187.6L507.2 187.8" stroke="#d22626" stroke-width="0.7" fill="none"/>
<path d="M452.8 179.8L455.4 180.1L458.7 180.5L462 180.9L464.3 181.2L467.7 181.6L471.2 182L473.8 182.4L477 182.8L480.6 183.2L484.2 183.6L486.9 183.9L490.3 184.3L494 184.8L497.7 185.2L501.5 185.6L504 185.9L507.9 186.4L511.8 186.8L511.8 186.8" stroke="#b42626" stroke-width="0.7" fill="none"/>
<path d="M293 188.8L419.4 205.7L515.4 186.1" stroke="#000" stroke-width="0.9" fill="none"/>
<path d="M293 188.8V192" stroke="#000" stroke-width="0.8"/>
<path d="M321.1 192.6V195.9" stroke="#000" stroke-width="0.8"/>
<path d="M351.4 196.6V200" stroke="#000" stroke-width="0.8"/>
<path d="M384 201V204.5" stroke="#000" stroke-width="0.8"/>
<path d="M419.4 205.7V209.4" stroke="#000" stroke-width="0.8"/>
<path d="M441.6 201.1V204.7" stroke="#000" stroke-width="0.8"/>
<path d="M462.1 197V200.4" stroke="#000" stroke-width="0.8"/>
<path d="M481.2 193.1V196.4" stroke="#000" stroke-width="0.8"/>
<path d="M498.9 189.5V192.7" stroke="#000" stroke-width="0.8"/>
<path d="M515.4 186.1V189.2" stroke="#000" stroke-width="0.8"/>
<path d="M393.5 101L396.8 100.9L399.6 99.8L396.3 99.9Z" fill="#e60000" stroke="#e60000" stroke-width="0.3"/>
<path d="M396.8 100.9L400.1 100.8L402.9 99.6L399.6 99.8Z" fill="#e40000" stroke="#e40000" stroke-width="0.3"/>
<path d="M390.8 102.1L394.1 102.1L396.8 100.9L393.5 101Z" fill="#eb0400" stroke="#eb0400" stroke-width="0.3"/>
<path d="M400.1 100.8L403.5 100.7L406.2 99.4L402.9 99.6Z" fill="#e20000" stroke="#e20000" stroke-width="0.3"/>
<path d="M394.1 102.1L397.4 102L400.1 100.8L396.8 100.9Z" fill="#ea0300" stroke="#ea0300" stroke-width="0.3"/>
<path d="M387.9 103.1L391.2 103.1L394.1 102.1L390.8 102.1Z" fill="#f00800" stroke="#f00800" stroke-width="0.3"/>
<path d="M403.5 100.7L406.9 100.6L409.6 99.3L406.2 99.4Z" fill="#e00000" stroke="#e00000" stroke-width="0.3"/>
<path d="M397.4 102L400.7 101.9L403.5 100.7L400.1 100.8Z" fill="#e90300" stroke="#e90300" stroke-width="0.3"/>
<path d="M391.2 103.1L394.6 103.1L397.4 102L394.1 102.1Z" fill="#ef0700" stroke="#ef0700" stroke-width="0.3"/>
<path d="M385.1 104.1L388.4 104.1L391.2 103.1L387.9 103.1Z" fill="#f40b00" stroke="#f40b00" stroke-width="0.3"/>
<path d="M406.9 100.6L410.3 100.5L413 99.1L409.6 99.3Z" fill="#de0000" stroke="#de0000" stroke-width="0.3"/>
<path d="M400.7 101.9L404.1 101.8L406.9 100.6L403.5 100.7Z" fill="#e90200" stroke="#e90200" stroke-width="0.3"/>
<path d="M394.6 103.1L397.9 103L400.7 101.9L397.4 102Z" fill="#ef0700" stroke="#ef0700" stroke-width="0.3"/>
<path d="M388.4 104.1L391.7 104.1L394.6 103.1L391.2 103.1Z" fill="#f40b00" stroke="#f40b00" stroke-width="0.3"/>
<path d="M382.2 105L385.6 105L388.4 104.1L385.1 104.1Z" fill="#f80e00" stroke="#f80e00" stroke-width="0.3"/>
<path d="M410.3 100.5L413.7 100.4L416.4 99L413 99.1Z" fill="#dc0000" stroke="#dc0000" stroke-width="0.3"/>
<path d="M404.1 101.8L407.5 101.8L410.3 100.5L406.9 100.6Z" fill="#e80200" stroke="#e80200" stroke-width="0.3"/>
<path d="M397.9 103L401.3 103L404.1 101.8L400.7 101.9Z" fill="#ee0600" stroke="#ee0600" stroke-width="0.3"/>
<path d="M391.7 104.1L395.1 104.1L397.9 103L394.6 103.1Z" fill="#f30b00" stroke="#f30b00" stroke-width="0.3"/>
<path d="M385.6 105L388.9 105.1L391.7 104.1L388.4 104.1Z" fill="#f80e00" stroke="#f80e00" stroke-width="0.3"/>
<path d="M413.7 100.4L417.1 100.2L419.8 98.8L416.4 99Z" fill="#da0000" stroke="#da0000" stroke-width="0.3"/>
<path d="M379.3 105.8L382.7 105.9L385.6 105L382.2 105Z" fill="#fc1100" stroke="#fc1100" stroke-width="0.3"/>
<path d="M407.5 101.8L410.9 101.7L413.7 100.4L410.3 100.5Z" fill="#e70100" stroke="#e70100" stroke-width="0.3"/>
<path d="M401.3 103L404.7 103L407.5 101.8L404.1 101.8Z" fill="#ed0600" stroke="#ed0600" stroke-width="0.3"/>
<path d="M395.1 104.1L398.5 104.1L401.3 103L397.9 103Z" fill="#f30a00" stroke="#f30a00" stroke-width="0.3"/>
<path d="M388.9 105.1L392.2 105.1L395.1 104.1L391.7 104.1Z" fill="#f80e00" stroke="#f80e00" stroke-width="0.3"/>
<path d="M417.1 100.2L420.6 100.1L423.3 98.6L419.8 98.8Z" fill="#d80000" stroke="#d80000" stroke-width="0.3"/>
<path d="M382.7 105.9L386 106L388.9 105.1L385.6 105Z" fill="#fc1100" stroke="#fc1100" stroke-width="0.3"/>
<path d="M410.9 101.7L414.4 101.6L417.1 100.2L413.7 100.4Z" fill="#e70100" stroke="#e70100" stroke-width="0.3"/>
<path d="M376.4 106.5L379.7 106.7L382.7 105.9L379.3 105.8Z" fill="#ff1400" stroke="#ff1400" stroke-width="0.3"/>
<path d="M404.7 103L408.1 102.9L410.9 101.7L407.5 101.8Z" fill="#ed0600" stroke="#ed0600" stroke-width="0.3"/>
<path d="M398.5 104.1L401.9 104.1L404.7 103L401.3 103Z" fill="#f20a00" stroke="#f20a00" stroke-width="0.3"/>
<path d="M392.2 105.1L395.6 105.2L398.5 104.1L395.1 104.1Z" fill="#f70e00" stroke="#f70e00" stroke-width="0.3"/>
<path d="M420.6 100.1L424.1 100L426.8 98.5L423.3 98.6Z" fill="#d60000" stroke="#d60000" stroke-width="0.3"/>
<path d="M386 106L389.4 106.1L392.2 105.1L388.9 105.1Z" fill="#fc1100" stroke="#fc1100" stroke-width="0.3"/>
<path d="M414.4 101.6L417.8 101.5L420.6 100.1L417.1 100.2Z" fill="#e60000" stroke="#e60000" stroke-width="0.3"/>
<path d="M379.7 106.7L383.1 106.8L386 106L382.7 105.9Z" fill="#ff1500" stroke="#ff1500" stroke-width="0.3"/>
<path d="M408.1 102.9L411.6 102.9L414.4 101.6L410.9 101.7Z" fill="#ec0500" stroke="#ec0500" stroke-width="0.3"/>
<path d="M373.5 107.2L376.8 107.4L379.7 106.7L376.4 106.5Z" fill="#ff2d00" stroke="#ff2d00" stroke-width="0.3"/>
<path d="M401.9 104.1L405.3 104.1L408.1 102.9L404.7 103Z" fill="#f20a00" stroke="#f20a00" stroke-width="0.3"/>
<path d="M395.6 105.2L399.1 105.2L401.9 104.1L398.5 104.1Z" fill="#f70e00" stroke="#f70e00" stroke-width="0.3"/>
<path d="M424.1 100L427.6 99.9L430.3 98.3L426.8 98.5Z" fill="#d40000" stroke="#d40000" stroke-width="0.3"/>
<path d="M389.4 106.1L392.8 106.1L395.6 105.2L392.2 105.1Z" fill="#fc1100" stroke="#fc1100" stroke-width="0.3"/>
<path d="M417.8 101.5L421.4 101.4L424.1 100L420.6 100.1Z" fill="#e40000" stroke="#e40000" stroke-width="0.3"/>
<path d="M383.1 106.8L386.5 106.9L389.4 106.1L386 106Z" fill="#ff1600" stroke="#ff1600" stroke-width="0.3"/>
<path d="M411.6 102.9L415.1 102.9L417.8 101.5L414.4 101.6Z" fill="#ec0500" stroke="#ec0500" stroke-width="0.3"/>
<path d="M376.8 107.4L380.2 107.6L383.1 106.8L379.7 106.7Z" fill="#ff2f00" stroke="#ff2f00" stroke-width="0.3"/>
<path d="M405.3 104.1L408.8 104.1L411.6 102.9L408.1 102.9Z" fill="#f20900" stroke="#f20900" stroke-width="0.3"/>
<path d="M370.5 107.8L373.8 108L376.8 107.4L373.5 107.2Z" fill="#ff4300" stroke="#ff4300" stroke-width="0.3"/>
<path d="M399.1 105.2L402.5 105.3L405.3 104.1L401.9 104.1Z" fill="#f70e00" stroke="#f70e00" stroke-width="0.3"/>
<path d="M427.6 99.9L431.2 99.7L433.9 98.2L430.3 98.3Z" fill="#d20000" stroke="#d20000" stroke-width="0.3"/>
<path d="M392.8 106.1L396.2 106.2L399.1 105.2L395.6 105.2Z" fill="#fc1100" stroke="#fc1100" stroke-width="0.3"/>
<path d="M421.4 101.4L424.9 101.4L427.6 99.9L424.1 100Z" fill="#e30000" stroke="#e30000" stroke-width="0.3"/>
<path d="M386.5 106.9L389.9 107.1L392.8 106.1L389.4 106.1Z" fill="#ff1700" stroke="#ff1700" stroke-width="0.3"/>
<path d="M415.1 102.9L418.6 102.8L421.4 101.4L417.8 101.5Z" fill="#eb0400" stroke="#eb0400" stroke-width="0.3"/>
<path d="M380.2 107.6L383.5 107.7L386.5 106.9L383.1 106.8Z" fill="#ff3200" stroke="#ff3200" stroke-width="0.3"/>
<path d="M408.8 104.1L412.3 104.1L415.1 102.9L411.6 102.9Z" fill="#f10900" stroke="#f10900" stroke-width="0.3"/>
<path d="M373.8 108L377.2 108.3L380.2 107.6L376.8 107.4Z" fill="#ff4700" stroke="#ff4700" stroke-width="0.3"/>
<path d="M402.5 105.3L406 105.3L408.8 104.1L405.3 104.1Z" fill="#f70d00" stroke="#f70d00" stroke-width="0.3"/>
<path d="M431.2 99.7L434.8 99.6L437.4 98L433.9 98.2Z" fill="#d00000" stroke="#d00000" stroke-width="0.3"/>
<path d="M367.5 108.4L370.8 108.6L373.8 108L370.5 107.8Z" fill="#ff5600" stroke="#ff5600" stroke-width="0.3"/>
<path d="M396.2 106.2L399.6 106.3L402.5 105.3L399.1 105.2Z" fill="#fb1100" stroke="#fb1100" stroke-width="0.3"/>
<path d="M424.9 101.4L428.5 101.3L431.2 99.7L427.6 99.9Z" fill="#e10000" stroke="#e10000" stroke-width="0.3"/>
<path d="M389.9 107.1L393.3 107.2L396.2 106.2L392.8 106.1Z" fill="#ff1800" stroke="#ff1800" stroke-width="0.3"/>
<path d="M418.6 102.8L422.1 102.8L424.9 101.4L421.4 101.4Z" fill="#eb0400" stroke="#eb0400" stroke-width="0.3"/>
<path d="M383.5 107.7L386.9 107.9L389.9 107.1L386.5 106.9Z" fill="#ff3400" stroke="#ff3400" stroke-width="0.3"/>
<path d="M412.3 104.1L415.8 104.2L418.6 102.8L415.1 102.9Z" fill="#f10900" stroke="#f10900" stroke-width="0.3"/>
<path d="M377.2 108.3L380.6 108.5L383.5 107.7L380.2 107.6Z" fill="#ff4b00" stroke="#ff4b00" stroke-width="0.3"/>
<path d="M406 105.3L409.5 105.4L412.3 104.1L408.8 104.1Z" fill="#f70d00" stroke="#f70d00" stroke-width="0.3"/>
<path d="M434.8 99.6L438.4 99.5L441.1 97.8L437.4 98Z" fill="#ce0000" stroke="#ce0000" stroke-width="0.3"/>
<path d="M370.8 108.6L374.2 108.9L377.2 108.3L373.8 108Z" fill="#ff5b00" stroke="#ff5b00" stroke-width="0.3"/>
<path d="M399.6 106.3L403.1 106.4L406 105.3L402.5 105.3Z" fill="#fb1100" stroke="#fb1100" stroke-width="0.3"/>
<path d="M428.5 101.3L432 101.2L434.8 99.6L431.2 99.7Z" fill="#e00000" stroke="#e00000" stroke-width="0.3"/>
<path d="M364.5 108.8L367.8 109.1L370.8 108.6L367.5 108.4Z" fill="#ff6600" stroke="#ff6600" stroke-width="0.3"/>
<path d="M393.3 107.2L396.7 107.3L399.6 106.3L396.2 106.2Z" fill="#ff1a00" stroke="#ff1a00" stroke-width="0.3"/>
<path d="M422.1 102.8L425.7 102.8L428.5 101.3L424.9 101.4Z" fill="#ea0300" stroke="#ea0300" stroke-width="0.3"/>
<path d="M386.9 107.9L390.4 108.1L393.3 107.2L389.9 107.1Z" fill="#ff3700" stroke="#ff3700" stroke-width="0.3"/>
<path d="M415.8 104.2L419.3 104.2L422.1 102.8L418.6 102.8Z" fill="#f10900" stroke="#f10900" stroke-width="0.3"/>
<path d="M380.6 108.5L384 108.7L386.9 107.9L383.5 107.7Z" fill="#ff4f00" stroke="#ff4f00" stroke-width="0.3"/>
<path d="M409.5 105.4L413 105.4L415.8 104.2L412.3 104.1Z" fill="#f60d00" stroke="#f60d00" stroke-width="0.3"/>
<path d="M438.4 99.5L442 99.4L444.7 97.6L441.1 97.8Z" fill="#cc0000" stroke="#cc0000" stroke-width="0.3"/>
<path d="M374.2 108.9L377.6 109.1L380.6 108.5L377.2 108.3Z" fill="#ff6100" stroke="#ff6100" stroke-width="0.3"/>
<path d="M403.1 106.4L406.6 106.5L409.5 105.4L406 105.3Z" fill="#fb1100" stroke="#fb1100" stroke-width="0.3"/>
<path d="M432 101.2L435.7 101.1L438.4 99.5L434.8 99.6Z" fill="#de0000" stroke="#de0000" stroke-width="0.3"/>
<path d="M367.8 109.1L371.2 109.4L374.2 108.9L370.8 108.6Z" fill="#ff6d00" stroke="#ff6d00" stroke-width="0.3"/>
<path d="M396.7 107.3L400.2 107.5L403.1 106.4L399.6 106.3Z" fill="#ff1b00" stroke="#ff1b00" stroke-width="0.3"/>
<path d="M425.7 102.8L429.3 102.7L432 101.2L428.5 101.3Z" fill="#ea0300" stroke="#ea0300" stroke-width="0.3"/>
<path d="M361.4 109.2L364.7 109.6L367.8 109.1L364.5 108.8Z" fill="#ff7400" stroke="#ff7400" stroke-width="0.3"/>
<path d="M390.4 108.1L393.8 108.3L396.7 107.3L393.3 107.2Z" fill="#ff3a00" stroke="#ff3a00" stroke-width="0.3"/>
<path d="M419.3 104.2L422.9 104.2L425.7 102.8L422.1 102.8Z" fill="#f00800" stroke="#f00800" stroke-width="0.3"/>
<path d="M384 108.7L387.4 108.9L390.4 108.1L386.9 107.9Z" fill="#ff5300" stroke="#ff5300" stroke-width="0.3"/>
<path d="M413 105.4L416.5 105.5L419.3 104.2L415.8 104.2Z" fill="#f60d00" stroke="#f60d00" stroke-width="0.3"/>
<path d="M442 99.4L445.7 99.2L448.3 97.5L444.7 97.6Z" fill="#ca0000" stroke="#ca0000" stroke-width="0.3"/>
<path d="M377.6 109.1L381 109.4L384 108.7L380.6 108.5Z" fill="#ff6600" stroke="#ff6600" stroke-width="0.3"/>
<path d="M406.6 106.5L410.1 106.6L413 105.4L409.5 105.4Z" fill="#fb1100" stroke="#fb1100" stroke-width="0.3"/>
<path d="M435.7 101.1L439.3 101L442 99.4L438.4 99.5Z" fill="#dc0000" stroke="#dc0000" stroke-width="0.3"/>
<path d="M371.2 109.4L374.5 109.7L377.6 109.1L374.2 108.9Z" fill="#ff7400" stroke="#ff7400" stroke-width="0.3"/>
<path d="M400.2 107.5L403.7 107.6L406.6 106.5L403.1 106.4Z" fill="#ff1c00" stroke="#ff1c00" stroke-width="0.3"/>
<path d="M429.3 102.7L432.9 102.7L435.7 101.1L432 101.2Z" fill="#e90300" stroke="#e90300" stroke-width="0.3"/>
<path d="M364.7 109.6L368.1 109.9L371.2 109.4L367.8 109.1Z" fill="#ff7c00" stroke="#ff7c00" stroke-width="0.3"/>
<path d="M393.8 108.3L397.3 108.4L400.2 107.5L396.7 107.3Z" fill="#ff3c00" stroke="#ff3c00" stroke-width="0.3"/>
<path d="M422.9 104.2L426.5 104.2L429.3 102.7L425.7 102.8Z" fill="#f00800" stroke="#f00800" stroke-width="0.3"/>
<path d="M358.3 109.6L361.6 109.9L364.7 109.6L361.4 109.2Z" fill="#ff7e00" stroke="#ff7e00" stroke-width="0.3"/>
<path d="M387.4 108.9L390.9 109.1L393.8 108.3L390.4 108.1Z" fill="#ff5700" stroke="#ff5700" stroke-width="0.3"/>
<path d="M416.5 105.5L420.1 105.5L422.9 104.2L419.3 104.2Z" fill="#f60d00" stroke="#f60d00" stroke-width="0.3"/>
<path d="M445.7 99.2L449.4 99.1L452 97.3L448.3 97.5Z" fill="#c80000" stroke="#c80000" stroke-width="0.3"/>
<path d="M381 109.4L384.4 109.6L387.4 108.9L384 108.7Z" fill="#ff6c00" stroke="#ff6c00" stroke-width="0.3"/>
<path d="M410.1 106.6L413.7 106.7L416.5 105.5L413 105.4Z" fill="#fb1100" stroke="#fb1100" stroke-width="0.3"/>
<path d="M439.3 101L443 101L445.7 99.2L442 99.4Z" fill="#db0000" stroke="#db0000" stroke-width="0.3"/>
<path d="M374.5 109.7L378 110L381 109.4L377.6 109.1Z" fill="#ff7b00" stroke="#ff7b00" stroke-width="0.3"/>
<path d="M403.7 107.6L407.3 107.7L410.1 106.6L406.6 106.5Z" fill="#ff1d00" stroke="#ff1d00" stroke-width="0.3"/>
<path d="M432.9 102.7L436.6 102.6L439.3 101L435.7 101.1Z" fill="#e90200" stroke="#e90200" stroke-width="0.3"/>
<path d="M368.1 109.9L371.5 110.2L374.5 109.7L371.2 109.4Z" fill="#ff8400" stroke="#ff8400" stroke-width="0.3"/>
<path d="M397.3 108.4L400.8 108.6L403.7 107.6L400.2 107.5Z" fill="#ff3f00" stroke="#ff3f00" stroke-width="0.3"/>
<path d="M426.5 104.2L430.2 104.2L432.9 102.7L429.3 102.7Z" fill="#f00800" stroke="#f00800" stroke-width="0.3"/>
<path d="M361.6 109.9L365 110.3L368.1 109.9L364.7 109.6Z" fill="#ff8800" stroke="#ff8800" stroke-width="0.3"/>
<path d="M390.9 109.1L394.4 109.3L397.3 108.4L393.8 108.3Z" fill="#ff5b00" stroke="#ff5b00" stroke-width="0.3"/>
<path d="M420.1 105.5L423.7 105.6L426.5 104.2L422.9 104.2Z" fill="#f60d00" stroke="#f60d00" stroke-width="0.3"/>
<path d="M449.4 99.1L453.1 99L455.8 97.1L452 97.3Z" fill="#c60000" stroke="#c60000" stroke-width="0.3"/>
<path d="M355.2 109.8L358.5 110.2L361.6 109.9L358.3 109.6Z" fill="#ff8600" stroke="#ff8600" stroke-width="0.3"/>
<path d="M384.4 109.6L387.9 109.9L390.9 109.1L387.4 108.9Z" fill="#ff7100" stroke="#ff7100" stroke-width="0.3"/>
<path d="M413.7 106.7L417.3 106.8L420.1 105.5L416.5 105.5Z" fill="#fb1100" stroke="#fb1100" stroke-width="0.3"/>
<path d="M443 101L446.7 100.9L449.4 99.1L445.7 99.2Z" fill="#d90000" stroke="#d90000" stroke-width="0.3"/>
<path d="M378 110L381.4 110.3L384.4 109.6L381 109.4Z" fill="#ff8200" stroke="#ff8200" stroke-width="0.3"/>
<path d="M407.3 107.7L410.8 107.9L413.7 106.7L410.1 106.6Z" fill="#ff1e00" stroke="#ff1e00" stroke-width="0.3"/>
<path d="M436.6 102.6L440.3 102.6L443 101L439.3 101Z" fill="#e80200" stroke="#e80200" stroke-width="0.3"/>
<path d="M371.5 110.2L374.9 110.6L378 110L374.5 109.7Z" fill="#ff8d00" stroke="#ff8d00" stroke-width="0.3"/>
<path d="M400.8 108.6L404.4 108.8L407.3 107.7L403.7 107.6Z" fill="#ff4100" stroke="#ff4100" stroke-width="0.3"/>
<path d="M430.2 104.2L433.8 104.2L436.6 102.6L432.9 102.7Z" fill="#ef0700" stroke="#ef0700" stroke-width="0.3"/>
<path d="M365 110.3L368.4 110.7L371.5 110.2L368.1 109.9Z" fill="#ff9200" stroke="#ff9200" stroke-width="0.3"/>
<path d="M394.4 109.3L397.9 109.6L400.8 108.6L397.3 108.4Z" fill="#ff5f00" stroke="#ff5f00" stroke-width="0.3"/>
<path d="M423.7 105.6L427.4 105.6L430.2 104.2L426.5 104.2Z" fill="#f60c00" stroke="#f60c00" stroke-width="0.3"/>
<path d="M453.1 99L456.9 98.9L459.5 97L455.8 97.1Z" fill="#c40000" stroke="#c40000" stroke-width="0.3"/>
<path d="M358.5 110.2L361.9 110.6L365 110.3L361.6 109.9Z" fill="#ff9100" stroke="#ff9100" stroke-width="0.3"/>
<path d="M387.9 109.9L391.4 110.2L394.4 109.3L390.9 109.1Z" fill="#ff7700" stroke="#ff7700" stroke-width="0.3"/>
<path d="M417.3 106.8L420.9 106.9L423.7 105.6L420.1 105.5Z" fill="#fb1100" stroke="#fb1100" stroke-width="0.3"/>
<path d="M446.7 100.9L450.4 100.8L453.1 99L449.4 99.1Z" fill="#d80000" stroke="#d80000" stroke-width="0.3"/>
<path d="M352 110L355.4 110.4L358.5 110.2L355.2 109.8Z" fill="#fe8a00" stroke="#fe8a00" stroke-width="0.3"/>
<path d="M381.4 110.3L384.9 110.6L387.9 109.9L384.4 109.6Z" fill="#ff8900" stroke="#ff8900" stroke-width="0.3"/>
<path d="M410.8 107.9L414.4 108L417.3 106.8L413.7 106.7Z" fill="#ff1f00" stroke="#ff1f00" stroke-width="0.3"/>
<path d="M440.3 102.6L444 102.6L446.7 100.9L443 101Z" fill="#e80100" stroke="#e80100" stroke-width="0.3"/>
<path d="M374.9 110.6L378.4 110.9L381.4 110.3L378 110Z" fill="#ff9500" stroke="#ff9500" stroke-width="0.3"/>
<path d="M404.4 108.8L407.9 109L410.8 107.9L407.3 107.7Z" fill="#ff4400" stroke="#ff4400" stroke-width="0.3"/>
<path d="M433.8 104.2L437.5 104.2L440.3 102.6L436.6 102.6Z" fill="#ef0700" stroke="#ef0700" stroke-width="0.3"/>
<path d="M368.4 110.7L371.8 111.1L374.9 110.6L371.5 110.2Z" fill="#ff9b00" stroke="#ff9b00" stroke-width="0.3"/>
<path d="M397.9 109.6L401.4 109.8L404.4 108.8L400.8 108.6Z" fill="#ff6300" stroke="#ff6300" stroke-width="0.3"/>
<path d="M427.4 105.6L431 105.7L433.8 104.2L430.2 104.2Z" fill="#f50c00" stroke="#f50c00" stroke-width="0.3"/>
<path d="M456.9 98.9L460.7 98.7L463.3 96.8L459.5 97Z" fill="#c20000" stroke="#c20000" stroke-width="0.3"/>
<path d="M361.9 110.6L365.3 111.1L368.4 110.7L365 110.3Z" fill="#ff9c00" stroke="#ff9c00" stroke-width="0.3"/>
<path d="M391.4 110.2L394.9 110.4L397.9 109.6L394.4 109.3Z" fill="#ff7c00" stroke="#ff7c00" stroke-width="0.3"/>
<path d="M420.9 106.9L424.6 107L427.4 105.6L423.7 105.6Z" fill="#fb1100" stroke="#fb1100" stroke-width="0.3"/>
<path d="M450.4 100.8L454.2 100.7L456.9 98.9L453.1 99Z" fill="#d60000" stroke="#d60000" stroke-width="0.3"/>
<path d="M355.4 110.4L358.7 110.9L361.9 110.6L358.5 110.2Z" fill="#ff9700" stroke="#ff9700" stroke-width="0.3"/>
<path d="M384.9 110.6L388.4 110.9L391.4 110.2L387.9 109.9Z" fill="#ff8f00" stroke="#ff8f00" stroke-width="0.3"/>
<path d="M414.4 108L418.1 108.1L420.9 106.9L417.3 106.8Z" fill="#ff2100" stroke="#ff2100" stroke-width="0.3"/>
<path d="M444 102.6L447.7 102.5L450.4 100.8L446.7 100.9Z" fill="#e70100" stroke="#e70100" stroke-width="0.3"/>
<path d="M348.8 110.1L352.2 110.6L355.4 110.4L352 110Z" fill="#fa8a00" stroke="#fa8a00" stroke-width="0.3"/>
<path d="M378.4 110.9L381.8 111.3L384.9 110.6L381.4 110.3Z" fill="#ff9c00" stroke="#ff9c00" stroke-width="0.3"/>
<path d="M407.9 109L411.5 109.1L414.4 108L410.8 107.9Z" fill="#ff4700" stroke="#ff4700" stroke-width="0.3"/>
<path d="M437.5 104.2L441.2 104.2L444 102.6L440.3 102.6Z" fill="#ee0700" stroke="#ee0700" stroke-width="0.3"/>
<path d="M371.8 111.1L375.3 111.5L378.4 110.9L374.9 110.6Z" fill="#ffa400" stroke="#ffa400" stroke-width="0.3"/>
<path d="M401.4 109.8L405 110L407.9 109L404.4 108.8Z" fill="#ff6700" stroke="#ff6700" stroke-width="0.3"/>
<path d="M431 105.7L434.7 105.7L437.5 104.2L433.8 104.2Z" fill="#f50c00" stroke="#f50c00" stroke-width="0.3"/>
<path d="M460.7 98.7L464.5 98.6L467.1 96.6L463.3 96.8Z" fill="#c00000" stroke="#c00000" stroke-width="0.3"/>
<path d="M365.3 111.1L368.7 111.5L371.8 111.1L368.4 110.7Z" fill="#ffa600" stroke="#ffa600" stroke-width="0.3"/>
<path d="M394.9 110.4L398.5 110.7L401.4 109.8L397.9 109.6Z" fill="#ff8100" stroke="#ff8100" stroke-width="0.3"/>
<path d="M424.6 107L428.2 107.1L431 105.7L427.4 105.6Z" fill="#fb1100" stroke="#fb1100" stroke-width="0.3"/>
<path d="M454.2 100.7L458 100.6L460.7 98.7L456.9 98.9Z" fill="#d50000" stroke="#d50000" stroke-width="0.3"/>
<path d="M358.7 110.9L362.2 111.4L365.3 111.1L361.9 110.6Z" fill="#ffa300" stroke="#ffa300" stroke-width="0.3"/>
<path d="M388.4 110.9L391.9 111.2L394.9 110.4L391.4 110.2Z" fill="#ff9600" stroke="#ff9600" stroke-width="0.3"/>
<path d="M418.1 108.1L421.7 108.3L424.6 107L420.9 106.9Z" fill="#ff2200" stroke="#ff2200" stroke-width="0.3"/>
<path d="M447.7 102.5L451.5 102.5L454.2 100.7L450.4 100.8Z" fill="#e60000" stroke="#e60000" stroke-width="0.3"/>
<path d="M352.2 110.6L355.6 111.1L358.7 110.9L355.4 110.4Z" fill="#fe9900" stroke="#fe9900" stroke-width="0.3"/>
<path d="M381.8 111.3L385.4 111.6L388.4 110.9L384.9 110.6Z" fill="#ffa400" stroke="#ffa400" stroke-width="0.3"/>
<path d="M411.5 109.1L415.2 109.3L418.1 108.1L414.4 108Z" fill="#ff4900" stroke="#ff4900" stroke-width="0.3"/>
<path d="M441.2 104.2L445 104.2L447.7 102.5L444 102.6Z" fill="#ee0600" stroke="#ee0600" stroke-width="0.3"/>
<path d="M345.6 110.1L349 110.6L352.2 110.6L348.8 110.1Z" fill="#f58700" stroke="#f58700" stroke-width="0.3"/>
<path d="M375.3 111.5L378.8 111.8L381.8 111.3L378.4 110.9Z" fill="#ffad00" stroke="#ffad00" stroke-width="0.3"/>
<path d="M405 110L408.6 110.2L411.5 109.1L407.9 109Z" fill="#ff6b00" stroke="#ff6b00" stroke-width="0.3"/>
<path d="M434.7 105.7L438.5 105.8L441.2 104.2L437.5 104.2Z" fill="#f50c00" stroke="#f50c00" stroke-width="0.3"/>
<path d="M464.5 98.6L468.3 98.5L471 96.4L467.1 96.6Z" fill="#be0000" stroke="#be0000" stroke-width="0.3"/>
<path d="M368.7 111.5L372.2 111.9L375.3 111.5L371.8 111.1Z" fill="#ffb100" stroke="#ffb100" stroke-width="0.3"/>
<path d="M398.5 110.7L402.1 111L405 110L401.4 109.8Z" fill="#ff8700" stroke="#ff8700" stroke-width="0.3"/>
<path d="M428.2 107.1L431.9 107.2L434.7 105.7L431 105.7Z" fill="#fb1100" stroke="#fb1100" stroke-width="0.3"/>
<path d="M458 100.6L461.8 100.5L464.5 98.6L460.7 98.7Z" fill="#d30000" stroke="#d30000" stroke-width="0.3"/>
<path d="M362.2 111.4L365.6 111.8L368.7 111.5L365.3 111.1Z" fill="#ffaf00" stroke="#ffaf00" stroke-width="0.3"/>
<path d="M391.9 111.2L395.5 111.5L398.5 110.7L394.9 110.4Z" fill="#ff9c00" stroke="#ff9c00" stroke-width="0.3"/>
<path d="M421.7 108.3L425.4 108.4L428.2 107.1L424.6 107Z" fill="#ff2300" stroke="#ff2300" stroke-width="0.3"/>
<path d="M451.5 102.5L455.3 102.5L458 100.6L454.2 100.7Z" fill="#e60000" stroke="#e60000" stroke-width="0.3"/>
<path d="M355.6 111.1L359 111.6L362.2 111.4L358.7 110.9Z" fill="#ffa700" stroke="#ffa700" stroke-width="0.3"/>
<path d="M385.4 111.6L388.9 112L391.9 111.2L388.4 110.9Z" fill="#ffac00" stroke="#ffac00" stroke-width="0.3"/>
<path d="M415.2 109.3L418.8 109.5L421.7 108.3L418.1 108.1Z" fill="#ff4c00" stroke="#ff4c00" stroke-width="0.3"/>
<path d="M445 104.2L448.8 104.2L451.5 102.5L447.7 102.5Z" fill="#ee0600" stroke="#ee0600" stroke-width="0.3"/>
<path d="M349 110.6L352.3 111.2L355.6 111.1L352.2 110.6Z" fill="#fa9700" stroke="#fa9700" stroke-width="0.3"/>
<path d="M378.8 111.8L382.3 112.2L385.4 111.6L381.8 111.3Z" fill="#ffb700" stroke="#ffb700" stroke-width="0.3"/>
<path d="M408.6 110.2L412.3 110.5L415.2 109.3L411.5 109.1Z" fill="#ff6f00" stroke="#ff6f00" stroke-width="0.3"/>
<path d="M438.5 105.8L442.2 105.8L445 104.2L441.2 104.2Z" fill="#f50c00" stroke="#f50c00" stroke-width="0.3"/>
<path d="M468.3 98.5L472.2 98.3L474.8 96.2L471 96.4Z" fill="#bd0000" stroke="#bd0000" stroke-width="0.3"/>
<path d="M342.3 110L345.7 110.6L349 110.6L345.6 110.1Z" fill="#f18100" stroke="#f18100" stroke-width="0.3"/>
<path d="M372.2 111.9L375.7 112.3L378.8 111.8L375.3 111.5Z" fill="#ffbc00" stroke="#ffbc00" stroke-width="0.3"/>
<path d="M402.1 111L405.7 111.2L408.6 110.2L405 110Z" fill="#ff8c00" stroke="#ff8c00" stroke-width="0.3"/>
<path d="M431.9 107.2L435.7 107.3L438.5 105.8L434.7 105.7Z" fill="#fb1100" stroke="#fb1100" stroke-width="0.3"/>
<path d="M461.8 100.5L465.7 100.4L468.3 98.5L464.5 98.6Z" fill="#d10000" stroke="#d10000" stroke-width="0.3"/>
<path d="M365.6 111.8L369.1 112.3L372.2 111.9L368.7 111.5Z" fill="#ffbb00" stroke="#ffbb00" stroke-width="0.3"/>
<path d="M395.5 111.5L399.1 111.9L402.1 111L398.5 110.7Z" fill="#ffa300" stroke="#ffa300" stroke-width="0.3"/>
<path d="M425.4 108.4L429.1 108.6L431.9 107.2L428.2 107.1Z" fill="#ff2400" stroke="#ff2400" stroke-width="0.3"/>
<path d="M455.3 102.5L459.1 102.4L461.8 100.5L458 100.6Z" fill="#e50000" stroke="#e50000" stroke-width="0.3"/>
<path d="M359 111.6L362.4 112.1L365.6 111.8L362.2 111.4Z" fill="#ffb500" stroke="#ffb500" stroke-width="0.3"/>
<path d="M388.9 112L392.5 112.3L395.5 111.5L391.9 111.2Z" fill="#ffb400" stroke="#ffb400" stroke-width="0.3"/>
<path d="M418.8 109.5L422.5 109.7L425.4 108.4L421.7 108.3Z" fill="#ff4e00" stroke="#ff4e00" stroke-width="0.3"/>
<path d="M448.8 104.2L452.6 104.2L455.3 102.5L451.5 102.5Z" fill="#ed0600" stroke="#ed0600" stroke-width="0.3"/>
<path d="M352.3 111.2L355.8 111.7L359 111.6L355.6 111.1Z" fill="#fea800" stroke="#fea800" stroke-width="0.3"/>
<path d="M382.3 112.2L385.8 112.6L388.9 112L385.4 111.6Z" fill="#ffc000" stroke="#ffc000" stroke-width="0.3"/>
<path d="M412.3 110.5L415.9 110.7L418.8 109.5L415.2 109.3Z" fill="#ff7300" stroke="#ff7300" stroke-width="0.3"/>
<path d="M442.2 105.8L446 105.9L448.8 104.2L445 104.2Z" fill="#f50c00" stroke="#f50c00" stroke-width="0.3"/>
<path d="M472.2 98.3L476.1 98.2L478.7 96.1L474.8 96.2Z" fill="#bb0000" stroke="#bb0000" stroke-width="0.3"/>
<path d="M345.7 110.6L349.1 111.2L352.3 111.2L349 110.6Z" fill="#f69200" stroke="#f69200" stroke-width="0.3"/>
<path d="M375.7 112.3L379.2 112.8L382.3 112.2L378.8 111.8Z" fill="#ffc600" stroke="#ffc600" stroke-width="0.3"/>
<path d="M405.7 111.2L409.3 111.5L412.3 110.5L408.6 110.2Z" fill="#ff9200" stroke="#ff9200" stroke-width="0.3"/>
<path d="M435.7 107.3L439.4 107.4L442.2 105.8L438.5 105.8Z" fill="#fb1100" stroke="#fb1100" stroke-width="0.3"/>
<path d="M465.7 100.4L469.6 100.4L472.2 98.3L468.3 98.5Z" fill="#d00000" stroke="#d00000" stroke-width="0.3"/>
<path d="M339 109.9L342.4 110.5L345.7 110.6L342.3 110Z" fill="#ed7800" stroke="#ed7800" stroke-width="0.3"/>
<path d="M369.1 112.3L372.5 112.8L375.7 112.3L372.2 111.9Z" fill="#ffc700" stroke="#ffc700" stroke-width="0.3"/>
<path d="M399.1 111.9L402.7 112.2L405.7 111.2L402.1 111Z" fill="#ffaa00" stroke="#ffaa00" stroke-width="0.3"/>
<path d="M429.1 108.6L432.8 108.7L435.7 107.3L431.9 107.2Z" fill="#ff2500" stroke="#ff2500" stroke-width="0.3"/>
<path d="M459.1 102.4L463 102.4L465.7 100.4L461.8 100.5Z" fill="#e30000" stroke="#e30000" stroke-width="0.3"/>
<path d="M362.4 112.1L365.9 112.6L369.1 112.3L365.6 111.8Z" fill="#ffc200" stroke="#ffc200" stroke-width="0.3"/>
<path d="M392.5 112.3L396.1 112.7L399.1 111.9L395.5 111.5Z" fill="#ffbc00" stroke="#ffbc00" stroke-width="0.3"/>
<path d="M422.5 109.7L426.2 109.9L429.1 108.6L425.4 108.4Z" fill="#ff5100" stroke="#ff5100" stroke-width="0.3"/>
<path d="M452.6 104.2L456.4 104.2L459.1 102.4L455.3 102.5Z" fill="#ed0600" stroke="#ed0600" stroke-width="0.3"/>
<path d="M355.8 111.7L359.2 112.3L362.4 112.1L359 111.6Z" fill="#ffb800" stroke="#ffb800" stroke-width="0.3"/>
<path d="M385.8 112.6L389.4 113L392.5 112.3L388.9 112Z" fill="#ffc900" stroke="#ffc900" stroke-width="0.3"/>
<path d="M415.9 110.7L419.6 110.9L422.5 109.7L418.8 109.5Z" fill="#ff7700" stroke="#ff7700" stroke-width="0.3"/>
<path d="M446 105.9L449.8 105.9L452.6 104.2L448.8 104.2Z" fill="#f40c00" stroke="#f40c00" stroke-width="0.3"/>
<path d="M476.1 98.2L480.1 98.1L482.7 95.9L478.7 96.1Z" fill="#b90000" stroke="#b90000" stroke-width="0.3"/>
<path d="M349.1 111.2L352.5 111.8L355.8 111.7L352.3 111.2Z" fill="#faa400" stroke="#faa400" stroke-width="0.3"/>
<path d="M379.2 112.8L382.7 113.2L385.8 112.6L382.3 112.2Z" fill="#ffd100" stroke="#ffd100" stroke-width="0.3"/>
<path d="M409.3 111.5L413 111.8L415.9 110.7L412.3 110.5Z" fill="#ff9700" stroke="#ff9700" stroke-width="0.3"/>
<path d="M439.4 107.4L443.2 107.5L446 105.9L442.2 105.8Z" fill="#fb1100" stroke="#fb1100" stroke-width="0.3"/>
<path d="M469.6 100.4L473.5 100.3L476.1 98.2L472.2 98.3Z" fill="#ce0000" stroke="#ce0000" stroke-width="0.3"/>
<path d="M342.4 110.5L345.8 111.1L349.1 111.2L345.7 110.6Z" fill="#f28b00" stroke="#f28b00" stroke-width="0.3"/>
<path d="M372.5 112.8L376.1 113.2L379.2 112.8L375.7 112.3Z" fill="#ffd300" stroke="#ffd300" stroke-width="0.3"/>
<path d="M402.7 112.2L406.3 112.5L409.3 111.5L405.7 111.2Z" fill="#ffb000" stroke="#ffb000" stroke-width="0.3"/>
<path d="M432.8 108.7L436.6 108.9L439.4 107.4L435.7 107.3Z" fill="#ff2600" stroke="#ff2600" stroke-width="0.3"/>
<path d="M463 102.4L466.9 102.3L469.6 100.4L465.7 100.4Z" fill="#e20000" stroke="#e20000" stroke-width="0.3"/>
<path d="M335.7 109.6L339.1 110.3L342.4 110.5L339 109.9Z" fill="#e96d00" stroke="#e96d00" stroke-width="0.3"/>
<path d="M365.9 112.6L369.4 113.1L372.5 112.8L369.1 112.3Z" fill="#ffcf00" stroke="#ffcf00" stroke-width="0.3"/>
<path d="M396.1 112.7L399.7 113L402.7 112.2L399.1 111.9Z" fill="#ffc400" stroke="#ffc400" stroke-width="0.3"/>
<path d="M426.2 109.9L430 110.1L432.8 108.7L429.1 108.6Z" fill="#ff5300" stroke="#ff5300" stroke-width="0.3"/>
<path d="M456.4 104.2L460.3 104.2L463 102.4L459.1 102.4Z" fill="#ed0500" stroke="#ed0500" stroke-width="0.3"/>
<path d="M359.2 112.3L362.7 112.8L365.9 112.6L362.4 112.1Z" fill="#ffc700" stroke="#ffc700" stroke-width="0.3"/>
<path d="M389.4 113L393 113.4L396.1 112.7L392.5 112.3Z" fill="#ffd200" stroke="#ffd200" stroke-width="0.3"/>
<path d="M419.6 110.9L423.3 111.2L426.2 109.9L422.5 109.7Z" fill="#ff7b00" stroke="#ff7b00" stroke-width="0.3"/>
<path d="M449.8 105.9L453.7 106L456.4 104.2L452.6 104.2Z" fill="#f40b00" stroke="#f40b00" stroke-width="0.3"/>
<path d="M480.1 98.1L484.1 97.9L486.7 95.7L482.7 95.9Z" fill="#b70000" stroke="#b70000" stroke-width="0.3"/>
<path d="M352.5 111.8L356 112.4L359.2 112.3L355.8 111.7Z" fill="#feb700" stroke="#feb700" stroke-width="0.3"/>
<path d="M382.7 113.2L386.3 113.7L389.4 113L385.8 112.6Z" fill="#ffdb00" stroke="#ffdb00" stroke-width="0.3"/>
<path d="M413 111.8L416.7 112.1L419.6 110.9L415.9 110.7Z" fill="#ff9c00" stroke="#ff9c00" stroke-width="0.3"/>
<path d="M443.2 107.5L447.1 107.6L449.8 105.9L446 105.9Z" fill="#fb1100" stroke="#fb1100" stroke-width="0.3"/>
<path d="M473.5 100.3L477.5 100.2L480.1 98.1L476.1 98.2Z" fill="#cd0000" stroke="#cd0000" stroke-width="0.3"/>
<path d="M345.8 111.1L349.2 111.8L352.5 111.8L349.1 111.2Z" fill="#f69e00" stroke="#f69e00" stroke-width="0.3"/>
<path d="M376.1 113.2L379.6 113.7L382.7 113.2L379.2 112.8Z" fill="#ffdf00" stroke="#ffdf00" stroke-width="0.3"/>
<path d="M406.3 112.5L410 112.8L413 111.8L409.3 111.5Z" fill="#ffb700" stroke="#ffb700" stroke-width="0.3"/>
<path d="M436.6 108.9L440.4 109L443.2 107.5L439.4 107.4Z" fill="#ff2800" stroke="#ff2800" stroke-width="0.3"/>
<path d="M466.9 102.3L470.9 102.3L473.5 100.3L469.6 100.4Z" fill="#e10000" stroke="#e10000" stroke-width="0.3"/>
<path d="M339.1 110.3L342.5 111L345.8 111.1L342.4 110.5Z" fill="#ee8100" stroke="#ee8100" stroke-width="0.3"/>
<path d="M369.4 113.1L372.9 113.6L376.1 113.2L372.5 112.8Z" fill="#ffdd00" stroke="#ffdd00" stroke-width="0.3"/>
<path d="M399.7 113L403.3 113.4L406.3 112.5L402.7 112.2Z" fill="#ffcc00" stroke="#ffcc00" stroke-width="0.3"/>
<path d="M430 110.1L433.8 110.3L436.6 108.9L432.8 108.7Z" fill="#ff5600" stroke="#ff5600" stroke-width="0.3"/>
<path d="M460.3 104.2L464.2 104.2L466.9 102.3L463 102.4Z" fill="#ec0500" stroke="#ec0500" stroke-width="0.3"/>
<path d="M332.4 109.3L335.7 110L339.1 110.3L335.7 109.6Z" fill="#e66000" stroke="#e66000" stroke-width="0.3"/>
<path d="M362.7 112.8L366.2 113.4L369.4 113.1L365.9 112.6Z" fill="#ffd500" stroke="#ffd500" stroke-width="0.3"/>
<path d="M393 113.4L396.6 113.8L399.7 113L396.1 112.7Z" fill="#ffdc00" stroke="#ffdc00" stroke-width="0.3"/>
<path d="M423.3 111.2L427.1 111.4L430 110.1L426.2 109.9Z" fill="#ff7f00" stroke="#ff7f00" stroke-width="0.3"/>
<path d="M453.7 106L457.6 106L460.3 104.2L456.4 104.2Z" fill="#f40b00" stroke="#f40b00" stroke-width="0.3"/>
<path d="M484.1 97.9L488.1 97.8L490.7 95.5L486.7 95.7Z" fill="#b50000" stroke="#b50000" stroke-width="0.3"/>
<path d="M356 112.4L359.4 113L362.7 112.8L359.2 112.3Z" fill="#ffc800" stroke="#ffc800" stroke-width="0.3"/>
<path d="M386.3 113.7L389.9 114.1L393 113.4L389.4 113Z" fill="#ffe600" stroke="#ffe600" stroke-width="0.3"/>
<path d="M416.7 112.1L420.4 112.3L423.3 111.2L419.6 110.9Z" fill="#ffa100" stroke="#ffa100" stroke-width="0.3"/>
<path d="M447.1 107.6L450.9 107.7L453.7 106L449.8 105.9Z" fill="#fb1100" stroke="#fb1100" stroke-width="0.3"/>
<path d="M477.5 100.2L481.5 100.1L484.1 97.9L480.1 98.1Z" fill="#cb0000" stroke="#cb0000" stroke-width="0.3"/>
<path d="M349.2 111.8L352.7 112.4L356 112.4L352.5 111.8Z" fill="#fab200" stroke="#fab200" stroke-width="0.3"/>
<path d="M379.6 113.7L383.2 114.2L386.3 113.7L382.7 113.2Z" fill="#ffeb00" stroke="#ffeb00" stroke-width="0.3"/>
<path d="M410 112.8L413.7 113.1L416.7 112.1L413 111.8Z" fill="#ffbd00" stroke="#ffbd00" stroke-width="0.3"/>
<path d="M440.4 109L444.3 109.1L447.1 107.6L443.2 107.5Z" fill="#ff2900" stroke="#ff2900" stroke-width="0.3"/>
<path d="M470.9 102.3L474.8 102.2L477.5 100.2L473.5 100.3Z" fill="#e00000" stroke="#e00000" stroke-width="0.3"/>
<path d="M342.5 111L345.9 111.7L349.2 111.8L345.8 111.1Z" fill="#f29600" stroke="#f29600" stroke-width="0.3"/>
<path d="M372.9 113.6L376.5 114.2L379.6 113.7L376.1 113.2Z" fill="#ffea00" stroke="#ffea00" stroke-width="0.3"/>
<path d="M403.3 113.4L407 113.8L410 112.8L406.3 112.5Z" fill="#ffd400" stroke="#ffd400" stroke-width="0.3"/>
<path d="M433.8 110.3L437.6 110.5L440.4 109L436.6 108.9Z" fill="#ff5900" stroke="#ff5900" stroke-width="0.3"/>
<path d="M464.2 104.2L468.2 104.2L470.9 102.3L466.9 102.3Z" fill="#ec0500" stroke="#ec0500" stroke-width="0.3"/>
<path d="M335.7 110L339.1 110.7L342.5 111L339.1 110.3Z" fill="#ea7500" stroke="#ea7500" stroke-width="0.3"/>
<path d="M366.2 113.4L369.7 114L372.9 113.6L369.4 113.1Z" fill="#ffe400" stroke="#ffe400" stroke-width="0.3"/>
<path d="M396.6 113.8L400.3 114.2L403.3 113.4L399.7 113Z" fill="#ffe500" stroke="#ffe500" stroke-width="0.3"/>
<path d="M427.1 111.4L430.9 111.6L433.8 110.3L430 110.1Z" fill="#ff8300" stroke="#ff8300" stroke-width="0.3"/>
<path d="M457.6 106L461.5 106.1L464.2 104.2L460.3 104.2Z" fill="#f40b00" stroke="#f40b00" stroke-width="0.3"/>
<path d="M329 108.9L332.4 109.7L335.7 110L332.4 109.3Z" fill="#e25000" stroke="#e25000" stroke-width="0.3"/>
<path d="M488.1 97.8L492.1 97.6L494.7 95.3L490.7 95.5Z" fill="#b30000" stroke="#b30000" stroke-width="0.3"/>
<path d="M359.4 113L363 113.6L366.2 113.4L362.7 112.8Z" fill="#ffd800" stroke="#ffd800" stroke-width="0.3"/>
<path d="M389.9 114.1L393.6 114.6L396.6 113.8L393 113.4Z" fill="#fff100" stroke="#fff100" stroke-width="0.3"/>
<path d="M420.4 112.3L424.2 112.6L427.1 111.4L423.3 111.2Z" fill="#ffa600" stroke="#ffa600" stroke-width="0.3"/>
<path d="M450.9 107.7L454.8 107.8L457.6 106L453.7 106Z" fill="#fb1100" stroke="#fb1100" stroke-width="0.3"/>
<path d="M481.5 100.1L485.5 100L488.1 97.8L484.1 97.9Z" fill="#c90000" stroke="#c90000" stroke-width="0.3"/>
<path d="M352.7 112.4L356.2 113L359.4 113L356 112.4Z" fill="#fec600" stroke="#fec600" stroke-width="0.3"/>
<path d="M383.2 114.2L386.8 114.7L389.9 114.1L386.3 113.7Z" fill="#fff700" stroke="#fff700" stroke-width="0.3"/>
<path d="M413.7 113.1L417.5 113.5L420.4 112.3L416.7 112.1Z" fill="#ffc400" stroke="#ffc400" stroke-width="0.3"/>
<path d="M444.3 109.1L448.1 109.3L450.9 107.7L447.1 107.6Z" fill="#ff2a00" stroke="#ff2a00" stroke-width="0.3"/>
<path d="M474.8 102.2L478.8 102.2L481.5 100.1L477.5 100.2Z" fill="#df0000" stroke="#df0000" stroke-width="0.3"/>
<path d="M345.9 111.7L349.4 112.3L352.7 112.4L349.2 111.8Z" fill="#f6ab00" stroke="#f6ab00" stroke-width="0.3"/>
<path d="M376.5 114.2L380.1 114.7L383.2 114.2L379.6 113.7Z" fill="#fff800" stroke="#fff800" stroke-width="0.3"/>
<path d="M407 113.8L410.7 114.1L413.7 113.1L410 112.8Z" fill="#ffdc00" stroke="#ffdc00" stroke-width="0.3"/>
<path d="M437.6 110.5L441.4 110.7L444.3 109.1L440.4 109Z" fill="#ff5b00" stroke="#ff5b00" stroke-width="0.3"/>
<path d="M468.2 104.2L472.2 104.3L474.8 102.2L470.9 102.3Z" fill="#eb0400" stroke="#eb0400" stroke-width="0.3"/>
<path d="M339.1 110.7L342.6 111.5L345.9 111.7L342.5 111Z" fill="#ee8a00" stroke="#ee8a00" stroke-width="0.3"/>
<path d="M369.7 114L373.3 114.5L376.5 114.2L372.9 113.6Z" fill="#fff300" stroke="#fff300" stroke-width="0.3"/>
<path d="M400.3 114.2L404 114.7L407 113.8L403.3 113.4Z" fill="#ffee00" stroke="#ffee00" stroke-width="0.3"/>
<path d="M430.9 111.6L434.7 111.9L437.6 110.5L433.8 110.3Z" fill="#ff8700" stroke="#ff8700" stroke-width="0.3"/>
<path d="M461.5 106.1L465.5 106.1L468.2 104.2L464.2 104.2Z" fill="#f40b00" stroke="#f40b00" stroke-width="0.3"/>
<path d="M332.4 109.7L335.8 110.4L339.1 110.7L335.7 110Z" fill="#e66600" stroke="#e66600" stroke-width="0.3"/>
<path d="M492.1 97.6L496.2 97.5L498.8 95.1L494.7 95.3Z" fill="#b10000" stroke="#b10000" stroke-width="0.3"/>
<path d="M363 113.6L366.5 114.2L369.7 114L366.2 113.4Z" fill="#ffe800" stroke="#ffe800" stroke-width="0.3"/>
<path d="M393.6 114.6L397.2 115L400.3 114.2L396.6 113.8Z" fill="#fffb00" stroke="#fffb00" stroke-width="0.3"/>
<path d="M424.2 112.6L428 112.9L430.9 111.6L427.1 111.4Z" fill="#ffab00" stroke="#ffab00" stroke-width="0.3"/>
<path d="M454.8 107.8L458.8 107.9L461.5 106.1L457.6 106Z" fill="#fb1100" stroke="#fb1100" stroke-width="0.3"/>
<path d="M325.6 108.4L328.9 109.2L332.4 109.7L329 108.9Z" fill="#de3f00" stroke="#de3f00" stroke-width="0.3"/>
<path d="M485.5 100L489.5 99.9L492.1 97.6L488.1 97.8Z" fill="#c80000" stroke="#c80000" stroke-width="0.3"/>
<path d="M356.2 113L359.7 113.7L363 113.6L359.4 113Z" fill="#ffd900" stroke="#ffd900" stroke-width="0.3"/>
<path d="M386.8 114.7L390.5 115.2L393.6 114.6L389.9 114.1Z" fill="#fdff00" stroke="#fdff00" stroke-width="0.3"/>
<path d="M417.5 113.5L421.2 113.8L424.2 112.6L420.4 112.3Z" fill="#ffca00" stroke="#ffca00" stroke-width="0.3"/>
<path d="M448.1 109.3L452 109.4L454.8 107.8L450.9 107.7Z" fill="#ff2b00" stroke="#ff2b00" stroke-width="0.3"/>
<path d="M478.8 102.2L482.9 102.2L485.5 100L481.5 100.1Z" fill="#dd0000" stroke="#dd0000" stroke-width="0.3"/>
<path d="M349.4 112.3L352.9 113L356.2 113L352.7 112.4Z" fill="#fabf00" stroke="#fabf00" stroke-width="0.3"/>
<path d="M380.1 114.7L383.7 115.2L386.8 114.7L383.2 114.2Z" fill="#fcff00" stroke="#fcff00" stroke-width="0.3"/>
<path d="M410.7 114.1L414.5 114.5L417.5 113.5L413.7 113.1Z" fill="#ffe400" stroke="#ffe400" stroke-width="0.3"/>
<path d="M441.4 110.7L445.3 110.9L448.1 109.3L444.3 109.1Z" fill="#ff5e00" stroke="#ff5e00" stroke-width="0.3"/>
<path d="M472.2 104.3L476.2 104.3L478.8 102.2L474.8 102.2Z" fill="#eb0400" stroke="#eb0400" stroke-width="0.3"/>
<path d="M342.6 111.5L346 112.2L349.4 112.3L345.9 111.7Z" fill="#f2a000" stroke="#f2a000" stroke-width="0.3"/>
<path d="M373.3 114.5L376.9 115.1L380.1 114.7L376.5 114.2Z" fill="#feff00" stroke="#feff00" stroke-width="0.3"/>
<path d="M404 114.7L407.7 115.1L410.7 114.1L407 113.8Z" fill="#fff800" stroke="#fff800" stroke-width="0.3"/>
<path d="M434.7 111.9L438.6 112.1L441.4 110.7L437.6 110.5Z" fill="#ff8b00" stroke="#ff8b00" stroke-width="0.3"/>
<path d="M465.5 106.1L469.5 106.2L472.2 104.3L468.2 104.2Z" fill="#f30b00" stroke="#f30b00" stroke-width="0.3"/>
<path d="M335.8 110.4L339.2 111.2L342.6 111.5L339.1 110.7Z" fill="#ea7c00" stroke="#ea7c00" stroke-width="0.3"/>
<path d="M496.2 97.5L500.3 97.4L502.9 94.9L498.8 95.1Z" fill="#af0000" stroke="#af0000" stroke-width="0.3"/>
<path d="M366.5 114.2L370.1 114.8L373.3 114.5L369.7 114Z" fill="#fff800" stroke="#fff800" stroke-width="0.3"/>
<path d="M397.2 115L400.9 115.5L404 114.7L400.3 114.2Z" fill="#fbff00" stroke="#fbff00" stroke-width="0.3"/>
<path d="M428 112.9L431.8 113.2L434.7 111.9L430.9 111.6Z" fill="#ffb100" stroke="#ffb100" stroke-width="0.3"/>
<path d="M458.8 107.9L462.7 108L465.5 106.1L461.5 106.1Z" fill="#fb1100" stroke="#fb1100" stroke-width="0.3"/>
<path d="M328.9 109.2L332.3 110L335.8 110.4L332.4 109.7Z" fill="#e25600" stroke="#e25600" stroke-width="0.3"/>
<path d="M489.5 99.9L493.6 99.8L496.2 97.5L492.1 97.6Z" fill="#c60000" stroke="#c60000" stroke-width="0.3"/>
<path d="M359.7 113.7L363.2 114.3L366.5 114.2L363 113.6Z" fill="#ffea00" stroke="#ffea00" stroke-width="0.3"/>
<path d="M390.5 115.2L394.1 115.7L397.2 115L393.6 114.6Z" fill="#f6ff00" stroke="#f6ff00" stroke-width="0.3"/>
<path d="M421.2 113.8L425.1 114.1L428 112.9L424.2 112.6Z" fill="#ffd100" stroke="#ffd100" stroke-width="0.3"/>
<path d="M452 109.4L456 109.6L458.8 107.9L454.8 107.8Z" fill="#ff2c00" stroke="#ff2c00" stroke-width="0.3"/>
<path d="M322.1 107.9L325.5 108.7L328.9 109.2L325.6 108.4Z" fill="#da2c00" stroke="#da2c00" stroke-width="0.3"/>
<path d="M482.9 102.2L486.9 102.1L489.5 99.9L485.5 100Z" fill="#dc0000" stroke="#dc0000" stroke-width="0.3"/>
<path d="M352.9 113L356.4 113.7L359.7 113.7L356.2 113Z" fill="#ffd600" stroke="#ffd600" stroke-width="0.3"/>
<path d="M383.7 115.2L387.3 115.8L390.5 115.2L386.8 114.7Z" fill="#f4ff00" stroke="#f4ff00" stroke-width="0.3"/>
<path d="M414.5 114.5L418.3 114.9L421.2 113.8L417.5 113.5Z" fill="#ffec00" stroke="#ffec00" stroke-width="0.3"/>
<path d="M445.3 110.9L449.2 111.1L452 109.4L448.1 109.3Z" fill="#ff6000" stroke="#ff6000" stroke-width="0.3"/>
<path d="M476.2 104.3L480.2 104.3L482.9 102.2L478.8 102.2Z" fill="#eb0400" stroke="#eb0400" stroke-width="0.3"/>
<path d="M346 112.2L349.5 112.9L352.9 113L349.4 112.3Z" fill="#f6b600" stroke="#f6b600" stroke-width="0.3"/>
<path d="M376.9 115.1L380.5 115.7L383.7 115.2L380.1 114.7Z" fill="#f5ff00" stroke="#f5ff00" stroke-width="0.3"/>
<path d="M407.7 115.1L411.5 115.5L414.5 114.5L410.7 114.1Z" fill="#feff00" stroke="#feff00" stroke-width="0.3"/>
<path d="M438.6 112.1L442.5 112.4L445.3 110.9L441.4 110.7Z" fill="#ff8f00" stroke="#ff8f00" stroke-width="0.3"/>
<path d="M469.5 106.2L473.5 106.3L476.2 104.3L472.2 104.3Z" fill="#f30b00" stroke="#f30b00" stroke-width="0.3"/>
<path d="M339.2 111.2L342.7 112L346 112.2L342.6 111.5Z" fill="#ee9300" stroke="#ee9300" stroke-width="0.3"/>
<path d="M500.3 97.4L504.5 97.2L507 94.7L502.9 94.9Z" fill="#ad0000" stroke="#ad0000" stroke-width="0.3"/>
<path d="M370.1 114.8L373.7 115.4L376.9 115.1L373.3 114.5Z" fill="#f9ff00" stroke="#f9ff00" stroke-width="0.3"/>
<path d="M400.9 115.5L404.7 115.9L407.7 115.1L404 114.7Z" fill="#f5ff00" stroke="#f5ff00" stroke-width="0.3"/>
<path d="M431.8 113.2L435.7 113.5L438.6 112.1L434.7 111.9Z" fill="#ffb600" stroke="#ffb600" stroke-width="0.3"/>
<path d="M462.7 108L466.7 108.1L469.5 106.2L465.5 106.1Z" fill="#fb1100" stroke="#fb1100" stroke-width="0.3"/>
<path d="M332.3 110L335.8 110.8L339.2 111.2L335.8 110.4Z" fill="#e66d00" stroke="#e66d00" stroke-width="0.3"/>
<path d="M493.6 99.8L497.8 99.7L500.3 97.4L496.2 97.5Z" fill="#c50000" stroke="#c50000" stroke-width="0.3"/>
<path d="M363.2 114.3L366.8 115L370.1 114.8L366.5 114.2Z" fill="#fffb00" stroke="#fffb00" stroke-width="0.3"/>
<path d="M394.1 115.7L397.8 116.2L400.9 115.5L397.2 115Z" fill="#efff00" stroke="#efff00" stroke-width="0.3"/>
<path d="M425.1 114.1L428.9 114.5L431.8 113.2L428 112.9Z" fill="#ffd700" stroke="#ffd700" stroke-width="0.3"/>
<path d="M456 109.6L460 109.7L462.7 108L458.8 107.9Z" fill="#ff2d00" stroke="#ff2d00" stroke-width="0.3"/>
<path d="M325.5 108.7L328.9 109.5L332.3 110L328.9 109.2Z" fill="#de4300" stroke="#de4300" stroke-width="0.3"/>
<path d="M486.9 102.1L491 102.1L493.6 99.8L489.5 99.9Z" fill="#db0000" stroke="#db0000" stroke-width="0.3"/>
<path d="M356.4 113.7L359.9 114.4L363.2 114.3L359.7 113.7Z" fill="#ffe900" stroke="#ffe900" stroke-width="0.3"/>
<path d="M387.3 115.8L391 116.3L394.1 115.7L390.5 115.2Z" fill="#ecff00" stroke="#ecff00" stroke-width="0.3"/>
<path d="M418.3 114.9L422.1 115.3L425.1 114.1L421.2 113.8Z" fill="#fff300" stroke="#fff300" stroke-width="0.3"/>
<path d="M449.2 111.1L453.2 111.3L456 109.6L452 109.4Z" fill="#ff6300" stroke="#ff6300" stroke-width="0.3"/>
<path d="M318.6 107.2L322 108.1L325.5 108.7L322.1 107.9Z" fill="#d61600" stroke="#d61600" stroke-width="0.3"/>
<path d="M480.2 104.3L484.3 104.3L486.9 102.1L482.9 102.2Z" fill="#ea0400" stroke="#ea0400" stroke-width="0.3"/>
<path d="M349.5 112.9L353.1 113.7L356.4 113.7L352.9 113Z" fill="#facd00" stroke="#facd00" stroke-width="0.3"/>
<path d="M380.5 115.7L384.2 116.3L387.3 115.8L383.7 115.2Z" fill="#edff00" stroke="#edff00" stroke-width="0.3"/>
<path d="M411.5 115.5L415.3 115.9L418.3 114.9L414.5 114.5Z" fill="#f9ff00" stroke="#f9ff00" stroke-width="0.3"/>
<path d="M442.5 112.4L446.4 112.6L449.2 111.1L445.3 110.9Z" fill="#ff9300" stroke="#ff9300" stroke-width="0.3"/>
<path d="M473.5 106.3L477.5 106.3L480.2 104.3L476.2 104.3Z" fill="#f30a00" stroke="#f30a00" stroke-width="0.3"/>
<path d="M342.7 112L346.2 112.7L349.5 112.9L346 112.2Z" fill="#f2aa00" stroke="#f2aa00" stroke-width="0.3"/>
<path d="M504.5 97.2L508.7 97.1L511.2 94.5L507 94.7Z" fill="#ab0000" stroke="#ab0000" stroke-width="0.3"/>
<path d="M373.7 115.4L377.3 116.1L380.5 115.7L376.9 115.1Z" fill="#f0ff00" stroke="#f0ff00" stroke-width="0.3"/>
<path d="M404.7 115.9L408.4 116.4L411.5 115.5L407.7 115.1Z" fill="#efff00" stroke="#efff00" stroke-width="0.3"/>
<path d="M435.7 113.5L439.6 113.8L442.5 112.4L438.6 112.1Z" fill="#ffbb00" stroke="#ffbb00" stroke-width="0.3"/>
<path d="M466.7 108.1L470.8 108.2L473.5 106.3L469.5 106.2Z" fill="#fb1100" stroke="#fb1100" stroke-width="0.3"/>
<path d="M335.8 110.8L339.3 111.7L342.7 112L339.2 111.2Z" fill="#ea8400" stroke="#ea8400" stroke-width="0.3"/>
<path d="M497.8 99.7L501.9 99.6L504.5 97.2L500.3 97.4Z" fill="#c30000" stroke="#c30000" stroke-width="0.3"/>
<path d="M366.8 115L370.4 115.7L373.7 115.4L370.1 114.8Z" fill="#f7ff00" stroke="#f7ff00" stroke-width="0.3"/>
<path d="M397.8 116.2L401.6 116.7L404.7 115.9L400.9 115.5Z" fill="#e8ff00" stroke="#e8ff00" stroke-width="0.3"/>
<path d="M428.9 114.5L432.8 114.8L435.7 113.5L431.8 113.2Z" fill="#ffde00" stroke="#ffde00" stroke-width="0.3"/>
<path d="M460 109.7L464 109.9L466.7 108.1L462.7 108Z" fill="#ff2e00" stroke="#ff2e00" stroke-width="0.3"/>
<path d="M328.9 109.5L332.3 110.4L335.8 110.8L332.3 110Z" fill="#e25a00" stroke="#e25a00" stroke-width="0.3"/>
<path d="M491 102.1L495.2 102L497.8 99.7L493.6 99.8Z" fill="#da0000" stroke="#da0000" stroke-width="0.3"/>
<path d="M359.9 114.4L363.5 115.1L366.8 115L363.2 114.3Z" fill="#fffc00" stroke="#fffc00" stroke-width="0.3"/>
<path d="M391 116.3L394.7 116.9L397.8 116.2L394.1 115.7Z" fill="#e4ff00" stroke="#e4ff00" stroke-width="0.3"/>
<path d="M422.1 115.3L425.9 115.6L428.9 114.5L425.1 114.1Z" fill="#fffb00" stroke="#fffb00" stroke-width="0.3"/>
<path d="M453.2 111.3L457.2 111.5L460 109.7L456 109.6Z" fill="#ff6500" stroke="#ff6500" stroke-width="0.3"/>
<path d="M322 108.1L325.4 109L328.9 109.5L325.5 108.7Z" fill="#da2e00" stroke="#da2e00" stroke-width="0.3"/>
<path d="M484.3 104.3L488.4 104.3L491 102.1L486.9 102.1Z" fill="#ea0300" stroke="#ea0300" stroke-width="0.3"/>
<path d="M353.1 113.7L356.6 114.4L359.9 114.4L356.4 113.7Z" fill="#ffe500" stroke="#ffe500" stroke-width="0.3"/>
<path d="M384.2 116.3L387.8 116.9L391 116.3L387.3 115.8Z" fill="#e4ff00" stroke="#e4ff00" stroke-width="0.3"/>
<path d="M415.3 115.9L419.1 116.3L422.1 115.3L418.3 114.9Z" fill="#f3ff00" stroke="#f3ff00" stroke-width="0.3"/>
<path d="M446.4 112.6L450.3 112.8L453.2 111.3L449.2 111.1Z" fill="#ff9600" stroke="#ff9600" stroke-width="0.3"/>
<path d="M315.1 106.5L318.4 107.4L322 108.1L318.6 107.2Z" fill="#d10e00" stroke="#d10e00" stroke-width="0.3"/>
<path d="M477.5 106.3L481.6 106.4L484.3 104.3L480.2 104.3Z" fill="#f30a00" stroke="#f30a00" stroke-width="0.3"/>
<path d="M346.2 112.7L349.7 113.5L353.1 113.7L349.5 112.9Z" fill="#f6c200" stroke="#f6c200" stroke-width="0.3"/>
<path d="M508.7 97.1L512.9 96.9L515.4 94.3L511.2 94.5Z" fill="#a90000" stroke="#a90000" stroke-width="0.3"/>
<path d="M377.3 116.1L380.9 116.7L384.2 116.3L380.5 115.7Z" fill="#e7ff00" stroke="#e7ff00" stroke-width="0.3"/>
<path d="M408.4 116.4L412.2 116.9L415.3 115.9L411.5 115.5Z" fill="#e8ff00" stroke="#e8ff00" stroke-width="0.3"/>
<path d="M439.6 113.8L443.5 114.1L446.4 112.6L442.5 112.4Z" fill="#ffc000" stroke="#ffc000" stroke-width="0.3"/>
<path d="M470.8 108.2L474.8 108.3L477.5 106.3L473.5 106.3Z" fill="#fb1100" stroke="#fb1100" stroke-width="0.3"/>
<path d="M339.3 111.7L342.8 112.5L346.2 112.7L342.7 112Z" fill="#ee9c00" stroke="#ee9c00" stroke-width="0.3"/>
<path d="M501.9 99.6L506.1 99.5L508.7 97.1L504.5 97.2Z" fill="#c20000" stroke="#c20000" stroke-width="0.3"/>
<path d="M370.4 115.7L374 116.3L377.3 116.1L373.7 115.4Z" fill="#edff00" stroke="#edff00" stroke-width="0.3"/>
<path d="M401.6 116.7L405.3 117.2L408.4 116.4L404.7 115.9Z" fill="#e1ff00" stroke="#e1ff00" stroke-width="0.3"/>
<path d="M432.8 114.8L436.7 115.1L439.6 113.8L435.7 113.5Z" fill="#ffe400" stroke="#ffe400" stroke-width="0.3"/>
<path d="M464 109.9L468 110.1L470.8 108.2L466.7 108.1Z" fill="#ff3000" stroke="#ff3000" stroke-width="0.3"/>
<path d="M332.3 110.4L335.8 111.3L339.3 111.7L335.8 110.8Z" fill="#e67200" stroke="#e67200" stroke-width="0.3"/>
<path d="M495.2 102L499.4 102L501.9 99.6L497.8 99.7Z" fill="#d90000" stroke="#d90000" stroke-width="0.3"/>
<path d="M363.5 115.1L367.1 115.8L370.4 115.7L366.8 115Z" fill="#f6ff00" stroke="#f6ff00" stroke-width="0.3"/>
<path d="M394.7 116.9L398.5 117.4L401.6 116.7L397.8 116.2Z" fill="#ddff00" stroke="#ddff00" stroke-width="0.3"/>
<path d="M425.9 115.6L429.8 116L432.8 114.8L428.9 114.5Z" fill="#fdff00" stroke="#fdff00" stroke-width="0.3"/>
<path d="M457.2 111.5L461.2 111.7L464 109.9L460 109.7Z" fill="#ff6800" stroke="#ff6800" stroke-width="0.3"/>
<path d="M325.4 109L328.8 109.9L332.3 110.4L328.9 109.5Z" fill="#de4600" stroke="#de4600" stroke-width="0.3"/>
<path d="M488.4 104.3L492.6 104.3L495.2 102L491 102.1Z" fill="#ea0300" stroke="#ea0300" stroke-width="0.3"/>
<path d="M356.6 114.4L360.2 115.2L363.5 115.1L359.9 114.4Z" fill="#fff900" stroke="#fff900" stroke-width="0.3"/>
<path d="M387.8 116.9L391.6 117.5L394.7 116.9L391 116.3Z" fill="#dbff00" stroke="#dbff00" stroke-width="0.3"/>
<path d="M419.1 116.3L422.9 116.8L425.9 115.6L422.1 115.3Z" fill="#eeff00" stroke="#eeff00" stroke-width="0.3"/>
<path d="M450.3 112.8L454.3 113.1L457.2 111.5L453.2 111.3Z" fill="#ff9a00" stroke="#ff9a00" stroke-width="0.3"/>
<path d="M318.4 107.4L321.9 108.3L325.4 109L322 108.1Z" fill="#d61700" stroke="#d61700" stroke-width="0.3"/>
<path d="M481.6 106.4L485.7 106.4L488.4 104.3L484.3 104.3Z" fill="#f30a00" stroke="#f30a00" stroke-width="0.3"/>
<path d="M349.7 113.5L353.2 114.3L356.6 114.4L353.1 113.7Z" fill="#fbda00" stroke="#fbda00" stroke-width="0.3"/>
<path d="M380.9 116.7L384.6 117.3L387.8 116.9L384.2 116.3Z" fill="#deff00" stroke="#deff00" stroke-width="0.3"/>
<path d="M412.2 116.9L416.1 117.3L419.1 116.3L415.3 115.9Z" fill="#e2ff00" stroke="#e2ff00" stroke-width="0.3"/>
<path d="M443.5 114.1L447.5 114.4L450.3 112.8L446.4 112.6Z" fill="#ffc500" stroke="#ffc500" stroke-width="0.3"/>
<path d="M311.5 105.6L314.9 106.6L318.4 107.4L315.1 106.5Z" fill="#ca0c00" stroke="#ca0c00" stroke-width="0.3"/>
<path d="M474.8 108.3L478.9 108.4L481.6 106.4L477.5 106.3Z" fill="#fb1100" stroke="#fb1100" stroke-width="0.3"/>
<path d="M342.8 112.5L346.3 113.3L349.7 113.5L346.2 112.7Z" fill="#f2b400" stroke="#f2b400" stroke-width="0.3"/>
<path d="M506.1 99.5L510.4 99.4L512.9 96.9L508.7 97.1Z" fill="#c00000" stroke="#c00000" stroke-width="0.3"/>
<path d="M374 116.3L377.7 117L380.9 116.7L377.3 116.1Z" fill="#e3ff00" stroke="#e3ff00" stroke-width="0.3"/>
<path d="M405.3 117.2L409.2 117.7L412.2 116.9L408.4 116.4Z" fill="#daff00" stroke="#daff00" stroke-width="0.3"/>
<path d="M436.7 115.1L440.6 115.5L443.5 114.1L439.6 113.8Z" fill="#ffeb00" stroke="#ffeb00" stroke-width="0.3"/>
<path d="M468 110.1L472.1 110.2L474.8 108.3L470.8 108.2Z" fill="#ff3100" stroke="#ff3100" stroke-width="0.3"/>
<path d="M335.8 111.3L339.3 112.1L342.8 112.5L339.3 111.7Z" fill="#ea8b00" stroke="#ea8b00" stroke-width="0.3"/>
<path d="M499.4 102L503.6 101.9L506.1 99.5L501.9 99.6Z" fill="#d70000" stroke="#d70000" stroke-width="0.3"/>
<path d="M367.1 115.8L370.8 116.5L374 116.3L370.4 115.7Z" fill="#ebff00" stroke="#ebff00" stroke-width="0.3"/>
<path d="M398.5 117.4L402.2 118L405.3 117.2L401.6 116.7Z" fill="#d5ff00" stroke="#d5ff00" stroke-width="0.3"/>
<path d="M429.8 116L433.7 116.4L436.7 115.1L432.8 114.8Z" fill="#f8ff00" stroke="#f8ff00" stroke-width="0.3"/>
<path d="M461.2 111.7L465.2 111.9L468 110.1L464 109.9Z" fill="#ff6b00" stroke="#ff6b00" stroke-width="0.3"/>
<path d="M328.8 109.9L332.3 110.8L335.8 111.3L332.3 110.4Z" fill="#e25f00" stroke="#e25f00" stroke-width="0.3"/>
<path d="M492.6 104.3L496.7 104.3L499.4 102L495.2 102Z" fill="#e90300" stroke="#e90300" stroke-width="0.3"/>
<path d="M360.2 115.2L363.8 115.9L367.1 115.8L363.5 115.1Z" fill="#f7ff00" stroke="#f7ff00" stroke-width="0.3"/>
<path d="M391.6 117.5L395.3 118.1L398.5 117.4L394.7 116.9Z" fill="#d3ff00" stroke="#d3ff00" stroke-width="0.3"/>
<path d="M422.9 116.8L426.8 117.2L429.8 116L425.9 115.6Z" fill="#e8ff00" stroke="#e8ff00" stroke-width="0.3"/>
<path d="M454.3 113.1L458.4 113.3L461.2 111.7L457.2 111.5Z" fill="#ff9e00" stroke="#ff9e00" stroke-width="0.3"/>
<path d="M321.9 108.3L325.3 109.2L328.8 109.9L325.4 109Z" fill="#da3000" stroke="#da3000" stroke-width="0.3"/>
<path d="M485.7 106.4L489.9 106.5L492.6 104.3L488.4 104.3Z" fill="#f20a00" stroke="#f20a00" stroke-width="0.3"/>
<path d="M353.2 114.3L356.8 115.1L360.2 115.2L356.6 114.4Z" fill="#fff400" stroke="#fff400" stroke-width="0.3"/>
<path d="M384.6 117.3L388.4 118L391.6 117.5L387.8 116.9Z" fill="#d4ff00" stroke="#d4ff00" stroke-width="0.3"/>
<path d="M416.1 117.3L419.9 117.8L422.9 116.8L419.1 116.3Z" fill="#dcff00" stroke="#dcff00" stroke-width="0.3"/>
<path d="M447.5 114.4L451.5 114.7L454.3 113.1L450.3 112.8Z" fill="#ffcb00" stroke="#ffcb00" stroke-width="0.3"/>
<path d="M314.9 106.6L318.3 107.6L321.9 108.3L318.4 107.4Z" fill="#d10e00" stroke="#d10e00" stroke-width="0.3"/>
<path d="M478.9 108.4L483.1 108.5L485.7 106.4L481.6 106.4Z" fill="#fb1100" stroke="#fb1100" stroke-width="0.3"/>
<path d="M346.3 113.3L349.8 114.1L353.2 114.3L349.7 113.5Z" fill="#f7ce00" stroke="#f7ce00" stroke-width="0.3"/>
<path d="M377.7 117L381.4 117.7L384.6 117.3L380.9 116.7Z" fill="#d9ff00" stroke="#d9ff00" stroke-width="0.3"/>
<path d="M409.2 117.7L413 118.3L416.1 117.3L412.2 116.9Z" fill="#d3ff00" stroke="#d3ff00" stroke-width="0.3"/>
<path d="M440.6 115.5L444.6 115.8L447.5 114.4L443.5 114.1Z" fill="#fff200" stroke="#fff200" stroke-width="0.3"/>
<path d="M307.9 104.7L311.3 105.7L314.9 106.6L311.5 105.6Z" fill="#c30900" stroke="#c30900" stroke-width="0.3"/>
<path d="M472.1 110.2L476.2 110.4L478.9 108.4L474.8 108.3Z" fill="#ff3200" stroke="#ff3200" stroke-width="0.3"/>
<path d="M339.3 112.1L342.8 113L346.3 113.3L342.8 112.5Z" fill="#eea400" stroke="#eea400" stroke-width="0.3"/>
<path d="M503.6 101.9L507.8 101.9L510.4 99.4L506.1 99.5Z" fill="#d60000" stroke="#d60000" stroke-width="0.3"/>
<path d="M370.8 116.5L374.4 117.3L377.7 117L374 116.3Z" fill="#e0ff00" stroke="#e0ff00" stroke-width="0.3"/>
<path d="M402.2 118L406 118.5L409.2 117.7L405.3 117.2Z" fill="#cdff00" stroke="#cdff00" stroke-width="0.3"/>
<path d="M433.7 116.4L437.7 116.8L440.6 115.5L436.7 115.1Z" fill="#f3ff00" stroke="#f3ff00" stroke-width="0.3"/>
<path d="M465.2 111.9L469.3 112.1L472.1 110.2L468 110.1Z" fill="#ff6d00" stroke="#ff6d00" stroke-width="0.3"/>
<path d="M332.3 110.8L335.8 111.7L339.3 112.1L335.8 111.3Z" fill="#e67900" stroke="#e67900" stroke-width="0.3"/>
<path d="M496.7 104.3L501 104.3L503.6 101.9L499.4 102Z" fill="#e90200" stroke="#e90200" stroke-width="0.3"/>
<path d="M363.8 115.9L367.4 116.7L370.8 116.5L367.1 115.8Z" fill="#ebff00" stroke="#ebff00" stroke-width="0.3"/>
<path d="M395.3 118.1L399.1 118.7L402.2 118L398.5 117.4Z" fill="#caff00" stroke="#caff00" stroke-width="0.3"/>
<path d="M426.8 117.2L430.7 117.6L433.7 116.4L429.8 116Z" fill="#e3ff00" stroke="#e3ff00" stroke-width="0.3"/>
<path d="M458.4 113.3L462.4 113.6L465.2 111.9L461.2 111.7Z" fill="#ffa200" stroke="#ffa200" stroke-width="0.3"/>
<path d="M325.3 109.2L328.8 110.2L332.3 110.8L328.8 109.9Z" fill="#de4a00" stroke="#de4a00" stroke-width="0.3"/>
<path d="M489.9 106.5L494.1 106.5L496.7 104.3L492.6 104.3Z" fill="#f20a00" stroke="#f20a00" stroke-width="0.3"/>
<path d="M356.8 115.1L360.4 115.9L363.8 115.9L360.2 115.2Z" fill="#f9ff00" stroke="#f9ff00" stroke-width="0.3"/>
<path d="M388.4 118L392.1 118.6L395.3 118.1L391.6 117.5Z" fill="#cbff00" stroke="#cbff00" stroke-width="0.3"/>
<path d="M419.9 117.8L423.8 118.3L426.8 117.2L422.9 116.8Z" fill="#d6ff00" stroke="#d6ff00" stroke-width="0.3"/>
<path d="M451.5 114.7L455.5 115L458.4 113.3L454.3 113.1Z" fill="#ffd000" stroke="#ffd000" stroke-width="0.3"/>
<path d="M318.3 107.6L321.7 108.5L325.3 109.2L321.9 108.3Z" fill="#d71800" stroke="#d71800" stroke-width="0.3"/>
<path d="M483.1 108.5L487.2 108.6L489.9 106.5L485.7 106.4Z" fill="#fb1100" stroke="#fb1100" stroke-width="0.3"/>
<path d="M349.8 114.1L353.4 115L356.8 115.1L353.2 114.3Z" fill="#fbe800" stroke="#fbe800" stroke-width="0.3"/>
<path d="M381.4 117.7L385.1 118.4L388.4 118L384.6 117.3Z" fill="#cfff00" stroke="#cfff00" stroke-width="0.3"/>
<path d="M413 118.3L416.9 118.8L419.9 117.8L416.1 117.3Z" fill="#ccff00" stroke="#ccff00" stroke-width="0.3"/>
<path d="M444.6 115.8L448.6 116.2L451.5 114.7L447.5 114.4Z" fill="#fff800" stroke="#fff800" stroke-width="0.3"/>
<path d="M311.3 105.7L314.7 106.7L318.3 107.6L314.9 106.6Z" fill="#ca0c00" stroke="#ca0c00" stroke-width="0.3"/>
<path d="M476.2 110.4L480.3 110.5L483.1 108.5L478.9 108.4Z" fill="#ff3300" stroke="#ff3300" stroke-width="0.3"/>
<path d="M342.8 113L346.4 113.9L349.8 114.1L346.3 113.3Z" fill="#f3bf00" stroke="#f3bf00" stroke-width="0.3"/>
<path d="M374.4 117.3L378.1 118L381.4 117.7L377.7 117Z" fill="#d5ff00" stroke="#d5ff00" stroke-width="0.3"/>
<path d="M406 118.5L409.9 119.1L413 118.3L409.2 117.7Z" fill="#c5ff00" stroke="#c5ff00" stroke-width="0.3"/>
<path d="M437.7 116.8L441.7 117.2L444.6 115.8L440.6 115.5Z" fill="#efff00" stroke="#efff00" stroke-width="0.3"/>
<path d="M304.2 103.7L307.6 104.7L311.3 105.7L307.9 104.7Z" fill="#bc0700" stroke="#bc0700" stroke-width="0.3"/>
<path d="M469.3 112.1L473.4 112.3L476.2 110.4L472.1 110.2Z" fill="#ff7000" stroke="#ff7000" stroke-width="0.3"/>
<path d="M335.8 111.7L339.4 112.6L342.8 113L339.3 112.1Z" fill="#ea9300" stroke="#ea9300" stroke-width="0.3"/>
<path d="M501 104.3L505.2 104.3L507.8 101.9L503.6 101.9Z" fill="#e90200" stroke="#e90200" stroke-width="0.3"/>
<path d="M367.4 116.7L371.1 117.4L374.4 117.3L370.8 116.5Z" fill="#dfff00" stroke="#dfff00" stroke-width="0.3"/>
<path d="M399.1 118.7L402.9 119.3L406 118.5L402.2 118Z" fill="#c2ff00" stroke="#c2ff00" stroke-width="0.3"/>
<path d="M430.7 117.6L434.7 118.1L437.7 116.8L433.7 116.4Z" fill="#deff00" stroke="#deff00" stroke-width="0.3"/>
<path d="M462.4 113.6L466.5 113.9L469.3 112.1L465.2 111.9Z" fill="#ffa600" stroke="#ffa600" stroke-width="0.3"/>
<path d="M328.8 110.2L332.3 111.1L335.8 111.7L332.3 110.8Z" fill="#e26400" stroke="#e26400" stroke-width="0.3"/>
<path d="M494.1 106.5L498.3 106.6L501 104.3L496.7 104.3Z" fill="#f20a00" stroke="#f20a00" stroke-width="0.3"/>
<path d="M360.4 115.9L364.1 116.7L367.4 116.7L363.8 115.9Z" fill="#edff00" stroke="#edff00" stroke-width="0.3"/>
<path d="M392.1 118.6L395.9 119.3L399.1 118.7L395.3 118.1Z" fill="#c2ff00" stroke="#c2ff00" stroke-width="0.3"/>
<path d="M423.8 118.3L427.7 118.8L430.7 117.6L426.8 117.2Z" fill="#d0ff00" stroke="#d0ff00" stroke-width="0.3"/>
<path d="M455.5 115L459.6 115.3L462.4 113.6L458.4 113.3Z" fill="#ffd500" stroke="#ffd500" stroke-width="0.3"/>
<path d="M321.7 108.5L325.2 109.5L328.8 110.2L325.3 109.2Z" fill="#da3200" stroke="#da3200" stroke-width="0.3"/>
<path d="M487.2 108.6L491.4 108.7L494.1 106.5L489.9 106.5Z" fill="#fb1100" stroke="#fb1100" stroke-width="0.3"/>
<path d="M353.4 115L357.1 115.8L360.4 115.9L356.8 115.1Z" fill="#fdff00" stroke="#fdff00" stroke-width="0.3"/>
<path d="M385.1 118.4L388.9 119.1L392.1 118.6L388.4 118Z" fill="#c4ff00" stroke="#c4ff00" stroke-width="0.3"/>
<path d="M416.9 118.8L420.8 119.3L423.8 118.3L419.9 117.8Z" fill="#c5ff00" stroke="#c5ff00" stroke-width="0.3"/>
<path d="M448.6 116.2L452.6 116.5L455.5 115L451.5 114.7Z" fill="#ffff00" stroke="#ffff00" stroke-width="0.3"/>
<path d="M314.7 106.7L318.1 107.7L321.7 108.5L318.3 107.6Z" fill="#d10e00" stroke="#d10e00" stroke-width="0.3"/>
<path d="M480.3 110.5L484.5 110.7L487.2 108.6L483.1 108.5Z" fill="#ff3400" stroke="#ff3400" stroke-width="0.3"/>
<path d="M346.4 113.9L350 114.7L353.4 115L349.8 114.1Z" fill="#f7da00" stroke="#f7da00" stroke-width="0.3"/>
<path d="M378.1 118L381.9 118.7L385.1 118.4L381.4 117.7Z" fill="#caff00" stroke="#caff00" stroke-width="0.3"/>
<path d="M409.9 119.1L413.8 119.7L416.9 118.8L413 118.3Z" fill="#beff00" stroke="#beff00" stroke-width="0.3"/>
<path d="M441.7 117.2L445.7 117.6L448.6 116.2L444.6 115.8Z" fill="#eaff00" stroke="#eaff00" stroke-width="0.3"/>
<path d="M307.6 104.7L311 105.8L314.7 106.7L311.3 105.7Z" fill="#c30900" stroke="#c30900" stroke-width="0.3"/>
<path d="M473.4 112.3L477.6 112.5L480.3 110.5L476.2 110.4Z" fill="#ff7200" stroke="#ff7200" stroke-width="0.3"/>
<path d="M339.4 112.6L342.9 113.5L346.4 113.9L342.8 113Z" fill="#efae00" stroke="#efae00" stroke-width="0.3"/>
<path d="M371.1 117.4L374.8 118.2L378.1 118L374.4 117.3Z" fill="#d4ff00" stroke="#d4ff00" stroke-width="0.3"/>
<path d="M402.9 119.3L406.8 119.9L409.9 119.1L406 118.5Z" fill="#b9ff00" stroke="#b9ff00" stroke-width="0.3"/>
<path d="M434.7 118.1L438.7 118.5L441.7 117.2L437.7 116.8Z" fill="#d8ff00" stroke="#d8ff00" stroke-width="0.3"/>
<path d="M300.5 102.5L303.9 103.6L307.6 104.7L304.2 103.7Z" fill="#b50300" stroke="#b50300" stroke-width="0.3"/>
<path d="M466.5 113.9L470.6 114.1L473.4 112.3L469.3 112.1Z" fill="#ffa900" stroke="#ffa900" stroke-width="0.3"/>
<path d="M332.3 111.1L335.8 112.1L339.4 112.6L335.8 111.7Z" fill="#e67f00" stroke="#e67f00" stroke-width="0.3"/>
<path d="M498.3 106.6L502.6 106.7L505.2 104.3L501 104.3Z" fill="#f20900" stroke="#f20900" stroke-width="0.3"/>
<path d="M364.1 116.7L367.8 117.5L371.1 117.4L367.4 116.7Z" fill="#e0ff00" stroke="#e0ff00" stroke-width="0.3"/>
<path d="M395.9 119.3L399.7 119.9L402.9 119.3L399.1 118.7Z" fill="#b8ff00" stroke="#b8ff00" stroke-width="0.3"/>
<path d="M427.7 118.8L431.7 119.3L434.7 118.1L430.7 117.6Z" fill="#caff00" stroke="#caff00" stroke-width="0.3"/>
<path d="M459.6 115.3L463.7 115.6L466.5 113.9L462.4 113.6Z" fill="#ffda00" stroke="#ffda00" stroke-width="0.3"/>
<path d="M325.2 109.5L328.7 110.5L332.3 111.1L328.8 110.2Z" fill="#df4c00" stroke="#df4c00" stroke-width="0.3"/>
<path d="M491.4 108.7L495.7 108.8L498.3 106.6L494.1 106.5Z" fill="#fb1100" stroke="#fb1100" stroke-width="0.3"/>
<path d="M357.1 115.8L360.7 116.7L364.1 116.7L360.4 115.9Z" fill="#f0ff00" stroke="#f0ff00" stroke-width="0.3"/>
<path d="M388.9 119.1L392.7 119.8L395.9 119.3L392.1 118.6Z" fill="#baff00" stroke="#baff00" stroke-width="0.3"/>
<path d="M420.8 119.3L424.7 119.9L427.7 118.8L423.8 118.3Z" fill="#beff00" stroke="#beff00" stroke-width="0.3"/>
<path d="M452.6 116.5L456.7 116.9L459.6 115.3L455.5 115Z" fill="#fbff00" stroke="#fbff00" stroke-width="0.3"/>
<path d="M318.1 107.7L321.6 108.8L325.2 109.5L321.7 108.5Z" fill="#d71900" stroke="#d71900" stroke-width="0.3"/>
<path d="M484.5 110.7L488.7 110.9L491.4 108.7L487.2 108.6Z" fill="#ff3500" stroke="#ff3500" stroke-width="0.3"/>
<path d="M350 114.7L353.6 115.6L357.1 115.8L353.4 115Z" fill="#fbf500" stroke="#fbf500" stroke-width="0.3"/>
<path d="M381.9 118.7L385.6 119.5L388.9 119.1L385.1 118.4Z" fill="#c0ff00" stroke="#c0ff00" stroke-width="0.3"/>
<path d="M413.8 119.7L417.7 120.3L420.8 119.3L416.9 118.8Z" fill="#b6ff00" stroke="#b6ff00" stroke-width="0.3"/>
<path d="M445.7 117.6L449.7 118L452.6 116.5L448.6 116.2Z" fill="#e6ff00" stroke="#e6ff00" stroke-width="0.3"/>
<path d="M311 105.8L314.5 106.8L318.1 107.7L314.7 106.7Z" fill="#ca0c00" stroke="#ca0c00" stroke-width="0.3"/>
<path d="M477.6 112.5L481.8 112.7L484.5 110.7L480.3 110.5Z" fill="#ff7500" stroke="#ff7500" stroke-width="0.3"/>
<path d="M342.9 113.5L346.5 114.4L350 114.7L346.4 113.9Z" fill="#f3c900" stroke="#f3c900" stroke-width="0.3"/>
<path d="M374.8 118.2L378.6 119L381.9 118.7L378.1 118Z" fill="#c8ff00" stroke="#c8ff00" stroke-width="0.3"/>
<path d="M406.8 119.9L410.6 120.5L413.8 119.7L409.9 119.1Z" fill="#acfe02" stroke="#acfe02" stroke-width="0.3"/>
<path d="M438.7 118.5L442.7 119L445.7 117.6L441.7 117.2Z" fill="#d3ff00" stroke="#d3ff00" stroke-width="0.3"/>
<path d="M303.9 103.6L307.4 104.7L311 105.8L307.6 104.7Z" fill="#bc0600" stroke="#bc0600" stroke-width="0.3"/>
<path d="M470.6 114.1L474.8 114.4L477.6 112.5L473.4 112.3Z" fill="#ffad00" stroke="#ffad00" stroke-width="0.3"/>
<path d="M335.8 112.1L339.4 113.1L342.9 113.5L339.4 112.6Z" fill="#eb9a00" stroke="#eb9a00" stroke-width="0.3"/>
<path d="M367.8 117.5L371.5 118.4L374.8 118.2L371.1 117.4Z" fill="#d4ff00" stroke="#d4ff00" stroke-width="0.3"/>
<path d="M399.7 119.9L403.6 120.6L406.8 119.9L402.9 119.3Z" fill="#a6fd03" stroke="#a6fd03" stroke-width="0.3"/>
<path d="M431.7 119.3L435.7 119.8L438.7 118.5L434.7 118.1Z" fill="#c4ff00" stroke="#c4ff00" stroke-width="0.3"/>
<path d="M296.8 101.3L300.2 102.4L303.9 103.6L300.5 102.5Z" fill="#ae0000" stroke="#ae0000" stroke-width="0.3"/>
<path d="M463.7 115.6L467.8 115.9L470.6 114.1L466.5 113.9Z" fill="#ffdf00" stroke="#ffdf00" stroke-width="0.3"/>
<path d="M328.7 110.5L332.3 111.5L335.8 112.1L332.3 111.1Z" fill="#e36900" stroke="#e36900" stroke-width="0.3"/>
<path d="M495.7 108.8L500 108.9L502.6 106.7L498.3 106.6Z" fill="#fb1100" stroke="#fb1100" stroke-width="0.3"/>
<path d="M360.7 116.7L364.4 117.5L367.8 117.5L364.1 116.7Z" fill="#e2ff00" stroke="#e2ff00" stroke-width="0.3"/>
<path d="M392.7 119.8L396.5 120.5L399.7 119.9L395.9 119.3Z" fill="#aafe02" stroke="#aafe02" stroke-width="0.3"/>
<path d="M424.7 119.9L428.7 120.4L431.7 119.3L427.7 118.8Z" fill="#b7ff00" stroke="#b7ff00" stroke-width="0.3"/>
<path d="M456.7 116.9L460.8 117.2L463.7 115.6L459.6 115.3Z" fill="#f8ff00" stroke="#f8ff00" stroke-width="0.3"/>
<path d="M321.6 108.8L325.1 109.8L328.7 110.5L325.2 109.5Z" fill="#db3400" stroke="#db3400" stroke-width="0.3"/>
<path d="M488.7 110.9L493 111L495.7 108.8L491.4 108.7Z" fill="#ff3600" stroke="#ff3600" stroke-width="0.3"/>
<path d="M353.6 115.6L357.3 116.5L360.7 116.7L357.1 115.8Z" fill="#f4ff00" stroke="#f4ff00" stroke-width="0.3"/>
<path d="M385.6 119.5L389.4 120.2L392.7 119.8L388.9 119.1Z" fill="#b5ff00" stroke="#b5ff00" stroke-width="0.3"/>
<path d="M417.7 120.3L421.6 120.9L424.7 119.9L420.8 119.3Z" fill="#a4fd03" stroke="#a4fd03" stroke-width="0.3"/>
<path d="M449.7 118L453.8 118.4L456.7 116.9L452.6 116.5Z" fill="#e1ff00" stroke="#e1ff00" stroke-width="0.3"/>
<path d="M314.5 106.8L318 107.9L321.6 108.8L318.1 107.7Z" fill="#d00e00" stroke="#d00e00" stroke-width="0.3"/>
<path d="M481.8 112.7L486 112.9L488.7 110.9L484.5 110.7Z" fill="#ff7700" stroke="#ff7700" stroke-width="0.3"/>
<path d="M346.5 114.4L350.2 115.4L353.6 115.6L350 114.7Z" fill="#f7e500" stroke="#f7e500" stroke-width="0.3"/>
<path d="M378.6 119L382.4 119.8L385.6 119.5L381.9 118.7Z" fill="#bcff00" stroke="#bcff00" stroke-width="0.3"/>
<path d="M410.6 120.5L414.6 121.1L417.7 120.3L413.8 119.7Z" fill="#95fc07" stroke="#95fc07" stroke-width="0.3"/>
<path d="M442.7 119L446.8 119.4L449.7 118L445.7 117.6Z" fill="#ceff00" stroke="#ceff00" stroke-width="0.3"/>
<path d="M307.4 104.7L310.8 105.8L314.5 106.8L311 105.8Z" fill="#c30800" stroke="#c30800" stroke-width="0.3"/>
<path d="M474.8 114.4L479 114.6L481.8 112.7L477.6 112.5Z" fill="#ffb100" stroke="#ffb100" stroke-width="0.3"/>
<path d="M339.4 113.1L343 114L346.5 114.4L342.9 113.5Z" fill="#efb600" stroke="#efb600" stroke-width="0.3"/>
<path d="M371.5 118.4L375.2 119.2L378.6 119L374.8 118.2Z" fill="#c7ff00" stroke="#c7ff00" stroke-width="0.3"/>
<path d="M403.6 120.6L407.5 121.3L410.6 120.5L406.8 119.9Z" fill="#8dfb09" stroke="#8dfb09" stroke-width="0.3"/>
<path d="M435.7 119.8L439.7 120.3L442.7 119L438.7 118.5Z" fill="#bdff00" stroke="#bdff00" stroke-width="0.3"/>
<path d="M300.2 102.4L303.6 103.6L307.4 104.7L303.9 103.6Z" fill="#b50300" stroke="#b50300" stroke-width="0.3"/>
<path d="M467.8 115.9L472 116.2L474.8 114.4L470.6 114.1Z" fill="#ffe400" stroke="#ffe400" stroke-width="0.3"/>
<path d="M332.3 111.5L335.9 112.5L339.4 113.1L335.8 112.1Z" fill="#e78500" stroke="#e78500" stroke-width="0.3"/>
<path d="M364.4 117.5L368.1 118.4L371.5 118.4L367.8 117.5Z" fill="#d5ff00" stroke="#d5ff00" stroke-width="0.3"/>
<path d="M396.5 120.5L400.4 121.2L403.6 120.6L399.7 119.9Z" fill="#8ffb08" stroke="#8ffb08" stroke-width="0.3"/>
<path d="M428.7 120.4L432.7 120.9L435.7 119.8L431.7 119.3Z" fill="#aafe02" stroke="#aafe02" stroke-width="0.3"/>
<path d="M293 100L296.4 101.2L300.2 102.4L296.8 101.3Z" fill="#9f0000" stroke="#9f0000" stroke-width="0.3"/>
<path d="M460.8 117.2L465 117.6L467.8 115.9L463.7 115.6Z" fill="#f4ff00" stroke="#f4ff00" stroke-width="0.3"/>
<path d="M325.1 109.8L328.7 110.8L332.3 111.5L328.7 110.5Z" fill="#df5000" stroke="#df5000" stroke-width="0.3"/>
<path d="M493 111L497.3 111.2L500 108.9L495.7 108.8Z" fill="#ff3800" stroke="#ff3800" stroke-width="0.3"/>
<path d="M357.3 116.5L361 117.5L364.4 117.5L360.7 116.7Z" fill="#e6ff00" stroke="#e6ff00" stroke-width="0.3"/>
<path d="M389.4 120.2L393.3 121L396.5 120.5L392.7 119.8Z" fill="#99fc06" stroke="#99fc06" stroke-width="0.3"/>
<path d="M421.6 120.9L425.6 121.4L428.7 120.4L424.7 119.9Z" fill="#90fb08" stroke="#90fb08" stroke-width="0.3"/>
<path d="M453.8 118.4L457.9 118.8L460.8 117.2L456.7 116.9Z" fill="#dcff00" stroke="#dcff00" stroke-width="0.3"/>
<path d="M318 107.9L321.5 109L325.1 109.8L321.6 108.8Z" fill="#d71a00" stroke="#d71a00" stroke-width="0.3"/>
<path d="M486 112.9L490.3 113.1L493 111L488.7 110.9Z" fill="#ff7a00" stroke="#ff7a00" stroke-width="0.3"/>
<path d="M350.2 115.4L353.8 116.3L357.3 116.5L353.6 115.6Z" fill="#f7fb00" stroke="#f7fb00" stroke-width="0.3"/>
<path d="M382.4 119.8L386.2 120.6L389.4 120.2L385.6 119.5Z" fill="#abfe02" stroke="#abfe02" stroke-width="0.3"/>
<path d="M414.6 121.1L418.5 121.8L421.6 120.9L417.7 120.3Z" fill="#7ef90c" stroke="#7ef90c" stroke-width="0.3"/>
<path d="M446.8 119.4L450.9 119.9L453.8 118.4L449.7 118Z" fill="#c8ff00" stroke="#c8ff00" stroke-width="0.3"/>
<path d="M310.8 105.8L314.3 106.9L318 107.9L314.5 106.8Z" fill="#ca0c00" stroke="#ca0c00" stroke-width="0.3"/>
<path d="M479 114.6L483.3 114.9L486 112.9L481.8 112.7Z" fill="#ffb500" stroke="#ffb500" stroke-width="0.3"/>
<path d="M343 114L346.7 115L350.2 115.4L346.5 114.4Z" fill="#f3d300" stroke="#f3d300" stroke-width="0.3"/>
<path d="M375.2 119.2L379 120L382.4 119.8L378.6 119Z" fill="#bbff00" stroke="#bbff00" stroke-width="0.3"/>
<path d="M407.5 121.3L411.4 121.9L414.6 121.1L410.6 120.5Z" fill="#74f80e" stroke="#74f80e" stroke-width="0.3"/>
<path d="M439.7 120.3L443.8 120.8L446.8 119.4L442.7 119Z" fill="#b7ff00" stroke="#b7ff00" stroke-width="0.3"/>
<path d="M303.6 103.6L307.1 104.7L310.8 105.8L307.4 104.7Z" fill="#bc0600" stroke="#bc0600" stroke-width="0.3"/>
<path d="M472 116.2L476.2 116.5L479 114.6L474.8 114.4Z" fill="#ffea00" stroke="#ffea00" stroke-width="0.3"/>
<path d="M335.9 112.5L339.5 113.6L343 114L339.4 113.1Z" fill="#eba100" stroke="#eba100" stroke-width="0.3"/>
<path d="M368.1 118.4L371.9 119.3L375.2 119.2L371.5 118.4Z" fill="#c8ff00" stroke="#c8ff00" stroke-width="0.3"/>
<path d="M400.4 121.2L404.3 121.9L407.5 121.3L403.6 120.6Z" fill="#73f80e" stroke="#73f80e" stroke-width="0.3"/>
<path d="M432.7 120.9L436.7 121.5L439.7 120.3L435.7 119.8Z" fill="#97fc06" stroke="#97fc06" stroke-width="0.3"/>
<path d="M296.4 101.2L299.9 102.3L303.6 103.6L300.2 102.4Z" fill="#ad0000" stroke="#ad0000" stroke-width="0.3"/>
<path d="M465 117.6L469.2 118L472 116.2L467.8 115.9Z" fill="#f0ff00" stroke="#f0ff00" stroke-width="0.3"/>
<path d="M328.7 110.8L332.3 111.9L335.9 112.5L332.3 111.5Z" fill="#e36d00" stroke="#e36d00" stroke-width="0.3"/>
<path d="M361 117.5L364.7 118.4L368.1 118.4L364.4 117.5Z" fill="#d8ff00" stroke="#d8ff00" stroke-width="0.3"/>
<path d="M393.3 121L397.2 121.8L400.4 121.2L396.5 120.5Z" fill="#7bf90d" stroke="#7bf90d" stroke-width="0.3"/>
<path d="M425.6 121.4L429.6 122L432.7 120.9L428.7 120.4Z" fill="#7bf90d" stroke="#7bf90d" stroke-width="0.3"/>
<path d="M457.9 118.8L462.1 119.2L465 117.6L460.8 117.2Z" fill="#d8ff00" stroke="#d8ff00" stroke-width="0.3"/>
<path d="M321.5 109L325.1 110.1L328.7 110.8L325.1 109.8Z" fill="#db3700" stroke="#db3700" stroke-width="0.3"/>
<path d="M490.3 113.1L494.6 113.3L497.3 111.2L493 111Z" fill="#ff7d00" stroke="#ff7d00" stroke-width="0.3"/>
<path d="M353.8 116.3L357.5 117.3L361 117.5L357.3 116.5Z" fill="#ecff00" stroke="#ecff00" stroke-width="0.3"/>
<path d="M386.2 120.6L390 121.4L393.3 121L389.4 120.2Z" fill="#8cfb09" stroke="#8cfb09" stroke-width="0.3"/>
<path d="M418.5 121.8L422.5 122.4L425.6 121.4L421.6 120.9Z" fill="#67f611" stroke="#67f611" stroke-width="0.3"/>
<path d="M450.9 119.9L455 120.3L457.9 118.8L453.8 118.4Z" fill="#c3ff00" stroke="#c3ff00" stroke-width="0.3"/>
<path d="M314.3 106.9L317.8 108.1L321.5 109L318 107.9Z" fill="#d10e00" stroke="#d10e00" stroke-width="0.3"/>
<path d="M483.3 114.9L487.5 115.2L490.3 113.1L486 112.9Z" fill="#ffb900" stroke="#ffb900" stroke-width="0.3"/>
<path d="M346.7 115L350.3 116L353.8 116.3L350.2 115.4Z" fill="#f7f100" stroke="#f7f100" stroke-width="0.3"/>
<path d="M379 120L382.8 120.9L386.2 120.6L382.4 119.8Z" fill="#a5fd03" stroke="#a5fd03" stroke-width="0.3"/>
<path d="M411.4 121.9L415.4 122.6L418.5 121.8L414.6 121.1Z" fill="#5bf514" stroke="#5bf514" stroke-width="0.3"/>
<path d="M443.8 120.8L447.9 121.3L450.9 119.9L446.8 119.4Z" fill="#acfe02" stroke="#acfe02" stroke-width="0.3"/>
<path d="M307.1 104.7L310.6 105.9L314.3 106.9L310.8 105.8Z" fill="#c30800" stroke="#c30800" stroke-width="0.3"/>
<path d="M476.2 116.5L480.5 116.8L483.3 114.9L479 114.6Z" fill="#ffef00" stroke="#ffef00" stroke-width="0.3"/>
<path d="M339.5 113.6L343.1 114.6L346.7 115L343 114Z" fill="#efbf00" stroke="#efbf00" stroke-width="0.3"/>
<path d="M371.9 119.3L375.7 120.2L379 120L375.2 119.2Z" fill="#bbff00" stroke="#bbff00" stroke-width="0.3"/>
<path d="M404.3 121.9L408.2 122.7L411.4 121.9L407.5 121.3Z" fill="#58f514" stroke="#58f514" stroke-width="0.3"/>
<path d="M436.7 121.5L440.8 122L443.8 120.8L439.7 120.3Z" fill="#85fa0b" stroke="#85fa0b" stroke-width="0.3"/>
<path d="M299.9 102.3L303.3 103.5L307.1 104.7L303.6 103.6Z" fill="#b50300" stroke="#b50300" stroke-width="0.3"/>
<path d="M469.2 118L473.4 118.3L476.2 116.5L472 116.2Z" fill="#ecff00" stroke="#ecff00" stroke-width="0.3"/>
<path d="M332.3 111.9L335.9 113L339.5 113.6L335.9 112.5Z" fill="#e78b00" stroke="#e78b00" stroke-width="0.3"/>
<path d="M364.7 118.4L368.5 119.3L371.9 119.3L368.1 118.4Z" fill="#caff00" stroke="#caff00" stroke-width="0.3"/>
<path d="M397.2 121.8L401.1 122.5L404.3 121.9L400.4 121.2Z" fill="#5ef513" stroke="#5ef513" stroke-width="0.3"/>
<path d="M429.6 122L433.7 122.6L436.7 121.5L432.7 120.9Z" fill="#66f611" stroke="#66f611" stroke-width="0.3"/>
<path d="M462.1 119.2L466.3 119.7L469.2 118L465 117.6Z" fill="#d3ff00" stroke="#d3ff00" stroke-width="0.3"/>
<path d="M325.1 110.1L328.6 111.2L332.3 111.9L328.7 110.8Z" fill="#df5400" stroke="#df5400" stroke-width="0.3"/>
<path d="M357.5 117.3L361.3 118.2L364.7 118.4L361 117.5Z" fill="#ddff00" stroke="#ddff00" stroke-width="0.3"/>
<path d="M390 121.4L393.9 122.2L397.2 121.8L393.3 121Z" fill="#6cf710" stroke="#6cf710" stroke-width="0.3"/>
<path d="M422.5 122.4L426.5 123.1L429.6 122L425.6 121.4Z" fill="#50f416" stroke="#50f416" stroke-width="0.3"/>
<path d="M455 120.3L459.2 120.8L462.1 119.2L457.9 118.8Z" fill="#beff00" stroke="#beff00" stroke-width="0.3"/>
<path d="M317.8 108.1L321.4 109.2L325.1 110.1L321.5 109Z" fill="#d71b00" stroke="#d71b00" stroke-width="0.3"/>
<path d="M487.5 115.2L491.9 115.4L494.6 113.3L490.3 113.1Z" fill="#ffbd00" stroke="#ffbd00" stroke-width="0.3"/>
<path d="M350.3 116L354 117L357.5 117.3L353.8 116.3Z" fill="#f0fb00" stroke="#f0fb00" stroke-width="0.3"/>
<path d="M382.8 120.9L386.7 121.7L390 121.4L386.2 120.6Z" fill="#83fa0b" stroke="#83fa0b" stroke-width="0.3"/>
<path d="M415.4 122.6L419.4 123.3L422.5 122.4L418.5 121.8Z" fill="#42f219" stroke="#42f219" stroke-width="0.3"/>
<path d="M447.9 121.3L452.1 121.8L455 120.3L450.9 119.9Z" fill="#9cfc05" stroke="#9cfc05" stroke-width="0.3"/>
<path d="M310.6 105.9L314.1 107.1L317.8 108.1L314.3 106.9Z" fill="#ca0c00" stroke="#ca0c00" stroke-width="0.3"/>
<path d="M480.5 116.8L484.8 117.2L487.5 115.2L483.3 114.9Z" fill="#fff400" stroke="#fff400" stroke-width="0.3"/>
<path d="M343.1 114.6L346.8 115.6L350.3 116L346.7 115Z" fill="#f3dd00" stroke="#f3dd00" stroke-width="0.3"/>
<path d="M375.7 120.2L379.5 121.1L382.8 120.9L379 120Z" fill="#a2fd04" stroke="#a2fd04" stroke-width="0.3"/>
<path d="M408.2 122.7L412.2 123.4L415.4 122.6L411.4 121.9Z" fill="#3df21a" stroke="#3df21a" stroke-width="0.3"/>
<path d="M440.8 122L444.9 122.6L447.9 121.3L443.8 120.8Z" fill="#72f80f" stroke="#72f80f" stroke-width="0.3"/>
<path d="M303.3 103.5L306.8 104.7L310.6 105.9L307.1 104.7Z" fill="#bb0500" stroke="#bb0500" stroke-width="0.3"/>
<path d="M473.4 118.3L477.7 118.7L480.5 116.8L476.2 116.5Z" fill="#e8ff00" stroke="#e8ff00" stroke-width="0.3"/>
<path d="M335.9 113L339.5 114L343.1 114.6L339.5 113.6Z" fill="#eba900" stroke="#eba900" stroke-width="0.3"/>
<path d="M368.5 119.3L372.3 120.2L375.7 120.2L371.9 119.3Z" fill="#bcff00" stroke="#bcff00" stroke-width="0.3"/>
<path d="M401.1 122.5L405 123.3L408.2 122.7L404.3 121.9Z" fill="#40f21a" stroke="#40f21a" stroke-width="0.3"/>
<path d="M433.7 122.6L437.8 123.2L440.8 122L436.7 121.5Z" fill="#51f416" stroke="#51f416" stroke-width="0.3"/>
<path d="M466.3 119.7L470.5 120.1L473.4 118.3L469.2 118Z" fill="#cfff00" stroke="#cfff00" stroke-width="0.3"/>
<path d="M328.6 111.2L332.3 112.3L335.9 113L332.3 111.9Z" fill="#e37200" stroke="#e37200" stroke-width="0.3"/>
<path d="M361.3 118.2L365 119.2L368.5 119.3L364.7 118.4Z" fill="#ceff00" stroke="#ceff00" stroke-width="0.3"/>
<path d="M393.9 122.2L397.8 123L401.1 122.5L397.2 121.8Z" fill="#4cf317" stroke="#4cf317" stroke-width="0.3"/>
<path d="M426.5 123.1L430.6 123.7L433.7 122.6L429.6 122Z" fill="#39f11b" stroke="#39f11b" stroke-width="0.3"/>
<path d="M459.2 120.8L463.4 121.3L466.3 119.7L462.1 119.2Z" fill="#b8ff00" stroke="#b8ff00" stroke-width="0.3"/>
<path d="M321.4 109.2L325 110.4L328.6 111.2L325.1 110.1Z" fill="#db3800" stroke="#db3800" stroke-width="0.3"/>
<path d="M354 117L357.8 118L361.3 118.2L357.5 117.3Z" fill="#e3ff00" stroke="#e3ff00" stroke-width="0.3"/>
<path d="M386.7 121.7L390.6 122.6L393.9 122.2L390 121.4Z" fill="#61f612" stroke="#61f612" stroke-width="0.3"/>
<path d="M419.4 123.3L423.4 124L426.5 123.1L422.5 122.4Z" fill="#29f01f" stroke="#29f01f" stroke-width="0.3"/>
<path d="M452.1 121.8L456.2 122.3L459.2 120.8L455 120.3Z" fill="#8bfa09" stroke="#8bfa09" stroke-width="0.3"/>
<path d="M314.1 107.1L317.7 108.3L321.4 109.2L317.8 108.1Z" fill="#d10e00" stroke="#d10e00" stroke-width="0.3"/>
<path d="M484.8 117.2L489.1 117.5L491.9 115.4L487.5 115.2Z" fill="#fff900" stroke="#fff900" stroke-width="0.3"/>
<path d="M346.8 115.6L350.5 116.7L354 117L350.3 116Z" fill="#f4f700" stroke="#f4f700" stroke-width="0.3"/>
<path d="M379.5 121.1L383.3 122L386.7 121.7L382.8 120.9Z" fill="#7ff90c" stroke="#7ff90c" stroke-width="0.3"/>
<path d="M412.2 123.4L416.2 124.1L419.4 123.3L415.4 122.6Z" fill="#22ef21" stroke="#22ef21" stroke-width="0.3"/>
<path d="M444.9 122.6L449.1 123.2L452.1 121.8L447.9 121.3Z" fill="#5ff613" stroke="#5ff613" stroke-width="0.3"/>
<path d="M306.8 104.7L310.4 106L314.1 107.1L310.6 105.9Z" fill="#c30800" stroke="#c30800" stroke-width="0.3"/>
<path d="M477.7 118.7L482 119.1L484.8 117.2L480.5 116.8Z" fill="#e5ff00" stroke="#e5ff00" stroke-width="0.3"/>
<path d="M339.5 114L343.2 115.1L346.8 115.6L343.1 114.6Z" fill="#efc800" stroke="#efc800" stroke-width="0.3"/>
<path d="M372.3 120.2L376.1 121.2L379.5 121.1L375.7 120.2Z" fill="#a4fd03" stroke="#a4fd03" stroke-width="0.3"/>
<path d="M405 123.3L409 124.1L412.2 123.4L408.2 122.7Z" fill="#23ef20" stroke="#23ef20" stroke-width="0.3"/>
<path d="M437.8 123.2L441.9 123.9L444.9 122.6L440.8 122Z" fill="#3cf21b" stroke="#3cf21b" stroke-width="0.3"/>
<path d="M470.5 120.1L474.8 120.5L477.7 118.7L473.4 118.3Z" fill="#caff00" stroke="#caff00" stroke-width="0.3"/>
<path d="M332.3 112.3L335.9 113.4L339.5 114L335.9 113Z" fill="#e79100" stroke="#e79100" stroke-width="0.3"/>
<path d="M365 119.2L368.8 120.2L372.3 120.2L368.5 119.3Z" fill="#bfff00" stroke="#bfff00" stroke-width="0.3"/>
<path d="M397.8 123L401.7 123.9L405 123.3L401.1 122.5Z" fill="#2df01e" stroke="#2df01e" stroke-width="0.3"/>
<path d="M430.6 123.7L434.7 124.4L437.8 123.2L433.7 122.6Z" fill="#22ef21" stroke="#22ef21" stroke-width="0.3"/>
<path d="M463.4 121.3L467.6 121.8L470.5 120.1L466.3 119.7Z" fill="#b1ff01" stroke="#b1ff01" stroke-width="0.3"/>
<path d="M325 110.4L328.6 111.5L332.3 112.3L328.6 111.2Z" fill="#df5700" stroke="#df5700" stroke-width="0.3"/>
<path d="M357.8 118L361.5 119.1L365 119.2L361.3 118.2Z" fill="#d4ff00" stroke="#d4ff00" stroke-width="0.3"/>
<path d="M390.6 122.6L394.5 123.5L397.8 123L393.9 122.2Z" fill="#40f21a" stroke="#40f21a" stroke-width="0.3"/>
<path d="M423.4 124L427.5 124.7L430.6 123.7L426.5 123.1Z" fill="#10ed25" stroke="#10ed25" stroke-width="0.3"/>
<path d="M456.2 122.3L460.5 122.8L463.4 121.3L459.2 120.8Z" fill="#7af90d" stroke="#7af90d" stroke-width="0.3"/>
<path d="M317.7 108.3L321.3 109.4L325 110.4L321.4 109.2Z" fill="#d71b00" stroke="#d71b00" stroke-width="0.3"/>
<path d="M350.5 116.7L354.2 117.7L357.8 118L354 117Z" fill="#e8fc00" stroke="#e8fc00" stroke-width="0.3"/>
<path d="M383.3 122L387.2 122.9L390.6 122.6L386.7 121.7Z" fill="#5bf514" stroke="#5bf514" stroke-width="0.3"/>
<path d="M416.2 124.1L420.2 124.9L423.4 124L419.4 123.3Z" fill="#06ec27" stroke="#06ec27" stroke-width="0.3"/>
<path d="M449.1 123.2L453.3 123.7L456.2 122.3L452.1 121.8Z" fill="#4df417" stroke="#4df417" stroke-width="0.3"/>
<path d="M310.4 106L313.9 107.2L317.7 108.3L314.1 107.1Z" fill="#ca0b00" stroke="#ca0b00" stroke-width="0.3"/>
<path d="M482 119.1L486.3 119.5L489.1 117.5L484.8 117.2Z" fill="#e1ff00" stroke="#e1ff00" stroke-width="0.3"/>
<path d="M343.2 115.1L346.9 116.2L350.5 116.7L346.8 115.6Z" fill="#f3e700" stroke="#f3e700" stroke-width="0.3"/>
<path d="M376.1 121.2L379.9 122.1L383.3 122L379.5 121.1Z" fill="#7ff90c" stroke="#7ff90c" stroke-width="0.3"/>
<path d="M409 124.1L413 124.9L416.2 124.1L412.2 123.4Z" fill="#06ec27" stroke="#06ec27" stroke-width="0.3"/>
<path d="M441.9 123.9L446 124.5L449.1 123.2L444.9 122.6Z" fill="#27ef1f" stroke="#27ef1f" stroke-width="0.3"/>
<path d="M474.8 120.5L479.1 120.9L482 119.1L477.7 118.7Z" fill="#c6ff00" stroke="#c6ff00" stroke-width="0.3"/>
<path d="M335.9 113.4L339.6 114.5L343.2 115.1L339.5 114Z" fill="#ebb000" stroke="#ebb000" stroke-width="0.3"/>
<path d="M368.8 120.2L372.6 121.2L376.1 121.2L372.3 120.2Z" fill="#abfe02" stroke="#abfe02" stroke-width="0.3"/>
<path d="M401.7 123.9L405.7 124.7L409 124.1L405 123.3Z" fill="#0dec25" stroke="#0dec25" stroke-width="0.3"/>
<path d="M434.7 124.4L438.8 125L441.9 123.9L437.8 123.2Z" fill="#0bec26" stroke="#0bec26" stroke-width="0.3"/>
<path d="M467.6 121.8L471.9 122.2L474.8 120.5L470.5 120.1Z" fill="#a2fd04" stroke="#a2fd04" stroke-width="0.3"/>
<path d="M328.6 111.5L332.2 112.7L335.9 113.4L332.3 112.3Z" fill="#e37600" stroke="#e37600" stroke-width="0.3"/>
<path d="M361.5 119.1L365.3 120.1L368.8 120.2L365 119.2Z" fill="#c4ff00" stroke="#c4ff00" stroke-width="0.3"/>
<path d="M394.5 123.5L398.4 124.3L401.7 123.9L397.8 123Z" fill="#1eee21" stroke="#1eee21" stroke-width="0.3"/>
<path d="M427.5 124.7L431.6 125.4L434.7 124.4L430.6 123.7Z" fill="#00ea33" stroke="#00ea33" stroke-width="0.3"/>
<path d="M460.5 122.8L464.7 123.4L467.6 121.8L463.4 121.3Z" fill="#6af710" stroke="#6af710" stroke-width="0.3"/>
<path d="M321.3 109.4L324.9 110.7L328.6 111.5L325 110.4Z" fill="#db3a00" stroke="#db3a00" stroke-width="0.3"/>
<path d="M354.2 117.7L358 118.8L361.5 119.1L357.8 118Z" fill="#dbff00" stroke="#dbff00" stroke-width="0.3"/>
<path d="M387.2 122.9L391.2 123.8L394.5 123.5L390.6 122.6Z" fill="#37f11c" stroke="#37f11c" stroke-width="0.3"/>
<path d="M420.2 124.9L424.3 125.6L427.5 124.7L423.4 124Z" fill="#00e941" stroke="#00e941" stroke-width="0.3"/>
<path d="M453.3 123.7L457.5 124.3L460.5 122.8L456.2 122.3Z" fill="#3af11b" stroke="#3af11b" stroke-width="0.3"/>
<path d="M313.9 107.2L317.5 108.4L321.3 109.4L317.7 108.3Z" fill="#d10e00" stroke="#d10e00" stroke-width="0.3"/>
<path d="M346.9 116.2L350.7 117.3L354.2 117.7L350.5 116.7Z" fill="#eef800" stroke="#eef800" stroke-width="0.3"/>
<path d="M379.9 122.1L383.8 123.1L387.2 122.9L383.3 122Z" fill="#59f514" stroke="#59f514" stroke-width="0.3"/>
<path d="M413 124.9L417 125.7L420.2 124.9L416.2 124.1Z" fill="#00e844" stroke="#00e844" stroke-width="0.3"/>
<path d="M446 124.5L450.2 125.1L453.3 123.7L449.1 123.2Z" fill="#12ed24" stroke="#12ed24" stroke-width="0.3"/>
<path d="M479.1 120.9L483.5 121.4L486.3 119.5L482 119.1Z" fill="#c1ff00" stroke="#c1ff00" stroke-width="0.3"/>
<path d="M339.6 114.5L343.3 115.7L346.9 116.2L343.2 115.1Z" fill="#efd000" stroke="#efd000" stroke-width="0.3"/>
<path d="M372.6 121.2L376.5 122.2L379.9 122.1L376.1 121.2Z" fill="#83fa0b" stroke="#83fa0b" stroke-width="0.3"/>
<path d="M405.7 124.7L409.7 125.5L413 124.9L409 124.1Z" fill="#00e93e" stroke="#00e93e" stroke-width="0.3"/>
<path d="M438.8 125L443 125.7L446 124.5L441.9 123.9Z" fill="#00ea37" stroke="#00ea37" stroke-width="0.3"/>
<path d="M471.9 122.2L476.3 122.7L479.1 120.9L474.8 120.5Z" fill="#94fb07" stroke="#94fb07" stroke-width="0.3"/>
<path d="M332.2 112.7L335.9 113.9L339.6 114.5L335.9 113.4Z" fill="#e79600" stroke="#e79600" stroke-width="0.3"/>
<path d="M365.3 120.1L369.2 121.1L372.6 121.2L368.8 120.2Z" fill="#b5ff00" stroke="#b5ff00" stroke-width="0.3"/>
<path d="M398.4 124.3L402.4 125.2L405.7 124.7L401.7 123.9Z" fill="#00eb2c" stroke="#00eb2c" stroke-width="0.3"/>
<path d="M431.6 125.4L435.7 126.1L438.8 125L434.7 124.4Z" fill="#00e751" stroke="#00e751" stroke-width="0.3"/>
<path d="M464.7 123.4L469 123.9L471.9 122.2L467.6 121.8Z" fill="#59f514" stroke="#59f514" stroke-width="0.3"/>
<path d="M324.9 110.7L328.5 111.9L332.2 112.7L328.6 111.5Z" fill="#df5a00" stroke="#df5a00" stroke-width="0.3"/>
<path d="M358 118.8L361.8 119.9L365.3 120.1L361.5 119.1Z" fill="#cbff00" stroke="#cbff00" stroke-width="0.3"/>
<path d="M391.2 123.8L395.1 124.7L398.4 124.3L394.5 123.5Z" fill="#13ed24" stroke="#13ed24" stroke-width="0.3"/>
<path d="M424.3 125.6L428.4 126.4L431.6 125.4L427.5 124.7Z" fill="#00e662" stroke="#00e662" stroke-width="0.3"/>
<path d="M457.5 124.3L461.8 124.9L464.7 123.4L460.5 122.8Z" fill="#27ef1f" stroke="#27ef1f" stroke-width="0.3"/>
<path d="M317.5 108.4L321.1 109.7L324.9 110.7L321.3 109.4Z" fill="#d81b00" stroke="#d81b00" stroke-width="0.3"/>
<path d="M350.7 117.3L354.4 118.5L358 118.8L354.2 117.7Z" fill="#e1fc00" stroke="#e1fc00" stroke-width="0.3"/>
<path d="M383.8 123.1L387.8 124L391.2 123.8L387.2 122.9Z" fill="#33f11d" stroke="#33f11d" stroke-width="0.3"/>
<path d="M417 125.7L421.1 126.5L424.3 125.6L420.2 124.9Z" fill="#00e567" stroke="#00e567" stroke-width="0.3"/>
<path d="M450.2 125.1L454.5 125.7L457.5 124.3L453.3 123.7Z" fill="#00eb2b" stroke="#00eb2b" stroke-width="0.3"/>
<path d="M343.3 115.7L347.1 116.8L350.7 117.3L346.9 116.2Z" fill="#f4f200" stroke="#f4f200" stroke-width="0.3"/>
<path d="M376.5 122.2L380.4 123.2L383.8 123.1L379.9 122.1Z" fill="#5bf514" stroke="#5bf514" stroke-width="0.3"/>
<path d="M409.7 125.5L413.8 126.4L417 125.7L413 124.9Z" fill="#00e563" stroke="#00e563" stroke-width="0.3"/>
<path d="M443 125.7L447.2 126.4L450.2 125.1L446 124.5Z" fill="#00e752" stroke="#00e752" stroke-width="0.3"/>
<path d="M476.3 122.7L480.6 123.2L483.5 121.4L479.1 120.9Z" fill="#85fa0a" stroke="#85fa0a" stroke-width="0.3"/>
<path d="M335.9 113.9L339.7 115.1L343.3 115.7L339.6 114.5Z" fill="#ebb700" stroke="#ebb700" stroke-width="0.3"/>
<path d="M369.2 121.1L373.1 122.2L376.5 122.2L372.6 121.2Z" fill="#8cfb09" stroke="#8cfb09" stroke-width="0.3"/>
<path d="M402.4 125.2L406.5 126.1L409.7 125.5L405.7 124.7Z" fill="#00e755" stroke="#00e755" stroke-width="0.3"/>
<path d="M435.7 126.1L439.9 126.9L443 125.7L438.8 125Z" fill="#00e46f" stroke="#00e46f" stroke-width="0.3"/>
<path d="M469 123.9L473.3 124.4L476.3 122.7L471.9 122.2Z" fill="#49f318" stroke="#49f318" stroke-width="0.3"/>
<path d="M328.5 111.9L332.2 113.1L335.9 113.9L332.2 112.7Z" fill="#e37b00" stroke="#e37b00" stroke-width="0.3"/>
<path d="M361.8 119.9L365.7 121L369.2 121.1L365.3 120.1Z" fill="#baff00" stroke="#baff00" stroke-width="0.3"/>
<path d="M395.1 124.7L399.1 125.7L402.4 125.2L398.4 124.3Z" fill="#00e93c" stroke="#00e93c" stroke-width="0.3"/>
<path d="M428.4 126.4L432.6 127.2L435.7 126.1L431.6 125.4Z" fill="#00e382" stroke="#00e382" stroke-width="0.3"/>
<path d="M461.8 124.9L466.1 125.5L469 123.9L464.7 123.4Z" fill="#14ed23" stroke="#14ed23" stroke-width="0.3"/>
<path d="M321.1 109.7L324.8 110.9L328.5 111.9L324.9 110.7Z" fill="#dc3c00" stroke="#dc3c00" stroke-width="0.3"/>
<path d="M354.4 118.5L358.3 119.6L361.8 119.9L358 118.8Z" fill="#d3ff00" stroke="#d3ff00" stroke-width="0.3"/>
<path d="M387.8 124L391.7 125L395.1 124.7L391.2 123.8Z" fill="#0dec25" stroke="#0dec25" stroke-width="0.3"/>
<path d="M421.1 126.5L425.2 127.3L428.4 126.4L424.3 125.6Z" fill="#00e28b" stroke="#00e28b" stroke-width="0.3"/>
<path d="M454.5 125.7L458.8 126.4L461.8 124.9L457.5 124.3Z" fill="#00e844" stroke="#00e844" stroke-width="0.3"/>
<path d="M347.1 116.8L350.8 118L354.4 118.5L350.7 117.3Z" fill="#e7f800" stroke="#e7f800" stroke-width="0.3"/>
<path d="M380.4 123.2L384.4 124.2L387.8 124L383.8 123.1Z" fill="#33f11d" stroke="#33f11d" stroke-width="0.3"/>
<path d="M413.8 126.4L417.9 127.2L421.1 126.5L417 125.7Z" fill="#00e289" stroke="#00e289" stroke-width="0.3"/>
<path d="M447.2 126.4L451.4 127.1L454.5 125.7L450.2 125.1Z" fill="#00e56e" stroke="#00e56e" stroke-width="0.3"/>
<path d="M339.7 115.1L343.4 116.3L347.1 116.8L343.3 115.7Z" fill="#f0d900" stroke="#f0d900" stroke-width="0.3"/>
<path d="M373.1 122.2L377 123.2L380.4 123.2L376.5 122.2Z" fill="#61f612" stroke="#61f612" stroke-width="0.3"/>
<path d="M406.5 126.1L410.5 127L413.8 126.4L409.7 125.5Z" fill="#00e37d" stroke="#00e37d" stroke-width="0.3"/>
<path d="M439.9 126.9L444.1 127.6L447.2 126.4L443 125.7Z" fill="#00e28d" stroke="#00e28d" stroke-width="0.3"/>
<path d="M473.3 124.4L477.7 125L480.6 123.2L476.3 122.7Z" fill="#38f11c" stroke="#38f11c" stroke-width="0.3"/>
<path d="M332.2 113.1L336 114.3L339.7 115.1L335.9 113.9Z" fill="#e89c00" stroke="#e89c00" stroke-width="0.3"/>
<path d="M365.7 121L369.5 122.1L373.1 122.2L369.2 121.1Z" fill="#99fc06" stroke="#99fc06" stroke-width="0.3"/>
<path d="M399.1 125.7L403.1 126.6L406.5 126.1L402.4 125.2Z" fill="#00e566" stroke="#00e566" stroke-width="0.3"/>
<path d="M432.6 127.2L436.8 127.9L439.9 126.9L435.7 126.1Z" fill="#00e0a3" stroke="#00e0a3" stroke-width="0.3"/>
<path d="M466.1 125.5L470.4 126.1L473.3 124.4L469 123.9Z" fill="#02eb28" stroke="#02eb28" stroke-width="0.3"/>
<path d="M324.8 110.9L328.5 112.2L332.2 113.1L328.5 111.9Z" fill="#e05e00" stroke="#e05e00" stroke-width="0.3"/>
<path d="M358.3 119.6L362.1 120.7L365.7 121L361.8 119.9Z" fill="#c2ff00" stroke="#c2ff00" stroke-width="0.3"/>
<path d="M391.7 125L395.8 126L399.1 125.7L395.1 124.7Z" fill="#00e846" stroke="#00e846" stroke-width="0.3"/>
<path d="M425.2 127.3L429.4 128.1L432.6 127.2L428.4 126.4Z" fill="#00dfae" stroke="#00dfae" stroke-width="0.3"/>
<path d="M458.8 126.4L463.1 127L466.1 125.5L461.8 124.9Z" fill="#00e65d" stroke="#00e65d" stroke-width="0.3"/>
<path d="M350.8 118L354.7 119.2L358.3 119.6L354.4 118.5Z" fill="#d9fc00" stroke="#d9fc00" stroke-width="0.3"/>
<path d="M384.4 124.2L388.3 125.2L391.7 125L387.8 124Z" fill="#0bec26" stroke="#0bec26" stroke-width="0.3"/>
<path d="M417.9 127.2L422 128.1L425.2 127.3L421.1 126.5Z" fill="#00deae" stroke="#00deae" stroke-width="0.3"/>
<path d="M451.4 127.1L455.7 127.7L458.8 126.4L454.5 125.7Z" fill="#00e289" stroke="#00e289" stroke-width="0.3"/>
<path d="M343.4 116.3L347.2 117.5L350.8 118L347.1 116.8Z" fill="#eff400" stroke="#eff400" stroke-width="0.3"/>
<path d="M377 123.2L380.9 124.3L384.4 124.2L380.4 123.2Z" fill="#37f11c" stroke="#37f11c" stroke-width="0.3"/>
<path d="M410.5 127L414.6 127.9L417.9 127.2L413.8 126.4Z" fill="#00dfa5" stroke="#00dfa5" stroke-width="0.3"/>
<path d="M444.1 127.6L448.4 128.3L451.4 127.1L447.2 126.4Z" fill="#00dfab" stroke="#00dfab" stroke-width="0.3"/>
<path d="M336 114.3L339.7 115.6L343.4 116.3L339.7 115.1Z" fill="#ecbe00" stroke="#ecbe00" stroke-width="0.3"/>
<path d="M369.5 122.1L373.5 123.2L377 123.2L373.1 122.2Z" fill="#6cf710" stroke="#6cf710" stroke-width="0.3"/>
<path d="M403.1 126.6L407.2 127.6L410.5 127L406.5 126.1Z" fill="#00e191" stroke="#00e191" stroke-width="0.3"/>
<path d="M436.8 127.9L441 128.7L444.1 127.6L439.9 126.9Z" fill="#00ddc3" stroke="#00ddc3" stroke-width="0.3"/>
<path d="M470.4 126.1L474.8 126.7L477.7 125L473.3 124.4Z" fill="#00e93c" stroke="#00e93c" stroke-width="0.3"/>
<path d="M328.5 112.2L332.2 113.5L336 114.3L332.2 113.1Z" fill="#e47f00" stroke="#e47f00" stroke-width="0.3"/>
<path d="M362.1 120.7L366 121.9L369.5 122.1L365.7 121Z" fill="#aafe02" stroke="#aafe02" stroke-width="0.3"/>
<path d="M395.8 126L399.8 127L403.1 126.6L399.1 125.7Z" fill="#00e473" stroke="#00e473" stroke-width="0.3"/>
<path d="M429.4 128.1L433.6 128.9L436.8 127.9L432.6 127.2Z" fill="#00dbd1" stroke="#00dbd1" stroke-width="0.3"/>
<path d="M463.1 127L467.4 127.6L470.4 126.1L466.1 125.5Z" fill="#00e476" stroke="#00e476" stroke-width="0.3"/>
<path d="M354.7 119.2L358.5 120.4L362.1 120.7L358.3 119.6Z" fill="#caff00" stroke="#caff00" stroke-width="0.3"/>
<path d="M388.3 125.2L392.3 126.3L395.8 126L391.7 125Z" fill="#00e84b" stroke="#00e84b" stroke-width="0.3"/>
<path d="M422 128.1L426.2 129L429.4 128.1L425.2 127.3Z" fill="#00dbd4" stroke="#00dbd4" stroke-width="0.3"/>
<path d="M455.7 127.7L460.1 128.4L463.1 127L458.8 126.4Z" fill="#00dfa5" stroke="#00dfa5" stroke-width="0.3"/>
<path d="M347.2 117.5L351 118.7L354.7 119.2L350.8 118Z" fill="#e2f800" stroke="#e2f800" stroke-width="0.3"/>
<path d="M380.9 124.3L384.9 125.4L388.3 125.2L384.4 124.2Z" fill="#0dec25" stroke="#0dec25" stroke-width="0.3"/>
<path d="M414.6 127.9L418.8 128.8L422 128.1L417.9 127.2Z" fill="#00dccd" stroke="#00dccd" stroke-width="0.3"/>
<path d="M448.4 128.3L452.7 129.1L455.7 127.7L451.4 127.1Z" fill="#00dcc9" stroke="#00dcc9" stroke-width="0.3"/>
<path d="M339.7 115.6L343.5 116.8L347.2 117.5L343.4 116.3Z" fill="#f0e200" stroke="#f0e200" stroke-width="0.3"/>
<path d="M373.5 123.2L377.4 124.3L380.9 124.3L377 123.2Z" fill="#40f21a" stroke="#40f21a" stroke-width="0.3"/>
<path d="M407.2 127.6L411.3 128.5L414.6 127.9L410.5 127Z" fill="#00ddbc" stroke="#00ddbc" stroke-width="0.3"/>
<path d="M441 128.7L445.3 129.5L448.4 128.3L444.1 127.6Z" fill="#00dae4" stroke="#00dae4" stroke-width="0.3"/>
<path d="M332.2 113.5L336 114.8L339.7 115.6L336 114.3Z" fill="#e8a200" stroke="#e8a200" stroke-width="0.3"/>
<path d="M366 121.9L369.9 123L373.5 123.2L369.5 122.1Z" fill="#7cf90d" stroke="#7cf90d" stroke-width="0.3"/>
<path d="M399.8 127L403.9 128L407.2 127.6L403.1 126.6Z" fill="#00e0a0" stroke="#00e0a0" stroke-width="0.3"/>
<path d="M433.6 128.9L437.8 129.8L441 128.7L436.8 127.9Z" fill="#00d8f4" stroke="#00d8f4" stroke-width="0.3"/>
<path d="M467.4 127.6L471.8 128.3L474.8 126.7L470.4 126.1Z" fill="#00e18f" stroke="#00e18f" stroke-width="0.3"/>
<path d="M358.5 120.4L362.4 121.6L366 121.9L362.1 120.7Z" fill="#b8ff00" stroke="#b8ff00" stroke-width="0.3"/>
<path d="M392.3 126.3L396.4 127.3L399.8 127L395.8 126Z" fill="#00e37b" stroke="#00e37b" stroke-width="0.3"/>
<path d="M426.2 129L430.4 129.9L433.6 128.9L429.4 128.1Z" fill="#00d7fa" stroke="#00d7fa" stroke-width="0.3"/>
<path d="M460.1 128.4L464.4 129.1L467.4 127.6L463.1 127Z" fill="#00ddc0" stroke="#00ddc0" stroke-width="0.3"/>
<path d="M351 118.7L354.9 119.9L358.5 120.4L354.7 119.2Z" fill="#d3fc00" stroke="#d3fc00" stroke-width="0.3"/>
<path d="M384.9 125.4L388.9 126.5L392.3 126.3L388.3 125.2Z" fill="#00e84b" stroke="#00e84b" stroke-width="0.3"/>
<path d="M418.8 128.8L423 129.8L426.2 129L422 128.1Z" fill="#00d8f5" stroke="#00d8f5" stroke-width="0.3"/>
<path d="M452.7 129.1L457 129.8L460.1 128.4L455.7 127.7Z" fill="#00d9e7" stroke="#00d9e7" stroke-width="0.3"/>
<path d="M343.5 116.8L347.3 118.1L351 118.7L347.2 117.5Z" fill="#eaf400" stroke="#eaf400" stroke-width="0.3"/>
<path d="M377.4 124.3L381.4 125.4L384.9 125.4L380.9 124.3Z" fill="#14ed24" stroke="#14ed24" stroke-width="0.3"/>
<path d="M411.3 128.5L415.5 129.5L418.8 128.8L414.6 127.9Z" fill="#00d9e7" stroke="#00d9e7" stroke-width="0.3"/>
<path d="M445.3 129.5L449.6 130.3L452.7 129.1L448.4 128.3Z" fill="#00d3ff" stroke="#00d3ff" stroke-width="0.3"/>
<path d="M336 114.8L339.8 116.1L343.5 116.8L339.7 115.6Z" fill="#ecc500" stroke="#ecc500" stroke-width="0.3"/>
<path d="M369.9 123L373.9 124.2L377.4 124.3L373.5 123.2Z" fill="#4df417" stroke="#4df417" stroke-width="0.3"/>
<path d="M403.9 128L408 129L411.3 128.5L407.2 127.6Z" fill="#00dcce" stroke="#00dcce" stroke-width="0.3"/>
<path d="M437.8 129.8L442.1 130.6L445.3 129.5L441 128.7Z" fill="#01c3ff" stroke="#01c3ff" stroke-width="0.3"/>
<path d="M362.4 121.6L366.3 122.8L369.9 123L366 121.9Z" fill="#8ffb08" stroke="#8ffb08" stroke-width="0.3"/>
<path d="M396.4 127.3L400.5 128.4L403.9 128L399.8 127Z" fill="#00dfaa" stroke="#00dfaa" stroke-width="0.3"/>
<path d="M430.4 129.9L434.7 130.7L437.8 129.8L433.6 128.9Z" fill="#01bcfe" stroke="#01bcfe" stroke-width="0.3"/>
<path d="M464.4 129.1L468.8 129.8L471.8 128.3L467.4 127.6Z" fill="#00dadb" stroke="#00dadb" stroke-width="0.3"/>
<path d="M354.9 119.9L358.8 121.2L362.4 121.6L358.5 120.4Z" fill="#c2ff00" stroke="#c2ff00" stroke-width="0.3"/>
<path d="M388.9 126.5L393 127.6L396.4 127.3L392.3 126.3Z" fill="#00e37d" stroke="#00e37d" stroke-width="0.3"/>
<path d="M423 129.8L427.2 130.7L430.4 129.9L426.2 129Z" fill="#01bdfe" stroke="#01bdfe" stroke-width="0.3"/>
<path d="M457 129.8L461.4 130.6L464.4 129.1L460.1 128.4Z" fill="#00d2ff" stroke="#00d2ff" stroke-width="0.3"/>
<path d="M347.3 118.1L351.2 119.4L354.9 119.9L351 118.7Z" fill="#dbf800" stroke="#dbf800" stroke-width="0.3"/>
<path d="M381.4 125.4L385.4 126.6L388.9 126.5L384.9 125.4Z" fill="#00e845" stroke="#00e845" stroke-width="0.3"/>
<path d="M415.5 129.5L419.7 130.5L423 129.8L418.8 128.8Z" fill="#01c8ff" stroke="#01c8ff" stroke-width="0.3"/>
<path d="M449.6 130.3L453.9 131.1L457 129.8L452.7 129.1Z" fill="#02b7fe" stroke="#02b7fe" stroke-width="0.3"/>
<path d="M339.8 116.1L343.6 117.4L347.3 118.1L343.5 116.8Z" fill="#f0e900" stroke="#f0e900" stroke-width="0.3"/>
<path d="M373.9 124.2L377.9 125.4L381.4 125.4L377.4 124.3Z" fill="#1fee21" stroke="#1fee21" stroke-width="0.3"/>
<path d="M408 129L412.2 130L415.5 129.5L411.3 128.5Z" fill="#00d7fb" stroke="#00d7fb" stroke-width="0.3"/>
<path d="M442.1 130.6L446.4 131.5L449.6 130.3L445.3 129.5Z" fill="#02a5fe" stroke="#02a5fe" stroke-width="0.3"/>
<path d="M366.3 122.8L370.3 124L373.9 124.2L369.9 123Z" fill="#5ff613" stroke="#5ff613" stroke-width="0.3"/>
<path d="M400.5 128.4L404.6 129.5L408 129L403.9 128Z" fill="#00dada" stroke="#00dada" stroke-width="0.3"/>
<path d="M434.7 130.7L438.9 131.6L442.1 130.6L437.8 129.8Z" fill="#039cfe" stroke="#039cfe" stroke-width="0.3"/>
<path d="M358.8 121.2L362.7 122.4L366.3 122.8L362.4 121.6Z" fill="#a7fe03" stroke="#a7fe03" stroke-width="0.3"/>
<path d="M393 127.6L397.1 128.7L400.5 128.4L396.4 127.3Z" fill="#00deaf" stroke="#00deaf" stroke-width="0.3"/>
<path d="M427.2 130.7L431.4 131.6L434.7 130.7L430.4 129.9Z" fill="#039bfe" stroke="#039bfe" stroke-width="0.3"/>
<path d="M461.4 130.6L465.8 131.3L468.8 129.8L464.4 129.1Z" fill="#01b8fe" stroke="#01b8fe" stroke-width="0.3"/>
<path d="M351.2 119.4L355.1 120.7L358.8 121.2L354.9 119.9Z" fill="#cbfd00" stroke="#cbfd00" stroke-width="0.3"/>
<path d="M385.4 126.6L389.5 127.7L393 127.6L388.9 126.5Z" fill="#00e37a" stroke="#00e37a" stroke-width="0.3"/>
<path d="M419.7 130.5L423.9 131.5L427.2 130.7L423 129.8Z" fill="#03a3fe" stroke="#03a3fe" stroke-width="0.3"/>
<path d="M453.9 131.1L458.3 131.9L461.4 130.6L457 129.8Z" fill="#039bfe" stroke="#039bfe" stroke-width="0.3"/>
<path d="M343.6 117.4L347.5 118.8L351.2 119.4L347.3 118.1Z" fill="#e5f400" stroke="#e5f400" stroke-width="0.3"/>
<path d="M377.9 125.4L381.9 126.6L385.4 126.6L381.4 125.4Z" fill="#00e93b" stroke="#00e93b" stroke-width="0.3"/>
<path d="M412.2 130L416.3 131.1L419.7 130.5L415.5 129.5Z" fill="#02b4fe" stroke="#02b4fe" stroke-width="0.3"/>
<path d="M446.4 131.5L450.8 132.3L453.9 131.1L449.6 130.3Z" fill="#0487fd" stroke="#0487fd" stroke-width="0.3"/>
<path d="M370.3 124L374.3 125.2L377.9 125.4L373.9 124.2Z" fill="#2ef01e" stroke="#2ef01e" stroke-width="0.3"/>
<path d="M404.6 129.5L408.8 130.5L412.2 130L408 129Z" fill="#00ceff" stroke="#00ceff" stroke-width="0.3"/>
<path d="M438.9 131.6L443.3 132.5L446.4 131.5L442.1 130.6Z" fill="#047cfd" stroke="#047cfd" stroke-width="0.3"/>
<path d="M362.7 122.4L366.7 123.7L370.3 124L366.3 122.8Z" fill="#75f80e" stroke="#75f80e" stroke-width="0.3"/>
<path d="M397.1 128.7L401.2 129.8L404.6 129.5L400.5 128.4Z" fill="#00dae2" stroke="#00dae2" stroke-width="0.3"/>
<path d="M431.4 131.6L435.7 132.6L438.9 131.6L434.7 130.7Z" fill="#0579fd" stroke="#0579fd" stroke-width="0.3"/>
<path d="M355.1 120.7L359 122L362.7 122.4L358.8 121.2Z" fill="#baff00" stroke="#baff00" stroke-width="0.3"/>
<path d="M389.5 127.7L393.6 128.9L397.1 128.7L393 127.6Z" fill="#00deaf" stroke="#00deaf" stroke-width="0.3"/>
<path d="M423.9 131.5L428.2 132.4L431.4 131.6L427.2 130.7Z" fill="#047ffd" stroke="#047ffd" stroke-width="0.3"/>
<path d="M458.3 131.9L462.8 132.7L465.8 131.3L461.4 130.6Z" fill="#0480fd" stroke="#0480fd" stroke-width="0.3"/>
<path d="M347.5 118.8L351.4 120.1L355.1 120.7L351.2 119.4Z" fill="#d4f900" stroke="#d4f900" stroke-width="0.3"/>
<path d="M381.9 126.6L386 127.8L389.5 127.7L385.4 126.6Z" fill="#00e472" stroke="#00e472" stroke-width="0.3"/>
<path d="M416.3 131.1L420.6 132.1L423.9 131.5L419.7 130.5Z" fill="#048efd" stroke="#048efd" stroke-width="0.3"/>
<path d="M450.8 132.3L455.2 133.2L458.3 131.9L453.9 131.1Z" fill="#056afc" stroke="#056afc" stroke-width="0.3"/>
<path d="M374.3 125.2L378.3 126.5L381.9 126.6L377.9 125.4Z" fill="#00eb2b" stroke="#00eb2b" stroke-width="0.3"/>
<path d="M408.8 130.5L413 131.6L416.3 131.1L412.2 130Z" fill="#02a5fe" stroke="#02a5fe" stroke-width="0.3"/>
<path d="M443.3 132.5L447.7 133.5L450.8 132.3L446.4 131.5Z" fill="#065cfc" stroke="#065cfc" stroke-width="0.3"/>
<path d="M366.7 123.7L370.7 125L374.3 125.2L370.3 124Z" fill="#42f219" stroke="#42f219" stroke-width="0.3"/>
<path d="M401.2 129.8L405.4 130.9L408.8 130.5L404.6 129.5Z" fill="#01c5ff" stroke="#01c5ff" stroke-width="0.3"/>
<path d="M435.7 132.6L440.1 133.6L443.3 132.5L438.9 131.6Z" fill="#0657fc" stroke="#0657fc" stroke-width="0.3"/>
<path d="M359 122L363 123.3L366.7 123.7L362.7 122.4Z" fill="#8ffb08" stroke="#8ffb08" stroke-width="0.3"/>
<path d="M393.6 128.9L397.7 130L401.2 129.8L397.1 128.7Z" fill="#00dae4" stroke="#00dae4" stroke-width="0.3"/>
<path d="M428.2 132.4L432.5 133.5L435.7 132.6L431.4 131.6Z" fill="#065bfc" stroke="#065bfc" stroke-width="0.3"/>
<path d="M351.4 120.1L355.3 121.5L359 122L355.1 120.7Z" fill="#c4fd00" stroke="#c4fd00" stroke-width="0.3"/>
<path d="M386 127.8L390.1 129L393.6 128.9L389.5 127.7Z" fill="#00dfa9" stroke="#00dfa9" stroke-width="0.3"/>
<path d="M420.6 132.1L424.9 133.2L428.2 132.4L423.9 131.5Z" fill="#0567fc" stroke="#0567fc" stroke-width="0.3"/>
<path d="M455.2 133.2L459.7 134.1L462.8 132.7L458.3 131.9Z" fill="#074cfc" stroke="#074cfc" stroke-width="0.3"/>
<path d="M378.3 126.5L382.4 127.7L386 127.8L381.9 126.6Z" fill="#00e565" stroke="#00e565" stroke-width="0.3"/>
<path d="M413 131.6L417.2 132.7L420.6 132.1L416.3 131.1Z" fill="#047dfd" stroke="#047dfd" stroke-width="0.3"/>
<path d="M447.7 133.5L452.1 134.4L455.2 133.2L450.8 132.3Z" fill="#083cfb" stroke="#083cfb" stroke-width="0.3"/>
<path d="M370.7 125L374.7 126.3L378.3 126.5L374.3 125.2Z" fill="#0fed25" stroke="#0fed25" stroke-width="0.3"/>
<path d="M405.4 130.9L409.6 132.1L413 131.6L408.8 130.5Z" fill="#039bfe" stroke="#039bfe" stroke-width="0.3"/>
<path d="M440.1 133.6L444.5 134.5L447.7 133.5L443.3 132.5Z" fill="#0835fb" stroke="#0835fb" stroke-width="0.3"/>
<path d="M363 123.3L367 124.7L370.7 125L366.7 123.7Z" fill="#5af514" stroke="#5af514" stroke-width="0.3"/>
<path d="M397.7 130L401.9 131.2L405.4 130.9L401.2 129.8Z" fill="#01c1fe" stroke="#01c1fe" stroke-width="0.3"/>
<path d="M432.5 133.5L436.8 134.5L440.1 133.6L435.7 132.6Z" fill="#0837fb" stroke="#0837fb" stroke-width="0.3"/>
<path d="M355.3 121.5L359.3 122.8L363 123.3L359 122Z" fill="#adfe02" stroke="#adfe02" stroke-width="0.3"/>
<path d="M390.1 129L394.2 130.2L397.7 130L393.6 128.9Z" fill="#00dae1" stroke="#00dae1" stroke-width="0.3"/>
<path d="M424.9 133.2L429.2 134.2L432.5 133.5L428.2 132.4Z" fill="#0741fb" stroke="#0741fb" stroke-width="0.3"/>
<path d="M382.4 127.7L386.5 129L390.1 129L386 127.8Z" fill="#00e09f" stroke="#00e09f" stroke-width="0.3"/>
<path d="M417.2 132.7L421.5 133.8L424.9 133.2L420.6 132.1Z" fill="#0654fc" stroke="#0654fc" stroke-width="0.3"/>
<path d="M452.1 134.4L456.5 135.3L459.7 134.1L455.2 133.2Z" fill="#091cfa" stroke="#091cfa" stroke-width="0.3"/>
<path d="M374.7 126.3L378.8 127.6L382.4 127.7L378.3 126.5Z" fill="#00e752" stroke="#00e752" stroke-width="0.3"/>
<path d="M409.6 132.1L413.8 133.2L417.2 132.7L413 131.6Z" fill="#0570fc" stroke="#0570fc" stroke-width="0.3"/>
<path d="M444.5 134.5L448.9 135.5L452.1 134.4L447.7 133.5Z" fill="#0a13fa" stroke="#0a13fa" stroke-width="0.3"/>
<path d="M367 124.7L371.1 126L374.7 126.3L370.7 125Z" fill="#25ef20" stroke="#25ef20" stroke-width="0.3"/>
<path d="M401.9 131.2L406.1 132.4L409.6 132.1L405.4 130.9Z" fill="#0394fd" stroke="#0394fd" stroke-width="0.3"/>
<path d="M436.8 134.5L441.2 135.5L444.5 134.5L440.1 133.6Z" fill="#0a13fa" stroke="#0a13fa" stroke-width="0.3"/>
<path d="M359.3 122.8L363.3 124.2L367 124.7L363 123.3Z" fill="#76f80e" stroke="#76f80e" stroke-width="0.3"/>
<path d="M394.2 130.2L398.4 131.4L401.9 131.2L397.7 130Z" fill="#01c2fe" stroke="#01c2fe" stroke-width="0.3"/>
<path d="M429.2 134.2L433.5 135.3L436.8 134.5L432.5 133.5Z" fill="#091bfa" stroke="#091bfa" stroke-width="0.3"/>
<path d="M386.5 129L390.7 130.3L394.2 130.2L390.1 129Z" fill="#00dbd9" stroke="#00dbd9" stroke-width="0.3"/>
<path d="M421.5 133.8L425.9 134.9L429.2 134.2L424.9 133.2Z" fill="#082cfb" stroke="#082cfb" stroke-width="0.3"/>
<path d="M378.8 127.6L382.9 128.9L386.5 129L382.4 127.7Z" fill="#00e18f" stroke="#00e18f" stroke-width="0.3"/>
<path d="M413.8 133.2L418.1 134.4L421.5 133.8L417.2 132.7Z" fill="#0745fb" stroke="#0745fb" stroke-width="0.3"/>
<path d="M448.9 135.5L453.3 136.5L456.5 135.3L452.1 134.4Z" fill="#1809f5" stroke="#1809f5" stroke-width="0.3"/>
<path d="M371.1 126L375.2 127.4L378.8 127.6L374.7 126.3Z" fill="#00e93b" stroke="#00e93b" stroke-width="0.3"/>
<path d="M406.1 132.4L410.4 133.6L413.8 133.2L409.6 132.1Z" fill="#0568fc" stroke="#0568fc" stroke-width="0.3"/>
<path d="M441.2 135.5L445.7 136.5L448.9 135.5L444.5 134.5Z" fill="#1a08f4" stroke="#1a08f4" stroke-width="0.3"/>
<path d="M363.3 124.2L367.4 125.6L371.1 126L367 124.7Z" fill="#3ff21a" stroke="#3ff21a" stroke-width="0.3"/>
<path d="M398.4 131.4L402.7 132.7L406.1 132.4L401.9 131.2Z" fill="#0393fd" stroke="#0393fd" stroke-width="0.3"/>
<path d="M433.5 135.3L437.9 136.4L441.2 135.5L436.8 134.5Z" fill="#1609f5" stroke="#1609f5" stroke-width="0.3"/>
<path d="M390.7 130.3L394.9 131.6L398.4 131.4L394.2 130.2Z" fill="#01c6ff" stroke="#01c6ff" stroke-width="0.3"/>
<path d="M425.9 134.9L430.2 136.1L433.5 135.3L429.2 134.2Z" fill="#0e0af9" stroke="#0e0af9" stroke-width="0.3"/>
<path d="M382.9 128.9L387.1 130.2L390.7 130.3L386.5 129Z" fill="#00dccb" stroke="#00dccb" stroke-width="0.3"/>
<path d="M418.1 134.4L422.5 135.6L425.9 134.9L421.5 133.8Z" fill="#091bfa" stroke="#091bfa" stroke-width="0.3"/>
<path d="M375.2 127.4L379.3 128.7L382.9 128.9L378.8 127.6Z" fill="#00e37a" stroke="#00e37a" stroke-width="0.3"/>
<path d="M410.4 133.6L414.7 134.8L418.1 134.4L413.8 133.2Z" fill="#083bfb" stroke="#083bfb" stroke-width="0.3"/>
<path d="M445.7 136.5L450.1 137.6L453.3 136.5L448.9 135.5Z" fill="#2f07ec" stroke="#2f07ec" stroke-width="0.3"/>
<path d="M367.4 125.6L371.5 127L375.2 127.4L371.1 126Z" fill="#09ec26" stroke="#09ec26" stroke-width="0.3"/>
<path d="M402.7 132.7L406.9 134L410.4 133.6L406.1 132.4Z" fill="#0664fc" stroke="#0664fc" stroke-width="0.3"/>
<path d="M437.9 136.4L442.4 137.5L445.7 136.5L441.2 135.5Z" fill="#2c07ed" stroke="#2c07ed" stroke-width="0.3"/>
<path d="M394.9 131.6L399.1 132.9L402.7 132.7L398.4 131.4Z" fill="#0395fd" stroke="#0395fd" stroke-width="0.3"/>
<path d="M430.2 136.1L434.6 137.2L437.9 136.4L433.5 135.3Z" fill="#2507f0" stroke="#2507f0" stroke-width="0.3"/>
<path d="M387.1 130.2L391.3 131.6L394.9 131.6L390.7 130.3Z" fill="#00d0ff" stroke="#00d0ff" stroke-width="0.3"/>
<path d="M422.5 135.6L426.9 136.7L430.2 136.1L425.9 134.9Z" fill="#1909f4" stroke="#1909f4" stroke-width="0.3"/>
<path d="M379.3 128.7L383.5 130.1L387.1 130.2L382.9 128.9Z" fill="#00deb9" stroke="#00deb9" stroke-width="0.3"/>
<path d="M414.7 134.8L419.1 136.1L422.5 135.6L418.1 134.4Z" fill="#0a0efa" stroke="#0a0efa" stroke-width="0.3"/>
<path d="M371.5 127L375.6 128.5L379.3 128.7L375.2 127.4Z" fill="#00e65f" stroke="#00e65f" stroke-width="0.3"/>
<path d="M406.9 134L411.3 135.2L414.7 134.8L410.4 133.6Z" fill="#0835fb" stroke="#0835fb" stroke-width="0.3"/>
<path d="M442.4 137.5L446.9 138.6L450.1 137.6L445.7 136.5Z" fill="#4305e4" stroke="#4305e4" stroke-width="0.3"/>
<path d="M399.1 132.9L403.4 134.2L406.9 134L402.7 132.7Z" fill="#0664fc" stroke="#0664fc" stroke-width="0.3"/>
<path d="M434.6 137.2L439.1 138.4L442.4 137.5L437.9 136.4Z" fill="#3d05e7" stroke="#3d05e7" stroke-width="0.3"/>
<path d="M391.3 131.6L395.6 132.9L399.1 132.9L394.9 131.6Z" fill="#039cfe" stroke="#039cfe" stroke-width="0.3"/>
<path d="M426.9 136.7L431.3 137.9L434.6 137.2L430.2 136.1Z" fill="#3206eb" stroke="#3206eb" stroke-width="0.3"/>
<path d="M383.5 130.1L387.7 131.5L391.3 131.6L387.1 130.2Z" fill="#00d8f8" stroke="#00d8f8" stroke-width="0.3"/>
<path d="M419.1 136.1L423.5 137.3L426.9 136.7L422.5 135.6Z" fill="#2108f1" stroke="#2108f1" stroke-width="0.3"/>
<path d="M375.6 128.5L379.8 129.9L383.5 130.1L379.3 128.7Z" fill="#00e0a1" stroke="#00e0a1" stroke-width="0.3"/>
<path d="M411.3 135.2L415.6 136.5L419.1 136.1L414.7 134.8Z" fill="#0c0af9" stroke="#0c0af9" stroke-width="0.3"/>
<path d="M403.4 134.2L407.7 135.5L411.3 135.2L406.9 134Z" fill="#0833fb" stroke="#0833fb" stroke-width="0.3"/>
<path d="M439.1 138.4L443.6 139.5L446.9 138.6L442.4 137.5Z" fill="#5403de" stroke="#5403de" stroke-width="0.3"/>
<path d="M395.6 132.9L399.9 134.3L403.4 134.2L399.1 132.9Z" fill="#0569fc" stroke="#0569fc" stroke-width="0.3"/>
<path d="M431.3 137.9L435.7 139.1L439.1 138.4L434.6 137.2Z" fill="#4a04e2" stroke="#4a04e2" stroke-width="0.3"/>
<path d="M387.7 131.5L392 132.9L395.6 132.9L391.3 131.6Z" fill="#02a8fe" stroke="#02a8fe" stroke-width="0.3"/>
<path d="M423.5 137.3L427.9 138.6L431.3 137.9L426.9 136.7Z" fill="#3b05e7" stroke="#3b05e7" stroke-width="0.3"/>
<path d="M379.8 129.9L384 131.4L387.7 131.5L383.5 130.1Z" fill="#00dae3" stroke="#00dae3" stroke-width="0.3"/>
<path d="M415.6 136.5L420 137.8L423.5 137.3L419.1 136.1Z" fill="#2707ef" stroke="#2707ef" stroke-width="0.3"/>
<path d="M407.7 135.5L412.1 136.9L415.6 136.5L411.3 135.2Z" fill="#0f0af8" stroke="#0f0af8" stroke-width="0.3"/>
<path d="M399.9 134.3L404.2 135.7L407.7 135.5L403.4 134.2Z" fill="#0836fb" stroke="#0836fb" stroke-width="0.3"/>
<path d="M435.7 139.1L440.3 140.4L443.6 139.5L439.1 138.4Z" fill="#6302d8" stroke="#6302d8" stroke-width="0.3"/>
<path d="M392 132.9L396.3 134.4L399.9 134.3L395.6 132.9Z" fill="#0572fd" stroke="#0572fd" stroke-width="0.3"/>
<path d="M427.9 138.6L432.4 139.8L435.7 139.1L431.3 137.9Z" fill="#5503dd" stroke="#5503dd" stroke-width="0.3"/>
<path d="M384 131.4L388.3 132.8L392 132.9L387.7 131.5Z" fill="#02b8fe" stroke="#02b8fe" stroke-width="0.3"/>
<path d="M420 137.8L424.5 139.1L427.9 138.6L423.5 137.3Z" fill="#4205e4" stroke="#4205e4" stroke-width="0.3"/>
<path d="M412.1 136.9L416.5 138.2L420 137.8L415.6 136.5Z" fill="#2b07ed" stroke="#2b07ed" stroke-width="0.3"/>
<path d="M404.2 135.7L408.6 137.1L412.1 136.9L407.7 135.5Z" fill="#0e0af8" stroke="#0e0af8" stroke-width="0.3"/>
<path d="M396.3 134.4L400.6 135.8L404.2 135.7L399.9 134.3Z" fill="#083dfb" stroke="#083dfb" stroke-width="0.3"/>
<path d="M432.4 139.8L436.9 141.1L440.3 140.4L435.7 139.1Z" fill="#6f00d4" stroke="#6f00d4" stroke-width="0.3"/>
<path d="M388.3 132.8L392.6 134.3L396.3 134.4L392 132.9Z" fill="#0480fd" stroke="#0480fd" stroke-width="0.3"/>
<path d="M424.5 139.1L428.9 140.4L432.4 139.8L427.9 138.6Z" fill="#5e02da" stroke="#5e02da" stroke-width="0.3"/>
<path d="M416.5 138.2L421 139.6L424.5 139.1L420 137.8Z" fill="#4704e3" stroke="#4704e3" stroke-width="0.3"/>
<path d="M408.6 137.1L413 138.5L416.5 138.2L412.1 136.9Z" fill="#2c07ed" stroke="#2c07ed" stroke-width="0.3"/>
<path d="M400.6 135.8L405 137.3L408.6 137.1L404.2 135.7Z" fill="#0b0af9" stroke="#0b0af9" stroke-width="0.3"/>
<path d="M392.6 134.3L397 135.8L400.6 135.8L396.3 134.4Z" fill="#0748fc" stroke="#0748fc" stroke-width="0.3"/>
<path d="M428.9 140.4L433.5 141.8L436.9 141.1L432.4 139.8Z" fill="#7500d0" stroke="#7500d0" stroke-width="0.3"/>
<path d="M421 139.6L425.5 141L428.9 140.4L424.5 139.1Z" fill="#6301d8" stroke="#6301d8" stroke-width="0.3"/>
<path d="M413 138.5L417.5 139.9L421 139.6L416.5 138.2Z" fill="#4904e2" stroke="#4904e2" stroke-width="0.3"/>
<path d="M405 137.3L409.4 138.7L413 138.5L408.6 137.1Z" fill="#2a07ee" stroke="#2a07ee" stroke-width="0.3"/>
<path d="M397 135.8L401.4 137.3L405 137.3L400.6 135.8Z" fill="#0a11fa" stroke="#0a11fa" stroke-width="0.3"/>
<path d="M425.5 141L430 142.4L433.5 141.8L428.9 140.4Z" fill="#7700cd" stroke="#7700cd" stroke-width="0.3"/>
<path d="M417.5 139.9L422 141.4L425.5 141L421 139.6Z" fill="#6701d7" stroke="#6701d7" stroke-width="0.3"/>
<path d="M409.4 138.7L413.9 140.2L417.5 139.9L413 138.5Z" fill="#4904e2" stroke="#4904e2" stroke-width="0.3"/>
<path d="M401.4 137.3L405.8 138.9L409.4 138.7L405 137.3Z" fill="#2607ef" stroke="#2607ef" stroke-width="0.3"/>
<path d="M422 141.4L426.5 142.8L430 142.4L425.5 141Z" fill="#7900cb" stroke="#7900cb" stroke-width="0.3"/>
<path d="M413.9 140.2L418.4 141.7L422 141.4L417.5 139.9Z" fill="#6801d6" stroke="#6801d6" stroke-width="0.3"/>
<path d="M405.8 138.9L410.3 140.4L413.9 140.2L409.4 138.7Z" fill="#4604e3" stroke="#4604e3" stroke-width="0.3"/>
<path d="M418.4 141.7L423 143.2L426.5 142.8L422 141.4Z" fill="#7a00cb" stroke="#7a00cb" stroke-width="0.3"/>
<path d="M410.3 140.4L414.8 142L418.4 141.7L413.9 140.2Z" fill="#6601d7" stroke="#6601d7" stroke-width="0.3"/>
<path d="M414.8 142L419.4 143.5L423 143.2L418.4 141.7Z" fill="#7900cb" stroke="#7900cb" stroke-width="0.3"/>
<path d="M293 191.8V27.8" stroke="#000" stroke-width="0.9"/>
<path d="M293 162H289.5" stroke="#000" stroke-width="0.8"/>
<text x="288" y="164.7" text-anchor="end" class="t">100</text>
<path d="M293 135.1H289.5" stroke="#000" stroke-width="0.8"/>
<text x="288" y="137.8" text-anchor="end" class="t">105</text>
<path d="M293 108.3H289.5" stroke="#000" stroke-width="0.8"/>
<text x="288" y="111" text-anchor="end" class="t">110</text>
<path d="M293 81.4H289.5" stroke="#000" stroke-width="0.8"/>
<text x="288" y="84.1" text-anchor="end" class="t">115</text>
<path d="M293 54.6H289.5" stroke="#000" stroke-width="0.8"/>
<text x="288" y="57.3" text-anchor="end" class="t">120</text>
<path d="M293 27.8H289.5" stroke="#000" stroke-width="0.8"/>
<text x="288" y="30.5" text-anchor="end" class="t">125</text>
<text x="293" y="202.04" text-anchor="middle" class="t" style="font-size:8.00px">1.20</text>
<text x="321.1" y="206.28" text-anchor="middle" class="t" style="font-size:8.29px">1.15</text>
<text x="351.4" y="210.84" text-anchor="middle" class="t" style="font-size:8.61px">1.10</text>
<text x="384" y="215.77" text-anchor="middle" class="t" style="font-size:8.95px">1.05</text>
<text x="419.4" y="221.10" text-anchor="middle" class="t" style="font-size:9.32px">1.00</text>
<text x="441.6" y="215.96" text-anchor="middle" class="t" style="font-size:8.95px">2.2</text>
<text x="462.1" y="211.22" text-anchor="middle" class="t" style="font-size:8.62px">2.4</text>
<text x="481.2" y="206.81" text-anchor="middle" class="t" style="font-size:8.30px">2.6</text>
<text x="498.9" y="202.72" text-anchor="middle" class="t" style="font-size:8.01px">2.8</text>
<text x="515.4" y="198.90" text-anchor="middle" class="t" style="font-size:7.74px">3.0</text>
<text x="314.4" y="227.9" class="l">Cement-sand ratio</text>
<text x="436.4" y="227.2" class="l">Steel fiber content</text>
<text transform="translate(271.9 171.6) rotate(-90)" class="z">Compressive strength (MPa)</text>
<text x="307.4" y="25" class="h">(b)</text>
</svg></body></html>
